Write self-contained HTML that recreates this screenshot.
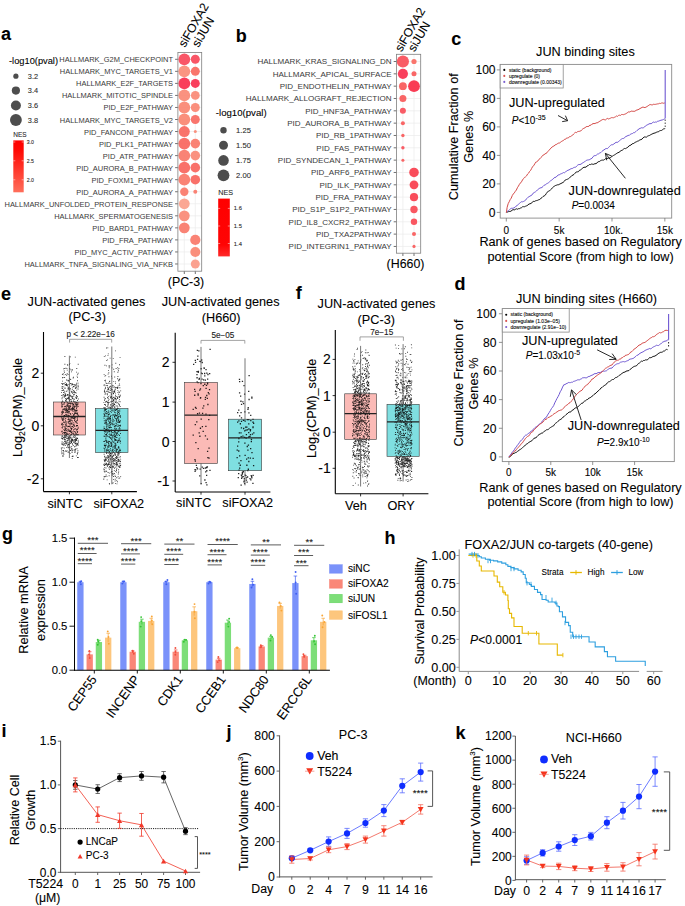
<!DOCTYPE html>
<html><head><meta charset="utf-8"><title>Figure</title>
<style>
html,body{margin:0;padding:0;background:#fff;}
svg{display:block;}
text{font-family:"Liberation Sans",sans-serif;stroke:#000;stroke-width:0.18px;stroke-opacity:0.55;}
</style></head><body>
<svg width="685" height="906" viewBox="0 0 685 906" font-family="Liberation Sans, sans-serif">
<rect width="685" height="906" fill="#fff"/>
<text x="1" y="39.5" font-size="18" font-weight="bold">a</text>
<rect x="177.9" y="52.4" width="23.8" height="218.8" fill="#fff" stroke="none" stroke-width="1" />
<line x1="184.3" y1="52.4" x2="184.3" y2="271.2" stroke="#ebebeb" stroke-width="0.7" />
<line x1="184.3" y1="271.2" x2="184.3" y2="274" stroke="#333" stroke-width="0.7" />
<line x1="195.3" y1="52.4" x2="195.3" y2="271.2" stroke="#ebebeb" stroke-width="0.7" />
<line x1="195.3" y1="271.2" x2="195.3" y2="274" stroke="#333" stroke-width="0.7" />
<line x1="177.9" y1="59.3" x2="201.7" y2="59.3" stroke="#ebebeb" stroke-width="0.7" />
<line x1="175.1" y1="59.3" x2="177.9" y2="59.3" stroke="#333" stroke-width="0.7" />
<text x="173" y="62.3" font-size="7.47" text-anchor="end" fill="#3a3a3a" stroke="#3a3a3a" style="stroke:none">HALLMARK_G2M_CHECKPOINT</text>
<line x1="177.9" y1="71.34" x2="201.7" y2="71.34" stroke="#ebebeb" stroke-width="0.7" />
<line x1="175.1" y1="71.34" x2="177.9" y2="71.34" stroke="#333" stroke-width="0.7" />
<text x="173" y="74.34" font-size="7.47" text-anchor="end" fill="#3a3a3a" stroke="#3a3a3a" style="stroke:none">HALLMARK_MYC_TARGETS_V1</text>
<line x1="177.9" y1="83.38" x2="201.7" y2="83.38" stroke="#ebebeb" stroke-width="0.7" />
<line x1="175.1" y1="83.38" x2="177.9" y2="83.38" stroke="#333" stroke-width="0.7" />
<text x="173" y="86.38" font-size="7.47" text-anchor="end" fill="#3a3a3a" stroke="#3a3a3a" style="stroke:none">HALLMARK_E2F_TARGETS</text>
<line x1="177.9" y1="95.42" x2="201.7" y2="95.42" stroke="#ebebeb" stroke-width="0.7" />
<line x1="175.1" y1="95.42" x2="177.9" y2="95.42" stroke="#333" stroke-width="0.7" />
<text x="173" y="98.42" font-size="7.47" text-anchor="end" fill="#3a3a3a" stroke="#3a3a3a" style="stroke:none">HALLMARK_MITOTIC_SPINDLE</text>
<line x1="177.9" y1="107.46" x2="201.7" y2="107.46" stroke="#ebebeb" stroke-width="0.7" />
<line x1="175.1" y1="107.46" x2="177.9" y2="107.46" stroke="#333" stroke-width="0.7" />
<text x="173" y="110.46" font-size="7.47" text-anchor="end" fill="#3a3a3a" stroke="#3a3a3a" style="stroke:none">PID_E2F_PATHWAY</text>
<line x1="177.9" y1="119.5" x2="201.7" y2="119.5" stroke="#ebebeb" stroke-width="0.7" />
<line x1="175.1" y1="119.5" x2="177.9" y2="119.5" stroke="#333" stroke-width="0.7" />
<text x="173" y="122.5" font-size="7.47" text-anchor="end" fill="#3a3a3a" stroke="#3a3a3a" style="stroke:none">HALLMARK_MYC_TARGETS_V2</text>
<line x1="177.9" y1="131.54" x2="201.7" y2="131.54" stroke="#ebebeb" stroke-width="0.7" />
<line x1="175.1" y1="131.54" x2="177.9" y2="131.54" stroke="#333" stroke-width="0.7" />
<text x="173" y="134.54" font-size="7.47" text-anchor="end" fill="#3a3a3a" stroke="#3a3a3a" style="stroke:none">PID_FANCONI_PATHWAY</text>
<line x1="177.9" y1="143.58" x2="201.7" y2="143.58" stroke="#ebebeb" stroke-width="0.7" />
<line x1="175.1" y1="143.58" x2="177.9" y2="143.58" stroke="#333" stroke-width="0.7" />
<text x="173" y="146.58" font-size="7.47" text-anchor="end" fill="#3a3a3a" stroke="#3a3a3a" style="stroke:none">PID_PLK1_PATHWAY</text>
<line x1="177.9" y1="155.62" x2="201.7" y2="155.62" stroke="#ebebeb" stroke-width="0.7" />
<line x1="175.1" y1="155.62" x2="177.9" y2="155.62" stroke="#333" stroke-width="0.7" />
<text x="173" y="158.62" font-size="7.47" text-anchor="end" fill="#3a3a3a" stroke="#3a3a3a" style="stroke:none">PID_ATR_PATHWAY</text>
<line x1="177.9" y1="167.66" x2="201.7" y2="167.66" stroke="#ebebeb" stroke-width="0.7" />
<line x1="175.1" y1="167.66" x2="177.9" y2="167.66" stroke="#333" stroke-width="0.7" />
<text x="173" y="170.66" font-size="7.47" text-anchor="end" fill="#3a3a3a" stroke="#3a3a3a" style="stroke:none">PID_AURORA_B_PATHWAY</text>
<line x1="177.9" y1="179.7" x2="201.7" y2="179.7" stroke="#ebebeb" stroke-width="0.7" />
<line x1="175.1" y1="179.7" x2="177.9" y2="179.7" stroke="#333" stroke-width="0.7" />
<text x="173" y="182.7" font-size="7.47" text-anchor="end" fill="#3a3a3a" stroke="#3a3a3a" style="stroke:none">PID_FOXM1_PATHWAY</text>
<line x1="177.9" y1="191.74" x2="201.7" y2="191.74" stroke="#ebebeb" stroke-width="0.7" />
<line x1="175.1" y1="191.74" x2="177.9" y2="191.74" stroke="#333" stroke-width="0.7" />
<text x="173" y="194.74" font-size="7.47" text-anchor="end" fill="#3a3a3a" stroke="#3a3a3a" style="stroke:none">PID_AURORA_A_PATHWAY</text>
<line x1="177.9" y1="203.78" x2="201.7" y2="203.78" stroke="#ebebeb" stroke-width="0.7" />
<line x1="175.1" y1="203.78" x2="177.9" y2="203.78" stroke="#333" stroke-width="0.7" />
<text x="173" y="206.78" font-size="7.47" text-anchor="end" fill="#3a3a3a" stroke="#3a3a3a" style="stroke:none">HALLMARK_UNFOLDED_PROTEIN_RESPONSE</text>
<line x1="177.9" y1="215.82" x2="201.7" y2="215.82" stroke="#ebebeb" stroke-width="0.7" />
<line x1="175.1" y1="215.82" x2="177.9" y2="215.82" stroke="#333" stroke-width="0.7" />
<text x="173" y="218.82" font-size="7.47" text-anchor="end" fill="#3a3a3a" stroke="#3a3a3a" style="stroke:none">HALLMARK_SPERMATOGENESIS</text>
<line x1="177.9" y1="227.86" x2="201.7" y2="227.86" stroke="#ebebeb" stroke-width="0.7" />
<line x1="175.1" y1="227.86" x2="177.9" y2="227.86" stroke="#333" stroke-width="0.7" />
<text x="173" y="230.86" font-size="7.47" text-anchor="end" fill="#3a3a3a" stroke="#3a3a3a" style="stroke:none">PID_BARD1_PATHWAY</text>
<line x1="177.9" y1="239.9" x2="201.7" y2="239.9" stroke="#ebebeb" stroke-width="0.7" />
<line x1="175.1" y1="239.9" x2="177.9" y2="239.9" stroke="#333" stroke-width="0.7" />
<text x="173" y="242.9" font-size="7.47" text-anchor="end" fill="#3a3a3a" stroke="#3a3a3a" style="stroke:none">PID_FRA_PATHWAY</text>
<line x1="177.9" y1="251.94" x2="201.7" y2="251.94" stroke="#ebebeb" stroke-width="0.7" />
<line x1="175.1" y1="251.94" x2="177.9" y2="251.94" stroke="#333" stroke-width="0.7" />
<text x="173" y="254.94" font-size="7.47" text-anchor="end" fill="#3a3a3a" stroke="#3a3a3a" style="stroke:none">PID_MYC_ACTIV_PATHWAY</text>
<line x1="177.9" y1="263.98" x2="201.7" y2="263.98" stroke="#ebebeb" stroke-width="0.7" />
<line x1="175.1" y1="263.98" x2="177.9" y2="263.98" stroke="#333" stroke-width="0.7" />
<text x="173" y="266.98" font-size="7.47" text-anchor="end" fill="#3a3a3a" stroke="#3a3a3a" style="stroke:none">HALLMARK_TNFA_SIGNALING_VIA_NFKB</text>
<circle cx="184.3" cy="59.3" r="5.9" fill="#f9495b" fill-opacity="0.93"/>
<circle cx="195.3" cy="59.3" r="4.5" fill="#f9485a" fill-opacity="0.93"/>
<circle cx="184.3" cy="71.34" r="5.9" fill="#fa8d78" fill-opacity="0.93"/>
<circle cx="195.3" cy="71.34" r="4.5" fill="#f96a60" fill-opacity="0.93"/>
<circle cx="184.3" cy="83.38" r="5.9" fill="#f9304f" fill-opacity="0.93"/>
<circle cx="195.3" cy="83.38" r="4.5" fill="#f93050" fill-opacity="0.93"/>
<circle cx="184.3" cy="95.42" r="5.9" fill="#fa8a76" fill-opacity="0.93"/>
<circle cx="195.3" cy="95.42" r="4.4" fill="#fa8a76" fill-opacity="0.93"/>
<circle cx="184.3" cy="107.46" r="5.9" fill="#fa8773" fill-opacity="0.93"/>
<circle cx="195.3" cy="107.46" r="4.5" fill="#fa8773" fill-opacity="0.93"/>
<circle cx="184.3" cy="119.5" r="5.9" fill="#fa8672" fill-opacity="0.93"/>
<circle cx="195.3" cy="119.5" r="4.5" fill="#f96a62" fill-opacity="0.93"/>
<circle cx="184.3" cy="131.54" r="5.5" fill="#f96860" fill-opacity="0.93"/>
<circle cx="195.3" cy="131.54" r="1.5" fill="#fa8a76" fill-opacity="0.93"/>
<circle cx="184.3" cy="143.58" r="5.9" fill="#f9665f" fill-opacity="0.93"/>
<circle cx="195.3" cy="143.58" r="4.8" fill="#fa7a6a" fill-opacity="0.93"/>
<circle cx="184.3" cy="155.62" r="5.9" fill="#f97a6a" fill-opacity="0.93"/>
<circle cx="195.3" cy="155.62" r="4.8" fill="#fa8a76" fill-opacity="0.93"/>
<circle cx="184.3" cy="167.66" r="5.9" fill="#f9665f" fill-opacity="0.93"/>
<circle cx="195.3" cy="167.66" r="4.8" fill="#f9665f" fill-opacity="0.93"/>
<circle cx="184.3" cy="179.7" r="5.9" fill="#fa7a6a" fill-opacity="0.93"/>
<circle cx="195.3" cy="179.7" r="4.8" fill="#f9665f" fill-opacity="0.93"/>
<circle cx="184.3" cy="191.74" r="4.2" fill="#fa7a6a" fill-opacity="0.93"/>
<circle cx="195.3" cy="191.74" r="2" fill="#fa7a6a" fill-opacity="0.93"/>
<circle cx="184.3" cy="203.78" r="5.4" fill="#fba08c" fill-opacity="0.93"/>
<circle cx="184.3" cy="215.82" r="5.4" fill="#fa8a76" fill-opacity="0.93"/>
<circle cx="184.3" cy="227.86" r="5.4" fill="#f97a6a" fill-opacity="0.93"/>
<circle cx="195.3" cy="239.9" r="5.1" fill="#fa7a6a" fill-opacity="0.93"/>
<circle cx="195.3" cy="251.94" r="5" fill="#fa8672" fill-opacity="0.93"/>
<circle cx="195.3" cy="263.98" r="4.5" fill="#fb9a86" fill-opacity="0.93"/>
<rect x="177.9" y="52.4" width="23.8" height="218.8" fill="none" stroke="#7f7f7f" stroke-width="0.8" />
<text x="185" y="48.1" font-size="12.1" transform="rotate(-60 185 48.1)">siFOXA2</text>
<text x="198.6" y="48.1" font-size="12.1" transform="rotate(-60 198.6 48.1)">siJUN</text>
<text x="186" y="286.2" font-size="12.4" text-anchor="middle">(PC-3)</text>
<text x="9" y="64.2" font-size="9.3" textLength="49" lengthAdjust="spacingAndGlyphs">-log10(pval)</text>
<circle cx="15.9" cy="76.2" r="2.6" fill="#4d4d4d" />
<text x="27.8" y="78.8" font-size="7.4" fill="#333" stroke="#333">3.2</text>
<circle cx="15.9" cy="90.6" r="4.1" fill="#4d4d4d" />
<text x="27.8" y="93.2" font-size="7.4" fill="#333" stroke="#333">3.4</text>
<circle cx="15.9" cy="105.5" r="5" fill="#4d4d4d" />
<text x="27.8" y="108.1" font-size="7.4" fill="#333" stroke="#333">3.6</text>
<circle cx="15.9" cy="120" r="5.9" fill="#4d4d4d" />
<text x="27.8" y="122.6" font-size="7.4" fill="#333" stroke="#333">3.8</text>
<text x="13.2" y="136.6" font-size="6.5" fill="#333" stroke="#333">NES</text>
<defs><linearGradient id="ga" x1="0" y1="0" x2="0" y2="1"><stop offset="0" stop-color="#ff0000"/><stop offset="0.2" stop-color="#ff0a05"/><stop offset="1" stop-color="#ff6e5a"/></linearGradient><linearGradient id="gb" x1="0" y1="0" x2="0" y2="1"><stop offset="0" stop-color="#ff0000"/><stop offset="0.8" stop-color="#ff0404"/><stop offset="1" stop-color="#ff2a2a"/></linearGradient></defs>
<rect x="13.3" y="140.4" width="10.4" height="51.9" fill="url(#ga)" stroke="none" stroke-width="1" />
<line x1="13.3" y1="142" x2="15.3" y2="142" stroke="#fff" stroke-width="0.5" />
<line x1="21.7" y1="142" x2="23.7" y2="142" stroke="#fff" stroke-width="0.5" />
<text x="26.8" y="143.8" font-size="5.2" fill="#333" stroke="#333">3.0</text>
<line x1="13.3" y1="160.8" x2="15.3" y2="160.8" stroke="#fff" stroke-width="0.5" />
<line x1="21.7" y1="160.8" x2="23.7" y2="160.8" stroke="#fff" stroke-width="0.5" />
<text x="26.8" y="162.6" font-size="5.2" fill="#333" stroke="#333">2.5</text>
<line x1="13.3" y1="179.8" x2="15.3" y2="179.8" stroke="#fff" stroke-width="0.5" />
<line x1="21.7" y1="179.8" x2="23.7" y2="179.8" stroke="#fff" stroke-width="0.5" />
<text x="26.8" y="181.6" font-size="5.2" fill="#333" stroke="#333">2.0</text>
<text x="235.8" y="42.2" font-size="18" font-weight="bold">b</text>
<rect x="396.5" y="54.3" width="24.2" height="198.9" fill="#fff" stroke="none" stroke-width="1" />
<line x1="402.9" y1="54.3" x2="402.9" y2="253.2" stroke="#ebebeb" stroke-width="0.7" />
<line x1="402.9" y1="253.2" x2="402.9" y2="256" stroke="#333" stroke-width="0.7" />
<line x1="414" y1="54.3" x2="414" y2="253.2" stroke="#ebebeb" stroke-width="0.7" />
<line x1="414" y1="253.2" x2="414" y2="256" stroke="#333" stroke-width="0.7" />
<line x1="396.5" y1="61.5" x2="420.7" y2="61.5" stroke="#ebebeb" stroke-width="0.7" />
<line x1="393.7" y1="61.5" x2="396.5" y2="61.5" stroke="#333" stroke-width="0.7" />
<text x="391.6" y="64.3" font-size="8.05" text-anchor="end" fill="#3a3a3a" stroke="#3a3a3a" style="stroke:none">HALLMARK_KRAS_SIGNALING_DN</text>
<line x1="396.5" y1="73.83" x2="420.7" y2="73.83" stroke="#ebebeb" stroke-width="0.7" />
<line x1="393.7" y1="73.83" x2="396.5" y2="73.83" stroke="#333" stroke-width="0.7" />
<text x="391.6" y="76.63" font-size="8.05" text-anchor="end" fill="#3a3a3a" stroke="#3a3a3a" style="stroke:none">HALLMARK_APICAL_SURFACE</text>
<line x1="396.5" y1="86.16" x2="420.7" y2="86.16" stroke="#ebebeb" stroke-width="0.7" />
<line x1="393.7" y1="86.16" x2="396.5" y2="86.16" stroke="#333" stroke-width="0.7" />
<text x="391.6" y="88.96" font-size="8.05" text-anchor="end" fill="#3a3a3a" stroke="#3a3a3a" style="stroke:none">PID_ENDOTHELIN_PATHWAY</text>
<line x1="396.5" y1="98.49" x2="420.7" y2="98.49" stroke="#ebebeb" stroke-width="0.7" />
<line x1="393.7" y1="98.49" x2="396.5" y2="98.49" stroke="#333" stroke-width="0.7" />
<text x="391.6" y="101.29" font-size="8.05" text-anchor="end" fill="#3a3a3a" stroke="#3a3a3a" style="stroke:none">HALLMARK_ALLOGRAFT_REJECTION</text>
<line x1="396.5" y1="110.82" x2="420.7" y2="110.82" stroke="#ebebeb" stroke-width="0.7" />
<line x1="393.7" y1="110.82" x2="396.5" y2="110.82" stroke="#333" stroke-width="0.7" />
<text x="391.6" y="113.62" font-size="8.05" text-anchor="end" fill="#3a3a3a" stroke="#3a3a3a" style="stroke:none">PID_HNF3A_PATHWAY</text>
<line x1="396.5" y1="123.15" x2="420.7" y2="123.15" stroke="#ebebeb" stroke-width="0.7" />
<line x1="393.7" y1="123.15" x2="396.5" y2="123.15" stroke="#333" stroke-width="0.7" />
<text x="391.6" y="125.95" font-size="8.05" text-anchor="end" fill="#3a3a3a" stroke="#3a3a3a" style="stroke:none">PID_AURORA_B_PATHWAY</text>
<line x1="396.5" y1="135.48" x2="420.7" y2="135.48" stroke="#ebebeb" stroke-width="0.7" />
<line x1="393.7" y1="135.48" x2="396.5" y2="135.48" stroke="#333" stroke-width="0.7" />
<text x="391.6" y="138.28" font-size="8.05" text-anchor="end" fill="#3a3a3a" stroke="#3a3a3a" style="stroke:none">PID_RB_1PATHWAY</text>
<line x1="396.5" y1="147.81" x2="420.7" y2="147.81" stroke="#ebebeb" stroke-width="0.7" />
<line x1="393.7" y1="147.81" x2="396.5" y2="147.81" stroke="#333" stroke-width="0.7" />
<text x="391.6" y="150.61" font-size="8.05" text-anchor="end" fill="#3a3a3a" stroke="#3a3a3a" style="stroke:none">PID_FAS_PATHWAY</text>
<line x1="396.5" y1="160.14" x2="420.7" y2="160.14" stroke="#ebebeb" stroke-width="0.7" />
<line x1="393.7" y1="160.14" x2="396.5" y2="160.14" stroke="#333" stroke-width="0.7" />
<text x="391.6" y="162.94" font-size="8.05" text-anchor="end" fill="#3a3a3a" stroke="#3a3a3a" style="stroke:none">PID_SYNDECAN_1_PATHWAY</text>
<line x1="396.5" y1="172.47" x2="420.7" y2="172.47" stroke="#ebebeb" stroke-width="0.7" />
<line x1="393.7" y1="172.47" x2="396.5" y2="172.47" stroke="#333" stroke-width="0.7" />
<text x="391.6" y="175.27" font-size="8.05" text-anchor="end" fill="#3a3a3a" stroke="#3a3a3a" style="stroke:none">PID_ARF6_PATHWAY</text>
<line x1="396.5" y1="184.8" x2="420.7" y2="184.8" stroke="#ebebeb" stroke-width="0.7" />
<line x1="393.7" y1="184.8" x2="396.5" y2="184.8" stroke="#333" stroke-width="0.7" />
<text x="391.6" y="187.6" font-size="8.05" text-anchor="end" fill="#3a3a3a" stroke="#3a3a3a" style="stroke:none">PID_ILK_PATHWAY</text>
<line x1="396.5" y1="197.13" x2="420.7" y2="197.13" stroke="#ebebeb" stroke-width="0.7" />
<line x1="393.7" y1="197.13" x2="396.5" y2="197.13" stroke="#333" stroke-width="0.7" />
<text x="391.6" y="199.93" font-size="8.05" text-anchor="end" fill="#3a3a3a" stroke="#3a3a3a" style="stroke:none">PID_FRA_PATHWAY</text>
<line x1="396.5" y1="209.46" x2="420.7" y2="209.46" stroke="#ebebeb" stroke-width="0.7" />
<line x1="393.7" y1="209.46" x2="396.5" y2="209.46" stroke="#333" stroke-width="0.7" />
<text x="391.6" y="212.26" font-size="8.05" text-anchor="end" fill="#3a3a3a" stroke="#3a3a3a" style="stroke:none">PID_S1P_S1P2_PATHWAY</text>
<line x1="396.5" y1="221.79" x2="420.7" y2="221.79" stroke="#ebebeb" stroke-width="0.7" />
<line x1="393.7" y1="221.79" x2="396.5" y2="221.79" stroke="#333" stroke-width="0.7" />
<text x="391.6" y="224.59" font-size="8.05" text-anchor="end" fill="#3a3a3a" stroke="#3a3a3a" style="stroke:none">PID_IL8_CXCR2_PATHWAY</text>
<line x1="396.5" y1="234.12" x2="420.7" y2="234.12" stroke="#ebebeb" stroke-width="0.7" />
<line x1="393.7" y1="234.12" x2="396.5" y2="234.12" stroke="#333" stroke-width="0.7" />
<text x="391.6" y="236.92" font-size="8.05" text-anchor="end" fill="#3a3a3a" stroke="#3a3a3a" style="stroke:none">PID_TXA2PATHWAY</text>
<line x1="396.5" y1="246.45" x2="420.7" y2="246.45" stroke="#ebebeb" stroke-width="0.7" />
<line x1="393.7" y1="246.45" x2="396.5" y2="246.45" stroke="#333" stroke-width="0.7" />
<text x="391.6" y="249.25" font-size="8.05" text-anchor="end" fill="#3a3a3a" stroke="#3a3a3a" style="stroke:none">PID_INTEGRIN1_PATHWAY</text>
<circle cx="402.9" cy="61.5" r="6.1" fill="#f9505a" fill-opacity="0.93"/>
<circle cx="414" cy="61.5" r="2.6" fill="#fa6a62" fill-opacity="0.93"/>
<circle cx="402.9" cy="73.83" r="5.1" fill="#f93050" fill-opacity="0.93"/>
<circle cx="414" cy="73.83" r="2.5" fill="#f95a5a" fill-opacity="0.93"/>
<circle cx="402.9" cy="86.16" r="3.9" fill="#f95a5a" fill-opacity="0.93"/>
<circle cx="414" cy="86.16" r="5.9" fill="#f92e48" fill-opacity="0.93"/>
<circle cx="402.9" cy="98.49" r="3.5" fill="#f95a5a" fill-opacity="0.93"/>
<circle cx="402.9" cy="110.82" r="3" fill="#f9505a" fill-opacity="0.93"/>
<circle cx="402.9" cy="123.15" r="2" fill="#f95a5a" fill-opacity="0.93"/>
<circle cx="402.9" cy="135.48" r="1.7" fill="#f95a5a" fill-opacity="0.93"/>
<circle cx="402.9" cy="147.81" r="1.7" fill="#f9505a" fill-opacity="0.93"/>
<circle cx="402.9" cy="160.14" r="1.5" fill="#f95a5a" fill-opacity="0.93"/>
<circle cx="414" cy="172.47" r="4.8" fill="#f9404f" fill-opacity="0.93"/>
<circle cx="414" cy="184.8" r="4.4" fill="#f9404f" fill-opacity="0.93"/>
<circle cx="414" cy="197.13" r="4.1" fill="#f9404f" fill-opacity="0.93"/>
<circle cx="414" cy="209.46" r="3.7" fill="#f94a55" fill-opacity="0.93"/>
<circle cx="414" cy="221.79" r="3.2" fill="#f94a55" fill-opacity="0.93"/>
<circle cx="414" cy="234.12" r="2" fill="#f95a5a" fill-opacity="0.93"/>
<circle cx="414" cy="246.45" r="1.6" fill="#f95a5a" fill-opacity="0.93"/>
<rect x="396.5" y="54.3" width="24.2" height="198.9" fill="none" stroke="#7f7f7f" stroke-width="0.8" />
<text x="401.4" y="52.5" font-size="12.1" transform="rotate(-60 401.4 52.5)">siFOXA2</text>
<text x="414.5" y="52.5" font-size="12.1" transform="rotate(-60 414.5 52.5)">siJUN</text>
<text x="405.5" y="268" font-size="12.4" text-anchor="middle">(H660)</text>
<text x="215.8" y="116.3" font-size="9.6" textLength="50.8" lengthAdjust="spacingAndGlyphs">-log10(pval)</text>
<circle cx="223.5" cy="130.3" r="3.2" fill="#4d4d4d" />
<text x="236.1" y="133" font-size="7.6" fill="#333" stroke="#333">1.25</text>
<circle cx="223.5" cy="145.3" r="4.5" fill="#4d4d4d" />
<text x="236.1" y="148" font-size="7.6" fill="#333" stroke="#333">1.50</text>
<circle cx="223.5" cy="160.4" r="5.3" fill="#4d4d4d" />
<text x="236.1" y="163.1" font-size="7.6" fill="#333" stroke="#333">1.75</text>
<circle cx="223.5" cy="175.3" r="5.9" fill="#4d4d4d" />
<text x="236.1" y="178" font-size="7.6" fill="#333" stroke="#333">2.00</text>
<text x="218.2" y="194.6" font-size="7.2" fill="#333" stroke="#333">NES</text>
<rect x="218.2" y="198.6" width="11.6" height="57.8" fill="url(#gb)" stroke="none" stroke-width="1" />
<line x1="218.2" y1="208.4" x2="220.2" y2="208.4" stroke="#fff" stroke-width="0.5" />
<line x1="227.8" y1="208.4" x2="229.8" y2="208.4" stroke="#fff" stroke-width="0.5" />
<text x="233.8" y="210.4" font-size="5.8" fill="#333" stroke="#333">1.6</text>
<line x1="218.2" y1="226" x2="220.2" y2="226" stroke="#fff" stroke-width="0.5" />
<line x1="227.8" y1="226" x2="229.8" y2="226" stroke="#fff" stroke-width="0.5" />
<text x="233.8" y="228" font-size="5.8" fill="#333" stroke="#333">1.5</text>
<line x1="218.2" y1="243.5" x2="220.2" y2="243.5" stroke="#fff" stroke-width="0.5" />
<line x1="227.8" y1="243.5" x2="229.8" y2="243.5" stroke="#fff" stroke-width="0.5" />
<text x="233.8" y="245.5" font-size="5.8" fill="#333" stroke="#333">1.4</text>
<text x="451.2" y="45" font-size="18" font-weight="bold">c</text>
<rect x="500.2" y="64.4" width="171.5" height="153.7" fill="none" stroke="#8a8a8a" stroke-width="0.9" />
<line x1="496.8" y1="212.4" x2="500.2" y2="212.4" stroke="#666" stroke-width="0.7" />
<text x="495.6" y="216.7" font-size="12.1" text-anchor="end">0</text>
<line x1="496.8" y1="183.9" x2="500.2" y2="183.9" stroke="#666" stroke-width="0.7" />
<text x="495.6" y="188.2" font-size="12.1" text-anchor="end">20</text>
<line x1="496.8" y1="155.4" x2="500.2" y2="155.4" stroke="#666" stroke-width="0.7" />
<text x="495.6" y="159.7" font-size="12.1" text-anchor="end">40</text>
<line x1="496.8" y1="126.9" x2="500.2" y2="126.9" stroke="#666" stroke-width="0.7" />
<text x="495.6" y="131.2" font-size="12.1" text-anchor="end">60</text>
<line x1="496.8" y1="98.4" x2="500.2" y2="98.4" stroke="#666" stroke-width="0.7" />
<text x="495.6" y="102.7" font-size="12.1" text-anchor="end">80</text>
<line x1="496.8" y1="69.9" x2="500.2" y2="69.9" stroke="#666" stroke-width="0.7" />
<text x="495.6" y="74.2" font-size="12.1" text-anchor="end">100</text>
<line x1="506.3" y1="218.1" x2="506.3" y2="221.5" stroke="#666" stroke-width="0.7" />
<text x="506.3" y="234.2" font-size="10" text-anchor="middle">0</text>
<line x1="559.15" y1="218.1" x2="559.15" y2="221.5" stroke="#666" stroke-width="0.7" />
<text x="559.15" y="234.2" font-size="10" text-anchor="middle">5k</text>
<line x1="612" y1="218.1" x2="612" y2="221.5" stroke="#666" stroke-width="0.7" />
<text x="613.5" y="234.2" font-size="10" text-anchor="middle">10k.</text>
<line x1="664.85" y1="218.1" x2="664.85" y2="221.5" stroke="#666" stroke-width="0.7" />
<text x="664.85" y="234.2" font-size="10" text-anchor="middle">15k</text>
<text x="585.4" y="56" font-size="12.7" text-anchor="middle">JUN binding sites</text>
<text x="458.5" y="136.7" font-size="12.7" text-anchor="middle" transform="rotate(-90 458.5 136.7)">Cumulative Fraction of</text>
<text x="473.5" y="136.7" font-size="12.7" text-anchor="middle" transform="rotate(-90 473.5 136.7)">Genes %</text>
<text x="580.6" y="246.4" font-size="12.7" text-anchor="middle">Rank of genes based on Regulatory</text>
<text x="580.6" y="260.7" font-size="12.7" text-anchor="middle">potential Score (from high to low)</text>
<rect x="500.2" y="64.4" width="63" height="23.6" fill="#fff" stroke="#8a8a8a" stroke-width="0.8" />
<circle cx="504.3" cy="69.9" r="1.05" fill="#000" />
<text x="508.9" y="71.6" font-size="5">static (background)</text>
<circle cx="504.3" cy="75.9" r="1.05" fill="#d9534f" />
<text x="508.9" y="77.6" font-size="5">upregulate (0)</text>
<circle cx="504.3" cy="81.9" r="1.05" fill="#7b5fd0" />
<text x="508.9" y="83.6" font-size="5">downregulate (0.00343)</text>
<polyline points="506.39,212.21 507.51,212.04 508.62,211.59 509.74,211.46 510.86,211.26 511.98,210.34 513.09,209.58 514.21,209.97 515.33,209.37 516.35,208.81 517.37,209.23 518.4,208.7 519.42,208.67 520.44,208.06 521.46,207.74 522.48,206.81 523.51,206.68 524.53,206.73 525.55,206.19 526.64,205.81 527.74,205.28 528.83,204.01 529.93,203.87 531.02,203.36 532.12,202.49 533.21,201.42 534.31,201.53 535.4,200.89 536.5,200.57 537.59,200.33 538.69,199.76 539.78,199.43 540.88,198.37 541.97,197.66 543.07,196.44 544.16,195.93 545.26,195.19 546.35,193.45 547.45,192.08 548.54,190.99 549.57,190.81 550.59,189.68 551.61,188.85 552.63,187.56 553.65,186.65 554.68,186.03 555.7,185.42 556.72,185.12 557.74,184.74 558.76,184.69 559.86,183.97 560.95,183.54 562.05,182.91 563.14,182.4 564.24,181.41 565.33,179.92 566.43,179.57 567.52,179.19 568.62,178.6 569.71,177.56 570.81,176.81 571.9,175.46 573,175.11 574.09,174.3 575.19,173.17 576.28,171.94 577.38,171.85 578.47,171.67 579.57,170.19 580.66,169.87 581.76,168.91 582.85,167.92 583.95,167.27 585.04,167.24 586.14,167.12 587.23,165.84 588.33,165.53 589.42,164.45 590.52,164.57 591.61,164.03 592.71,164.22 593.8,164.31 594.9,163.65 595.99,163.69 597.09,162.75 598.18,161.76 599.28,161.64 600.37,160.75 601.47,160.26 602.56,160.08 603.66,160.07 604.75,159.37 605.85,158.48 606.94,158.72 608.04,157.98 609.13,158.1 610.23,157.87 611.32,156.89 612.42,156.19 613.51,155.43 614.61,154.84 615.7,154.13 616.8,153.37 617.89,152.69 618.99,152.38 620.08,151.38 621.18,150.58 622.27,150.23 623.37,149.22 624.46,148.47 625.56,148.61 626.65,147.93 627.75,147.34 628.84,146.01 629.94,145.43 631.03,145.02 632.13,143.84 633.22,143.59 634.32,143.19 635.41,142 636.51,141.74 637.6,141.15 638.7,140.8 639.79,139.95 640.89,139.61 641.98,139.2 643.08,137.85 644.17,136.98 645.27,137.01 646.36,137.18 647.46,136.24 648.55,135.73 649.65,135.4 650.74,134.68 651.84,134.15 652.93,133.6 654.03,133.16 655.12,132.99 656.22,132.36 657.31,131.9 658.41,131.92 659.47,130.79 660.53,130.56 661.6,130.42 662.66,129.61 663.73,128.82 664.79,128.73" fill="none" stroke="#111" stroke-width="1" stroke-linejoin="round" />
<polyline points="506.39,212.21 507.45,211.14 508.52,210.56 509.58,209.63 510.65,208.68 511.71,208.22 512.77,208.27 513.87,207.9 514.96,207.36 516.06,206.11 517.15,205.46 518.25,204.48 519.34,203.49 520.44,202.54 521.46,201.75 522.48,201.82 523.51,201.44 524.53,200.88 525.55,200.23 526.64,198.66 527.74,197.49 528.83,196.8 529.93,196.15 531.02,195.54 532.12,194.84 533.21,193.11 534.31,192.47 535.4,191.86 536.5,190.99 537.59,189.76 538.69,189.08 539.78,187.9 540.88,187.9 541.97,187.44 543.07,186.44 544.16,185.21 545.26,184.87 546.35,183.93 547.45,183.39 548.54,182.7 549.61,181.7 550.67,180.71 551.74,180.07 552.8,179.21 553.87,178.09 554.93,177.33 556,177.25 557.06,176.02 558.12,175.03 559.19,174.88 560.25,174.11 561.32,173.71 562.41,173.22 563.51,172.56 564.6,172.73 565.7,171.65 566.79,171.04 567.89,170.2 568.98,170 570.08,169.23 571.17,168.65 572.27,168.55 573.36,167.75 574.46,167.35 575.55,167.3 576.65,166.09 577.74,165.09 578.84,164.48 579.93,164.53 581.03,164.17 582.12,163.28 583.22,162.63 584.31,161.85 585.41,161.31 586.5,160.2 587.6,160.02 588.69,159.86 589.79,159.55 590.88,158.8 591.98,158.33 593.07,156.66 594.17,155.71 595.26,155.68 596.36,155.15 597.45,154.11 598.55,153.86 599.64,153.04 600.74,152.62 601.83,151.5 602.93,150.47 604.02,149.93 605.12,149 606.21,148.5 607.31,148.66 608.4,147.66 609.5,146.4 610.59,145.4 611.69,144.68 612.78,144.71 613.88,143.94 614.97,143.11 616.07,142.22 617.16,142.51 618.26,141.78 619.35,140.85 620.45,139.88 621.54,139.06 622.64,138.47 623.73,138.39 624.83,137.42 625.92,136.44 627.02,136.11 628.11,135.34 629.21,135.51 630.3,134.28 631.4,133.79 632.49,133.52 633.59,132.66 634.68,132.58 635.78,131.65 636.87,130.55 637.97,129.83 639.06,128.8 640.16,128.42 641.25,127.77 642.35,127.92 643.44,127.73 644.54,127 645.63,125.78 646.73,125.17 647.82,124.6 648.92,124.02 650.01,123.52 651.11,123.79 652.2,122.89 653.3,122.05 654.39,122.41 655.49,122 656.58,122.08 657.68,121.23 658.77,121.12 659.87,120.58 660.96,120.22 662.24,119.98 663.52,119.44 664.79,118.76" fill="none" stroke="#6f58d2" stroke-width="1" stroke-linejoin="round" />
<polyline points="506.39,212.68 507.15,207.29 508.18,203.66 509.2,201.78 510.22,199.55 511.24,198.14 512.26,195.6 513.29,193.96 514.31,192.92 515.33,191.3 516.35,190.05 517.37,187.75 518.4,186.18 519.42,184.35 520.44,183 521.46,181.87 522.48,180.01 523.51,178.63 524.53,177.36 525.55,176.85 526.57,175.86 527.59,174.02 528.62,173.17 529.64,171.36 530.66,170.34 531.68,168.37 532.7,166.43 533.73,165.69 534.75,163.84 535.77,162.13 536.79,161.82 537.81,161.05 538.83,159.43 539.86,158.82 540.88,157.5 541.9,156.63 542.92,155.17 543.94,154.81 544.97,153.93 545.99,153.36 547.01,152.72 548.03,151.31 549.05,150.24 550.08,149.05 551.1,148.01 552.12,146.98 553.14,146.34 554.16,146.01 555.19,144.79 556.21,144.55 557.23,143.85 558.25,143.16 559.27,143.1 560.3,142.42 561.32,141.57 562.34,140.96 563.36,140.59 564.38,139.33 565.41,139.41 566.43,138.05 567.45,137.99 568.47,137.87 569.49,136.6 570.52,136.55 571.54,135.82 572.56,135.27 573.58,134 574.6,133.01 575.63,132.32 576.65,132.56 577.67,131.58 578.69,131.42 579.71,131.29 580.74,130.98 581.76,129.83 582.78,128.91 583.8,128.31 584.82,128.01 585.85,126.79 586.87,126.57 587.89,126.46 588.91,126.31 589.93,125.06 590.96,125.25 591.98,124.17 593,123.65 594.02,123.51 595.04,123.62 596.07,122.84 597.09,122.9 598.11,122.37 599.13,121.63 600.15,121.05 601.18,120.39 602.2,119.74 603.22,119.33 604.24,119.62 605.26,120.04 606.29,119.16 607.31,118.38 608.33,118.96 609.35,118.67 610.37,118.24 611.39,117.67 612.42,117.66 613.44,117.78 614.46,117.28 615.48,116.82 616.5,115.98 617.53,116.39 618.55,115.4 619.57,115.21 620.59,115.37 621.61,114.48 622.64,114.52 623.66,114.66 624.68,114.22 625.7,114 626.72,112.91 627.75,112.51 628.77,111.78 629.79,112.03 630.81,111.38 631.83,111.04 632.86,111.34 633.88,111.26 634.9,111.24 635.92,110.47 636.94,109.93 637.97,109.77 638.99,109.21 640.01,108.5 641.03,108.06 642.05,107.35 643.08,107.06 644.1,107.47 645.12,107.54 646.14,107.04 647.16,106.45 648.19,105.75 649.21,104.95 650.23,104.56 651.25,104.81 652.27,104.95 653.3,104.3 654.32,104.4 655.34,104.36 656.36,104.16 657.38,103.93 658.41,103.82 659.47,103.35 660.53,103.47 661.6,103.01 662.66,102.97 663.73,103.27 664.79,102.92" fill="none" stroke="#d44a48" stroke-width="1" stroke-linejoin="round" />
<line x1="665.2" y1="69.9" x2="665.2" y2="118.6" stroke="#6f58d2" stroke-width="1.1" />
<line x1="665.2" y1="119.5" x2="665.2" y2="128.8" stroke="#1a1a1a" stroke-width="0.8" stroke-dasharray="1.5,1.5"/>
<text x="508.9" y="106.5" font-size="12.7">JUN-upregulated</text>
<text x="511.8" y="124" font-size="10"><tspan font-style="italic">P</tspan>&lt;10<tspan font-size="7" dy="-3.6">-35</tspan></text>
<line x1="558" y1="115.5" x2="567.6" y2="120.7" stroke="#111" stroke-width="0.9" />
<line x1="567.6" y1="120.7" x2="562.18" y2="121.61" stroke="#111" stroke-width="0.9" />
<line x1="567.6" y1="120.7" x2="565.4" y2="115.66" stroke="#111" stroke-width="0.9" />
<text x="568.6" y="194.6" font-size="12.7">JUN-downregulated</text>
<text x="571.7" y="209.1" font-size="10"><tspan font-style="italic">P</tspan>=0.0034</text>
<line x1="625.4" y1="178.3" x2="605.4" y2="153.4" stroke="#111" stroke-width="0.9" />
<line x1="605.4" y1="153.4" x2="611.83" y2="156.16" stroke="#111" stroke-width="0.9" />
<line x1="605.4" y1="153.4" x2="606.71" y2="160.28" stroke="#111" stroke-width="0.9" />
<text x="454.5" y="290.2" font-size="18" font-weight="bold">d</text>
<rect x="502.3" y="308.6" width="172" height="153" fill="none" stroke="#8a8a8a" stroke-width="0.9" />
<line x1="498.9" y1="456.9" x2="502.3" y2="456.9" stroke="#666" stroke-width="0.7" />
<text x="496.4" y="461.2" font-size="12.1" text-anchor="end">0</text>
<line x1="498.9" y1="428.27" x2="502.3" y2="428.27" stroke="#666" stroke-width="0.7" />
<text x="496.4" y="432.57" font-size="12.1" text-anchor="end">20</text>
<line x1="498.9" y1="399.64" x2="502.3" y2="399.64" stroke="#666" stroke-width="0.7" />
<text x="496.4" y="403.94" font-size="12.1" text-anchor="end">40</text>
<line x1="498.9" y1="371.01" x2="502.3" y2="371.01" stroke="#666" stroke-width="0.7" />
<text x="496.4" y="375.31" font-size="12.1" text-anchor="end">60</text>
<line x1="498.9" y1="342.38" x2="502.3" y2="342.38" stroke="#666" stroke-width="0.7" />
<text x="496.4" y="346.68" font-size="12.1" text-anchor="end">80</text>
<line x1="498.9" y1="313.75" x2="502.3" y2="313.75" stroke="#666" stroke-width="0.7" />
<text x="496.4" y="318.05" font-size="12.1" text-anchor="end">100</text>
<line x1="508.9" y1="461.6" x2="508.9" y2="465" stroke="#666" stroke-width="0.7" />
<text x="508.9" y="475.9" font-size="10" text-anchor="middle">0</text>
<line x1="550.8" y1="461.6" x2="550.8" y2="465" stroke="#666" stroke-width="0.7" />
<text x="550.8" y="475.9" font-size="10" text-anchor="middle">5k</text>
<line x1="592.7" y1="461.6" x2="592.7" y2="465" stroke="#666" stroke-width="0.7" />
<text x="592.7" y="475.9" font-size="10" text-anchor="middle">10k</text>
<line x1="634.6" y1="461.6" x2="634.6" y2="465" stroke="#666" stroke-width="0.7" />
<text x="634.6" y="475.9" font-size="10" text-anchor="middle">15k</text>
<text x="516" y="302.5" font-size="12.7">JUN binding sites (H660)</text>
<text x="463.2" y="383" font-size="12.7" text-anchor="middle" transform="rotate(-90 463.2 383)">Cumulative Fraction of</text>
<text x="478.3" y="383.5" font-size="12.7" text-anchor="middle" transform="rotate(-90 478.3 383.5)">Genes %</text>
<text x="580.5" y="491.6" font-size="12.7" text-anchor="middle">Rank of genes based on Regulatory</text>
<text x="580.5" y="505.9" font-size="12.7" text-anchor="middle">potential Score (from high to low)</text>
<rect x="502.3" y="308.6" width="66.9" height="23.5" fill="#fff" stroke="#8a8a8a" stroke-width="0.8" />
<circle cx="506.2" cy="314.7" r="1.05" fill="#000" />
<text x="510.5" y="316.4" font-size="5">static (background)</text>
<circle cx="506.2" cy="320.9" r="1.05" fill="#d9534f" />
<text x="510.5" y="322.6" font-size="5">upregulate (1.03e−05)</text>
<circle cx="506.2" cy="327" r="1.05" fill="#7b5fd0" />
<text x="510.5" y="328.7" font-size="5">downregulate (2.91e−10)</text>
<polyline points="508.72,457.29 509.81,456.85 510.89,455.91 511.98,454.81 513.07,453.56 514.15,453.33 515.24,452.69 516.32,452.38 517.41,451.45 518.44,450.96 519.48,449.73 520.51,449.3 521.55,448.63 522.58,447.51 523.62,446.66 524.65,445.99 525.68,444.67 526.72,443.98 527.75,443.54 528.79,442.3 529.82,441.86 530.85,441.24 531.89,440.76 532.92,439.57 533.96,438.28 534.99,438.07 536.03,437.65 537.06,436.68 538.09,435.39 539.13,434.45 540.16,434.12 541.2,433.22 542.23,433.18 543.26,432.44 544.3,431.23 545.33,430.77 546.37,429.84 547.4,429.69 548.44,429.28 549.47,428.27 550.5,427.53 551.54,426.86 552.57,426.29 553.61,425.87 554.64,424.19 555.67,423.19 556.71,422.55 557.74,421.47 558.78,420.84 559.81,419.53 560.85,419.36 561.88,418.5 562.91,417.17 563.95,416.69 564.98,415.65 566.02,414.56 567.05,413.92 568.08,412.89 569.12,412.07 570.15,412.08 571.19,411.59 572.22,410.18 573.26,409.97 574.29,408.64 575.32,407.93 576.36,407.9 577.39,407.25 578.43,406.2 579.46,405.36 580.49,404.48 581.53,403.3 582.56,403.32 583.6,401.86 584.63,401.09 585.67,400.69 586.7,399.7 587.73,399.48 588.77,398.13 589.8,397.87 590.84,397.28 591.87,396.33 592.9,395.69 593.94,394.44 594.97,393.83 596.01,393.08 597.04,391.97 598.08,390.92 599.11,390.24 600.14,389.14 601.18,387.76 602.21,387.4 603.25,386.27 604.28,385.53 605.31,385.22 606.35,384 607.38,382.81 608.42,381.92 609.45,381.66 610.49,380.94 611.52,380.09 612.55,379.52 613.59,379.47 614.62,378.34 615.66,377.56 616.69,377.36 617.72,376.74 618.76,375.7 619.79,375.08 620.83,374.46 621.86,373.44 622.9,372.86 623.93,372.18 624.96,372.12 626,371.26 627.03,370.9 628.07,370.81 629.1,370.45 630.13,369.33 631.17,368.68 632.2,367.7 633.24,366.96 634.27,366.38 635.31,366.14 636.34,365.93 637.37,364.77 638.41,363.49 639.44,363.01 640.48,362 641.51,361.11 642.54,361.33 643.58,360.46 644.61,360.45 645.65,359.82 646.68,359.92 647.72,359.67 648.75,358.37 649.78,357.54 650.82,357.74 651.85,357.25 652.89,356.52 653.92,356.31 654.97,356.05 656.02,355.32 657.07,354.66 658.12,353.63 659.17,353.14 660.22,352.39 661.27,352.33 662.32,352.08 663.37,351.18 664.42,351.03 665.47,350.12 666.52,349.39 667.57,349.71" fill="none" stroke="#111" stroke-width="1" stroke-linejoin="round" />
<polyline points="508.94,456.92 510.01,455.18 511.07,454.17 512.14,452.31 513.2,451.19 514.27,449.75 515.33,447.96 516.35,446.93 517.37,445.22 518.4,444.14 519.42,442.52 520.44,441.05 521.46,440.03 522.48,439.37 523.51,437.6 524.53,436.13 525.55,435.2 526.57,435.05 527.59,434.22 528.62,433.19 529.64,432.96 530.66,431.41 531.68,431.14 532.7,429.99 533.73,428.82 534.75,427.78 535.77,427.08 536.79,426.75 537.81,425.41 538.83,424.69 539.86,423.95 540.88,422.79 541.9,421.92 542.92,420.42 543.94,419.13 544.97,418.15 545.99,417.74 547.08,415.95 548.18,414 549.27,412.44 550.37,410.61 551.46,408.59 552.56,407.25 553.65,405.6 554.75,402.89 555.84,400.76 556.94,398.52 558.03,396.69 559.13,394.51 560.22,391.77 561.32,390.05 562.6,387.04 563.87,384.68 564.97,384.64 566.06,383.73 567.16,383.43 568.25,382.55 569.35,382.62 570.44,382.61 571.54,382.22 572.56,382.21 573.58,381.37 574.6,381.17 575.63,380.78 576.65,380.37 577.67,379.83 578.69,379.81 579.71,379.77 580.74,379.02 581.76,378.65 582.78,377.68 583.8,377.77 584.82,377.65 585.85,377.89 586.87,377.73 587.89,376.88 588.91,376.4 589.93,376.34 590.96,375.43 591.98,375.31 593,374.65 594.02,374.05 595.04,373.46 596.07,373.8 597.09,373.09 598.11,372.65 599.13,372.41 600.15,372.68 601.18,371.75 602.2,371.48 603.29,371.19 604.39,371.23 605.48,370.98 606.58,370.7 607.67,369.64 608.77,368.97 609.86,368.32 610.96,368.22 612.05,368 613.15,366.65 614.24,365.63 615.34,364.83 616.43,364.11 617.53,363.72 618.55,363.61 619.57,363 620.59,362.16 621.61,362.01 622.64,361.7 623.66,361.6 624.68,361.85 625.7,361.54 626.72,360.98 627.75,360.62 628.77,360.19 629.79,358.98 630.81,359.07 631.83,358.77 632.86,358.5 633.88,358.04 634.9,357.08 635.92,356.3 636.94,355.28 637.97,355.1 638.99,354.1 640.01,353.3 641.03,352.78 642.05,352.22 643.08,351.88 644.1,351.13 645.12,350.42 646.14,349.97 647.16,349.43 648.19,349.22 649.21,348.48 650.23,348.85 651.25,348.56 652.27,347.62 653.3,346.98 654.32,346.5 655.34,346.03 656.36,345.25 657.38,345.46 658.41,345.55 659.5,344.73 660.6,344.04 661.69,342.93 662.79,342.06 663.88,341.61 664.98,341.03 666.07,341.14 667.35,340.09 668.63,339.86" fill="none" stroke="#6f58d2" stroke-width="1" stroke-linejoin="round" />
<polyline points="508.94,456.8 510.01,456.42 511.07,454.77 512.14,454.04 513.2,452.44 514.27,451.24 515.33,451 516.35,449.4 517.37,448.5 518.4,447.28 519.42,446.08 520.44,444.95 521.46,443.45 522.48,442.85 523.51,441.15 524.53,439.84 525.55,438.33 526.57,437.32 527.59,436.44 528.62,436.07 529.64,434.78 530.66,433.24 531.68,432.06 532.7,431.79 533.73,430.07 534.75,429.27 535.77,428.06 536.79,427.31 537.81,426.06 538.83,425.33 539.86,424.25 540.88,423.38 541.9,423 542.92,422.08 543.94,420.7 544.97,419.47 545.99,419.48 547.01,418.64 548.03,417.47 549.05,417.36 550.08,416.55 551.1,415.94 552.12,415.6 553.14,414.44 554.16,413.58 555.19,413.45 556.21,412.23 557.23,412.01 558.25,410.83 559.27,410.59 560.3,410.21 561.32,410.04 562.41,409.37 563.51,408.25 564.6,406.88 565.7,405.68 566.79,405.1 567.89,404.4 568.98,403.14 570.08,402.62 571.17,401.33 572.27,400.3 573.36,398.61 574.46,397.12 575.55,395.46 576.65,394.36 577.74,393.26 578.84,392.35 579.93,391.31 581.03,390.79 582.12,390.12 583.22,388.41 584.31,387.22 585.41,385.79 586.5,385.09 587.6,384.6 588.69,382.95 589.79,382.19 590.88,380.74 591.98,379.09 593,378.89 594.02,377.96 595.04,376.88 596.07,376.25 597.09,375.32 598.11,374.67 599.13,374.02 600.15,373.29 601.18,372.74 602.2,371.75 603.29,370.47 604.39,369.33 605.48,368.3 606.58,367.82 607.67,366.97 608.77,366.63 609.86,365.7 610.96,365.21 612.05,364.94 613.15,363.39 614.24,362.11 615.34,361.2 616.43,360.66 617.53,360.27 618.55,360.04 619.57,359.17 620.59,359.13 621.61,357.7 622.64,357.58 623.66,356.51 624.68,356.4 625.7,355.07 626.72,355.14 627.75,354.68 628.77,354.3 629.79,353.27 630.81,351.86 631.83,351.66 632.86,350.6 633.88,349.23 634.9,348.72 635.92,347.98 636.94,347.2 637.97,346.05 638.99,345.14 640.01,344.88 641.03,344.32 642.05,343.34 643.08,342.87 644.1,342.68 645.12,342.29 646.14,341.51 647.16,340.7 648.19,339.91 649.21,339.03 650.23,338.2 651.25,337.75 652.27,336.82 653.3,336.75 654.32,336.43 655.34,335.86 656.36,334.56 657.38,333.94 658.41,333.39 659.47,332.52 660.53,332.85 661.6,332.59 662.66,331.92 663.73,331.56 664.79,330.53 666.07,330.26 667.35,330.45 668.63,330.66" fill="none" stroke="#d44a48" stroke-width="1" stroke-linejoin="round" />
<line x1="668.6" y1="314" x2="668.6" y2="339.8" stroke="#6f58d2" stroke-width="1.1" />
<line x1="668.6" y1="342" x2="668.6" y2="348" stroke="#111" stroke-width="0.9" stroke-dasharray="1.5,1.5"/>
<text x="522" y="345.3" font-size="12.7">JUN-upregulated</text>
<text x="525.8" y="358.7" font-size="10"><tspan font-style="italic">P</tspan>=1.03x10<tspan font-size="7" dy="-3.6">-5</tspan></text>
<line x1="597.1" y1="349.8" x2="616.2" y2="359.3" stroke="#111" stroke-width="0.9" />
<line x1="616.2" y1="359.3" x2="609.2" y2="359.49" stroke="#111" stroke-width="0.9" />
<line x1="616.2" y1="359.3" x2="612.13" y2="353.61" stroke="#111" stroke-width="0.9" />
<text x="567.7" y="430.3" font-size="12.7">JUN-downregulated</text>
<text x="597.1" y="445.6" font-size="10"><tspan font-style="italic">P</tspan>=2.9x10<tspan font-size="7" dy="-3.6">-10</tspan></text>
<line x1="581.2" y1="420.1" x2="571.5" y2="389.9" stroke="#111" stroke-width="0.9" />
<line x1="571.5" y1="389.9" x2="576.52" y2="394.78" stroke="#111" stroke-width="0.9" />
<line x1="571.5" y1="389.9" x2="570.26" y2="396.79" stroke="#111" stroke-width="0.9" />
<text x="1" y="299.8" font-size="18" font-weight="bold">e</text>
<text x="86.5" y="306.4" font-size="12.7" text-anchor="middle">JUN-activated genes</text>
<text x="87.2" y="320.7" font-size="12.7" text-anchor="middle">(PC-3)</text>
<rect x="53.3" y="402" width="32.2" height="33" fill="#F8766D" stroke="none" stroke-width="1" fill-opacity="0.5"/>
<path d="M70.42 413.74h0.85v0.85h-0.85zM68.82 444.35h0.85v0.85h-0.85zM70.89 417.08h0.85v0.85h-0.85zM69.6 394.94h0.85v0.85h-0.85zM74.38 426.11h0.85v0.85h-0.85zM66.06 385.16h0.85v0.85h-0.85zM74.66 384.79h0.85v0.85h-0.85zM61.61 430.81h0.85v0.85h-0.85zM77.3 451.86h0.85v0.85h-0.85zM71.36 427.89h0.85v0.85h-0.85zM61.16 392.01h0.85v0.85h-0.85zM61.91 418.6h0.85v0.85h-0.85zM65.01 395.54h0.85v0.85h-0.85zM68.79 371.46h0.85v0.85h-0.85zM75.22 413.05h0.85v0.85h-0.85zM71.78 417.92h0.85v0.85h-0.85zM72.16 416.49h0.85v0.85h-0.85zM65.63 414.03h0.85v0.85h-0.85zM77.83 457.1h0.85v0.85h-0.85zM72.93 439.84h0.85v0.85h-0.85zM64.8 405.79h0.85v0.85h-0.85zM62.09 404.26h0.85v0.85h-0.85zM67.71 435.87h0.85v0.85h-0.85zM67.47 440.18h0.85v0.85h-0.85zM75.3 448.53h0.85v0.85h-0.85zM64.47 356.12h0.85v0.85h-0.85zM68.89 443.6h0.85v0.85h-0.85zM67.66 451.61h0.85v0.85h-0.85zM71.6 382.88h0.85v0.85h-0.85zM65.49 436.53h0.85v0.85h-0.85zM66.55 384.41h0.85v0.85h-0.85zM73.79 449.36h0.85v0.85h-0.85zM65.09 387.74h0.85v0.85h-0.85zM61.92 385.91h0.85v0.85h-0.85zM63.92 437.52h0.85v0.85h-0.85zM68.51 420.89h0.85v0.85h-0.85zM73.34 395.59h0.85v0.85h-0.85zM71.84 389.14h0.85v0.85h-0.85zM68.05 387.58h0.85v0.85h-0.85zM65.49 397.99h0.85v0.85h-0.85zM74.56 450.31h0.85v0.85h-0.85zM75.94 405.14h0.85v0.85h-0.85zM67.6 397.76h0.85v0.85h-0.85zM71.81 440.6h0.85v0.85h-0.85zM77.72 385.83h0.85v0.85h-0.85zM65.29 398.03h0.85v0.85h-0.85zM66.49 436.22h0.85v0.85h-0.85zM62.15 404.69h0.85v0.85h-0.85zM70.81 384.73h0.85v0.85h-0.85zM71.12 401.25h0.85v0.85h-0.85zM68.6 409.06h0.85v0.85h-0.85zM69.12 448.68h0.85v0.85h-0.85zM75.63 422.02h0.85v0.85h-0.85zM63.52 394.74h0.85v0.85h-0.85zM74.8 443.5h0.85v0.85h-0.85zM64.13 401.95h0.85v0.85h-0.85zM76.89 434.22h0.85v0.85h-0.85zM77.05 396.23h0.85v0.85h-0.85zM71.16 442.09h0.85v0.85h-0.85zM62.67 411.94h0.85v0.85h-0.85zM77.27 373.86h0.85v0.85h-0.85zM72.88 400.75h0.85v0.85h-0.85zM74.9 402.4h0.85v0.85h-0.85zM65.89 423.64h0.85v0.85h-0.85zM73.15 393.94h0.85v0.85h-0.85zM64.78 382.21h0.85v0.85h-0.85zM75.39 420.89h0.85v0.85h-0.85zM65.66 424.96h0.85v0.85h-0.85zM64.37 443.98h0.85v0.85h-0.85zM65.48 367.71h0.85v0.85h-0.85zM61.93 413.35h0.85v0.85h-0.85zM67.17 394.03h0.85v0.85h-0.85zM63.14 421.84h0.85v0.85h-0.85zM76.05 408.5h0.85v0.85h-0.85zM72.07 451.63h0.85v0.85h-0.85zM70.84 430.65h0.85v0.85h-0.85zM61.5 390.15h0.85v0.85h-0.85zM76.37 368.08h0.85v0.85h-0.85zM77.27 431.37h0.85v0.85h-0.85zM71.72 369.01h0.85v0.85h-0.85zM73.32 415.47h0.85v0.85h-0.85zM77.89 406h0.85v0.85h-0.85zM70.18 383.12h0.85v0.85h-0.85zM76.2 434.04h0.85v0.85h-0.85zM72.86 434.04h0.85v0.85h-0.85zM76.46 437.32h0.85v0.85h-0.85zM72.55 407.91h0.85v0.85h-0.85zM75.71 443.09h0.85v0.85h-0.85zM74.34 411.69h0.85v0.85h-0.85zM70.64 441.09h0.85v0.85h-0.85zM67.4 425.75h0.85v0.85h-0.85zM71.25 422.62h0.85v0.85h-0.85zM71.77 383.66h0.85v0.85h-0.85zM75.86 455.44h0.85v0.85h-0.85zM67.5 433.39h0.85v0.85h-0.85zM70.78 433.89h0.85v0.85h-0.85zM75.15 413.05h0.85v0.85h-0.85zM73.65 384.04h0.85v0.85h-0.85zM71.12 371.38h0.85v0.85h-0.85zM64.81 415.4h0.85v0.85h-0.85zM69.35 431.18h0.85v0.85h-0.85zM76.55 424.97h0.85v0.85h-0.85zM61.09 402.34h0.85v0.85h-0.85zM72.43 404.96h0.85v0.85h-0.85zM63.78 396.88h0.85v0.85h-0.85zM72.12 443.36h0.85v0.85h-0.85zM76.06 413.13h0.85v0.85h-0.85zM72.22 406.46h0.85v0.85h-0.85zM68.23 396.44h0.85v0.85h-0.85zM76.44 438h0.85v0.85h-0.85zM67.44 441.99h0.85v0.85h-0.85zM66.28 422.65h0.85v0.85h-0.85zM69.34 389.7h0.85v0.85h-0.85zM75.33 439.67h0.85v0.85h-0.85zM77.05 432.13h0.85v0.85h-0.85zM63.78 403.55h0.85v0.85h-0.85zM65.58 413.64h0.85v0.85h-0.85zM67.94 398.12h0.85v0.85h-0.85zM69.3 425.8h0.85v0.85h-0.85zM75.17 405.79h0.85v0.85h-0.85zM68.59 451.84h0.85v0.85h-0.85zM61.44 383.06h0.85v0.85h-0.85zM61.61 441.59h0.85v0.85h-0.85zM70.6 431.94h0.85v0.85h-0.85zM74.36 405.42h0.85v0.85h-0.85zM63.21 368.42h0.85v0.85h-0.85zM61.32 413.88h0.85v0.85h-0.85zM64.94 439.28h0.85v0.85h-0.85zM61.7 390.21h0.85v0.85h-0.85zM68.49 426.06h0.85v0.85h-0.85zM72.04 426.12h0.85v0.85h-0.85zM77.19 438.08h0.85v0.85h-0.85zM64.29 430.15h0.85v0.85h-0.85zM63.94 415.06h0.85v0.85h-0.85zM68.93 364.01h0.85v0.85h-0.85zM63.94 432.35h0.85v0.85h-0.85zM66.78 403.3h0.85v0.85h-0.85zM69.75 431.1h0.85v0.85h-0.85zM73.76 424.97h0.85v0.85h-0.85zM74.36 410.32h0.85v0.85h-0.85zM62.38 443.38h0.85v0.85h-0.85zM73.18 445.02h0.85v0.85h-0.85zM68.61 389.03h0.85v0.85h-0.85zM76.37 425.79h0.85v0.85h-0.85zM70.57 409.35h0.85v0.85h-0.85zM74.45 441.94h0.85v0.85h-0.85zM68.78 446.63h0.85v0.85h-0.85zM64.38 427.7h0.85v0.85h-0.85zM74.81 432.92h0.85v0.85h-0.85zM73.1 426.98h0.85v0.85h-0.85zM76.2 398.03h0.85v0.85h-0.85zM77.52 451.63h0.85v0.85h-0.85zM74.34 419.23h0.85v0.85h-0.85zM76.37 406.08h0.85v0.85h-0.85zM66.82 440.68h0.85v0.85h-0.85zM68.4 383.93h0.85v0.85h-0.85zM73.96 420.22h0.85v0.85h-0.85zM61.38 415.77h0.85v0.85h-0.85zM61.99 438.17h0.85v0.85h-0.85zM63.84 437.68h0.85v0.85h-0.85zM74.29 406.93h0.85v0.85h-0.85zM63.43 390.17h0.85v0.85h-0.85zM73.2 417.72h0.85v0.85h-0.85zM72.62 439.83h0.85v0.85h-0.85zM69.27 446.83h0.85v0.85h-0.85zM62.36 447.3h0.85v0.85h-0.85zM69.85 398.91h0.85v0.85h-0.85zM73.29 404.33h0.85v0.85h-0.85zM69.79 426.78h0.85v0.85h-0.85zM70.42 440.02h0.85v0.85h-0.85zM67.38 405.58h0.85v0.85h-0.85zM76.21 440.11h0.85v0.85h-0.85zM75.36 397.49h0.85v0.85h-0.85zM69.81 449.96h0.85v0.85h-0.85zM64.32 421.9h0.85v0.85h-0.85zM69.45 419.16h0.85v0.85h-0.85zM61.37 424.29h0.85v0.85h-0.85zM69.67 450.1h0.85v0.85h-0.85zM74.52 410.73h0.85v0.85h-0.85zM69.25 421.15h0.85v0.85h-0.85zM62.02 430.63h0.85v0.85h-0.85zM67.93 419.36h0.85v0.85h-0.85zM76.6 448.37h0.85v0.85h-0.85zM68.94 403.11h0.85v0.85h-0.85zM68.27 388.71h0.85v0.85h-0.85zM76.21 438.53h0.85v0.85h-0.85zM66.29 415.14h0.85v0.85h-0.85zM71.4 395.67h0.85v0.85h-0.85zM63.1 444.41h0.85v0.85h-0.85zM61.29 436.57h0.85v0.85h-0.85zM64.76 395.96h0.85v0.85h-0.85zM66.38 430.34h0.85v0.85h-0.85zM71.44 408.11h0.85v0.85h-0.85zM73.33 386.32h0.85v0.85h-0.85zM69.58 388.26h0.85v0.85h-0.85zM64.26 402.03h0.85v0.85h-0.85zM68.33 418.75h0.85v0.85h-0.85zM67.93 409.29h0.85v0.85h-0.85zM63.62 418.67h0.85v0.85h-0.85zM71.63 397.06h0.85v0.85h-0.85zM69.9 426.75h0.85v0.85h-0.85zM71.3 440.43h0.85v0.85h-0.85zM64.86 440.73h0.85v0.85h-0.85zM74.68 434.32h0.85v0.85h-0.85zM66.27 443.19h0.85v0.85h-0.85zM76.59 405.77h0.85v0.85h-0.85zM77.87 398.56h0.85v0.85h-0.85zM63.18 442.38h0.85v0.85h-0.85zM73.25 400.85h0.85v0.85h-0.85zM62.55 402.55h0.85v0.85h-0.85zM68.07 439.41h0.85v0.85h-0.85zM63.04 437.14h0.85v0.85h-0.85zM72.55 410.86h0.85v0.85h-0.85zM64.32 368.04h0.85v0.85h-0.85zM76.39 430h0.85v0.85h-0.85zM62.86 449.96h0.85v0.85h-0.85zM73.79 416.92h0.85v0.85h-0.85zM72.56 416.71h0.85v0.85h-0.85zM62.1 395.41h0.85v0.85h-0.85zM61.54 386.46h0.85v0.85h-0.85zM69.65 420.32h0.85v0.85h-0.85zM63.39 421.59h0.85v0.85h-0.85zM64.37 394.93h0.85v0.85h-0.85zM77.74 439.84h0.85v0.85h-0.85zM62.52 444.49h0.85v0.85h-0.85zM77.08 380.32h0.85v0.85h-0.85zM73.9 414.3h0.85v0.85h-0.85zM68.84 406.46h0.85v0.85h-0.85zM68.21 417.63h0.85v0.85h-0.85zM61.13 423.97h0.85v0.85h-0.85zM75.25 431.38h0.85v0.85h-0.85zM68.62 394.57h0.85v0.85h-0.85zM67.79 434.21h0.85v0.85h-0.85zM63.71 396.07h0.85v0.85h-0.85zM61.16 417.43h0.85v0.85h-0.85zM74.53 442.68h0.85v0.85h-0.85zM75.53 431.65h0.85v0.85h-0.85zM67.78 426.07h0.85v0.85h-0.85zM69.47 423.87h0.85v0.85h-0.85zM74.58 451.93h0.85v0.85h-0.85zM76.39 402.48h0.85v0.85h-0.85zM74.13 434.59h0.85v0.85h-0.85zM67.8 438.47h0.85v0.85h-0.85zM75.86 442.86h0.85v0.85h-0.85zM73.94 430.92h0.85v0.85h-0.85zM67.8 435.82h0.85v0.85h-0.85zM62.1 432.97h0.85v0.85h-0.85zM68.87 407.32h0.85v0.85h-0.85zM66.95 363.88h0.85v0.85h-0.85zM71.51 426.76h0.85v0.85h-0.85zM76.96 400.07h0.85v0.85h-0.85zM66.64 428.79h0.85v0.85h-0.85zM70.58 428.32h0.85v0.85h-0.85zM67.52 418.95h0.85v0.85h-0.85zM71.82 457.96h0.85v0.85h-0.85zM73.85 431.39h0.85v0.85h-0.85zM61.29 451.57h0.85v0.85h-0.85zM73.46 425.04h0.85v0.85h-0.85zM67.73 402.38h0.85v0.85h-0.85zM64.22 377.12h0.85v0.85h-0.85zM62.57 409.29h0.85v0.85h-0.85zM76.3 402.05h0.85v0.85h-0.85zM69.53 420.2h0.85v0.85h-0.85zM70.56 449.78h0.85v0.85h-0.85zM71.75 456.12h0.85v0.85h-0.85zM62.2 438.19h0.85v0.85h-0.85zM73.81 423.72h0.85v0.85h-0.85zM76.71 375.64h0.85v0.85h-0.85zM68.92 392.27h0.85v0.85h-0.85zM69.32 393.26h0.85v0.85h-0.85zM61.9 424.73h0.85v0.85h-0.85zM68.05 446.77h0.85v0.85h-0.85zM71.06 418.48h0.85v0.85h-0.85zM65.76 408.7h0.85v0.85h-0.85zM70.43 427.98h0.85v0.85h-0.85zM73.08 403.94h0.85v0.85h-0.85zM61.14 404.67h0.85v0.85h-0.85zM61.63 401.46h0.85v0.85h-0.85zM73.73 391.91h0.85v0.85h-0.85zM76.16 410.12h0.85v0.85h-0.85zM61.75 434.88h0.85v0.85h-0.85zM76.96 453.69h0.85v0.85h-0.85zM76.29 382.93h0.85v0.85h-0.85zM69.02 412.41h0.85v0.85h-0.85zM65.04 450.62h0.85v0.85h-0.85zM76.83 418.23h0.85v0.85h-0.85zM68.86 432.98h0.85v0.85h-0.85zM74.78 451.4h0.85v0.85h-0.85zM62.86 424.17h0.85v0.85h-0.85zM68.65 425.69h0.85v0.85h-0.85zM61.78 396.99h0.85v0.85h-0.85zM63.01 418.58h0.85v0.85h-0.85zM72.25 413.19h0.85v0.85h-0.85zM65.36 413.92h0.85v0.85h-0.85zM68.03 422.59h0.85v0.85h-0.85zM69.92 436.5h0.85v0.85h-0.85zM77.09 457.09h0.85v0.85h-0.85zM64.95 433.84h0.85v0.85h-0.85zM76.08 387.29h0.85v0.85h-0.85zM71.52 436.84h0.85v0.85h-0.85zM65.52 408.33h0.85v0.85h-0.85zM70.5 430.19h0.85v0.85h-0.85zM71.66 423.28h0.85v0.85h-0.85zM64.13 435.18h0.85v0.85h-0.85zM77.56 401.89h0.85v0.85h-0.85zM75.84 443.89h0.85v0.85h-0.85zM61.93 374.08h0.85v0.85h-0.85zM68.13 403.21h0.85v0.85h-0.85zM62.64 425.63h0.85v0.85h-0.85zM62.13 419.58h0.85v0.85h-0.85zM72.4 384.33h0.85v0.85h-0.85zM71.63 420.25h0.85v0.85h-0.85zM69.04 409.14h0.85v0.85h-0.85zM66.74 397.75h0.85v0.85h-0.85zM75.16 434.62h0.85v0.85h-0.85zM62.94 383.02h0.85v0.85h-0.85zM71.5 438.18h0.85v0.85h-0.85zM64.52 436.01h0.85v0.85h-0.85zM65.29 412.11h0.85v0.85h-0.85zM67.17 438.21h0.85v0.85h-0.85zM77.72 427.87h0.85v0.85h-0.85zM70.23 406.37h0.85v0.85h-0.85zM76.55 434.71h0.85v0.85h-0.85zM67.18 412.3h0.85v0.85h-0.85zM75.78 385.47h0.85v0.85h-0.85zM62.31 383.47h0.85v0.85h-0.85zM69.14 421.25h0.85v0.85h-0.85zM65.98 430.21h0.85v0.85h-0.85zM62.19 436.37h0.85v0.85h-0.85zM72.16 398.03h0.85v0.85h-0.85zM66.06 383.82h0.85v0.85h-0.85zM72.7 433.15h0.85v0.85h-0.85zM63.33 403.91h0.85v0.85h-0.85zM73.24 408.25h0.85v0.85h-0.85zM62.9 408.75h0.85v0.85h-0.85zM70.58 431.99h0.85v0.85h-0.85zM76.88 444.05h0.85v0.85h-0.85zM68.35 443.77h0.85v0.85h-0.85zM66.08 437.85h0.85v0.85h-0.85zM67.69 405.92h0.85v0.85h-0.85zM76.11 445.3h0.85v0.85h-0.85zM67.05 401.82h0.85v0.85h-0.85zM67.08 408.7h0.85v0.85h-0.85zM67.49 410.45h0.85v0.85h-0.85zM70.48 396.05h0.85v0.85h-0.85zM70.09 437.53h0.85v0.85h-0.85zM70.47 439.64h0.85v0.85h-0.85zM73.8 394.07h0.85v0.85h-0.85zM65.68 442.02h0.85v0.85h-0.85zM69.67 369.28h0.85v0.85h-0.85zM70.55 419.77h0.85v0.85h-0.85zM71.97 449.69h0.85v0.85h-0.85zM61.99 437.92h0.85v0.85h-0.85zM74.3 419.96h0.85v0.85h-0.85zM62.29 384.07h0.85v0.85h-0.85zM76.18 434.04h0.85v0.85h-0.85zM71.68 384.14h0.85v0.85h-0.85zM73.58 390.54h0.85v0.85h-0.85zM65.07 427.53h0.85v0.85h-0.85zM73.91 398.81h0.85v0.85h-0.85zM73.9 418.1h0.85v0.85h-0.85zM66.64 410.37h0.85v0.85h-0.85zM72.33 449.94h0.85v0.85h-0.85zM70.03 416.13h0.85v0.85h-0.85zM72.94 432.85h0.85v0.85h-0.85zM67.88 443.85h0.85v0.85h-0.85zM72.23 439.09h0.85v0.85h-0.85zM74.6 440.55h0.85v0.85h-0.85zM76.01 439.5h0.85v0.85h-0.85zM71.78 448.49h0.85v0.85h-0.85zM72.97 418.27h0.85v0.85h-0.85zM68.07 437.8h0.85v0.85h-0.85zM63.39 411.89h0.85v0.85h-0.85zM77.75 434.35h0.85v0.85h-0.85zM63.75 409.28h0.85v0.85h-0.85zM68.12 397.07h0.85v0.85h-0.85zM77.39 404.44h0.85v0.85h-0.85zM66.14 379.56h0.85v0.85h-0.85zM71.92 387.4h0.85v0.85h-0.85zM63.95 436.39h0.85v0.85h-0.85zM68.7 380.43h0.85v0.85h-0.85zM76.36 422.72h0.85v0.85h-0.85zM62.75 373.21h0.85v0.85h-0.85zM64.6 394.93h0.85v0.85h-0.85zM73.09 400.42h0.85v0.85h-0.85zM64.71 423.51h0.85v0.85h-0.85zM65.68 394.98h0.85v0.85h-0.85zM73.78 393.63h0.85v0.85h-0.85zM70.22 405.58h0.85v0.85h-0.85zM69.05 438.6h0.85v0.85h-0.85zM75.99 402.61h0.85v0.85h-0.85zM66.72 443.81h0.85v0.85h-0.85zM77.17 420h0.85v0.85h-0.85zM64.66 415.49h0.85v0.85h-0.85zM77.01 376.92h0.85v0.85h-0.85zM67.44 437.76h0.85v0.85h-0.85zM69.67 418.54h0.85v0.85h-0.85zM77.73 403.42h0.85v0.85h-0.85zM64.94 428.16h0.85v0.85h-0.85zM68.93 364.09h0.85v0.85h-0.85zM74.45 409.05h0.85v0.85h-0.85zM71.2 432.28h0.85v0.85h-0.85zM63.57 391.98h0.85v0.85h-0.85zM65.31 406.16h0.85v0.85h-0.85zM69.67 441.4h0.85v0.85h-0.85zM77.78 426.64h0.85v0.85h-0.85zM69.99 402.96h0.85v0.85h-0.85zM74 391.27h0.85v0.85h-0.85zM74.86 356.75h0.85v0.85h-0.85zM74.88 440.16h0.85v0.85h-0.85zM65.49 383.9h0.85v0.85h-0.85zM62.55 432.52h0.85v0.85h-0.85zM68.87 415.35h0.85v0.85h-0.85zM70.87 448.18h0.85v0.85h-0.85zM66.06 440.76h0.85v0.85h-0.85zM67.99 437.11h0.85v0.85h-0.85zM62.45 443.95h0.85v0.85h-0.85zM64.44 439.1h0.85v0.85h-0.85zM69.84 419.71h0.85v0.85h-0.85zM75.04 392.01h0.85v0.85h-0.85zM66.18 405.56h0.85v0.85h-0.85zM66.1 383.2h0.85v0.85h-0.85zM73.06 414.6h0.85v0.85h-0.85zM72.58 408.36h0.85v0.85h-0.85zM67.6 386.42h0.85v0.85h-0.85zM77.34 414.28h0.85v0.85h-0.85zM72.02 439.28h0.85v0.85h-0.85zM67.31 365.23h0.85v0.85h-0.85zM64.94 432.04h0.85v0.85h-0.85zM68.69 421.24h0.85v0.85h-0.85zM77.76 363.78h0.85v0.85h-0.85zM64.41 437.65h0.85v0.85h-0.85zM65.84 425.09h0.85v0.85h-0.85zM70.08 409.31h0.85v0.85h-0.85zM66.64 404.8h0.85v0.85h-0.85zM72.23 410.25h0.85v0.85h-0.85zM64.3 402.37h0.85v0.85h-0.85zM66.5 433.63h0.85v0.85h-0.85zM70.47 446.74h0.85v0.85h-0.85zM66.54 433.06h0.85v0.85h-0.85zM62.47 439.13h0.85v0.85h-0.85zM62.5 390.21h0.85v0.85h-0.85zM72.94 429.65h0.85v0.85h-0.85zM67.74 394.42h0.85v0.85h-0.85zM70.98 439.66h0.85v0.85h-0.85zM64.75 384.73h0.85v0.85h-0.85zM63.01 391.96h0.85v0.85h-0.85zM62.14 411.1h0.85v0.85h-0.85zM68.16 444.16h0.85v0.85h-0.85zM71.9 417.36h0.85v0.85h-0.85zM74.86 435.9h0.85v0.85h-0.85zM66.53 409.88h0.85v0.85h-0.85zM61.16 411.4h0.85v0.85h-0.85zM72.8 410.74h0.85v0.85h-0.85zM74.32 451.83h0.85v0.85h-0.85zM71.25 428.36h0.85v0.85h-0.85zM66.53 368.26h0.85v0.85h-0.85zM71.96 407.35h0.85v0.85h-0.85zM67.32 386.47h0.85v0.85h-0.85zM74.31 417.19h0.85v0.85h-0.85zM71.29 439.04h0.85v0.85h-0.85zM73.93 392.1h0.85v0.85h-0.85zM70.22 443.21h0.85v0.85h-0.85zM69.41 407.95h0.85v0.85h-0.85zM73.03 390.31h0.85v0.85h-0.85zM69.67 452.93h0.85v0.85h-0.85zM75.1 432.44h0.85v0.85h-0.85zM76.96 396.3h0.85v0.85h-0.85zM64.26 425.91h0.85v0.85h-0.85zM65.06 383.98h0.85v0.85h-0.85zM72.75 422.16h0.85v0.85h-0.85zM76.69 406.59h0.85v0.85h-0.85zM68.77 408.45h0.85v0.85h-0.85zM77.45 388.39h0.85v0.85h-0.85zM76.27 389.64h0.85v0.85h-0.85zM70.43 419.71h0.85v0.85h-0.85zM65.39 420.97h0.85v0.85h-0.85zM77.77 443.55h0.85v0.85h-0.85zM71.13 438.62h0.85v0.85h-0.85zM74.92 388.24h0.85v0.85h-0.85zM76.15 404.24h0.85v0.85h-0.85zM70.65 401.01h0.85v0.85h-0.85zM64.05 439.33h0.85v0.85h-0.85zM62.2 420.04h0.85v0.85h-0.85zM63.96 372h0.85v0.85h-0.85zM76.87 453.02h0.85v0.85h-0.85zM66.13 428.22h0.85v0.85h-0.85zM73.44 429.17h0.85v0.85h-0.85zM70.96 409.64h0.85v0.85h-0.85zM61.18 437.89h0.85v0.85h-0.85zM68.86 396.55h0.85v0.85h-0.85zM67.47 390.44h0.85v0.85h-0.85zM63.85 421.64h0.85v0.85h-0.85zM65.38 417.96h0.85v0.85h-0.85zM66.55 421.53h0.85v0.85h-0.85zM61.54 426.99h0.85v0.85h-0.85zM63.36 429.15h0.85v0.85h-0.85zM71.1 448.71h0.85v0.85h-0.85zM67.89 414.75h0.85v0.85h-0.85zM72.62 425.66h0.85v0.85h-0.85zM73.68 435.43h0.85v0.85h-0.85zM77.81 415.68h0.85v0.85h-0.85zM75.44 439.74h0.85v0.85h-0.85zM68.28 411.22h0.85v0.85h-0.85zM76.29 421.38h0.85v0.85h-0.85zM69.83 418.42h0.85v0.85h-0.85zM76.27 412.57h0.85v0.85h-0.85zM61.83 406.1h0.85v0.85h-0.85zM76.2 433.19h0.85v0.85h-0.85zM71.06 433.67h0.85v0.85h-0.85zM66.08 435.1h0.85v0.85h-0.85zM62.09 423.41h0.85v0.85h-0.85zM68.5 388.44h0.85v0.85h-0.85zM67.64 416.69h0.85v0.85h-0.85zM72.71 377.54h0.85v0.85h-0.85zM64.97 418.44h0.85v0.85h-0.85zM67.62 405.27h0.85v0.85h-0.85zM62.06 400.47h0.85v0.85h-0.85zM77.33 443.66h0.85v0.85h-0.85zM75.63 428.76h0.85v0.85h-0.85zM74.59 411.94h0.85v0.85h-0.85zM73.59 398.95h0.85v0.85h-0.85zM76.26 421.44h0.85v0.85h-0.85zM74.37 385.64h0.85v0.85h-0.85zM70.04 388.37h0.85v0.85h-0.85zM60.91 447.55h0.85v0.85h-0.85zM65.99 401.34h0.85v0.85h-0.85zM61.96 406.34h0.85v0.85h-0.85zM74.76 442.79h0.85v0.85h-0.85zM66.96 410.54h0.85v0.85h-0.85zM61.68 422.83h0.85v0.85h-0.85zM76.17 371.76h0.85v0.85h-0.85zM69.37 405.36h0.85v0.85h-0.85zM77.51 445.2h0.85v0.85h-0.85zM64.41 414.91h0.85v0.85h-0.85zM76.59 404.63h0.85v0.85h-0.85zM64.22 442.88h0.85v0.85h-0.85zM66.92 439.72h0.85v0.85h-0.85zM63.82 414.9h0.85v0.85h-0.85zM77.82 441.96h0.85v0.85h-0.85zM71.65 396.82h0.85v0.85h-0.85zM75.86 395.68h0.85v0.85h-0.85zM62.7 377h0.85v0.85h-0.85zM66.22 433.21h0.85v0.85h-0.85zM75.68 443.07h0.85v0.85h-0.85zM63.19 432.27h0.85v0.85h-0.85zM76.84 431h0.85v0.85h-0.85zM62.24 413.32h0.85v0.85h-0.85zM66.12 399.11h0.85v0.85h-0.85zM64.24 432.08h0.85v0.85h-0.85zM64.9 394.55h0.85v0.85h-0.85zM74.34 428.68h0.85v0.85h-0.85zM72.15 409.11h0.85v0.85h-0.85zM70.93 442.21h0.85v0.85h-0.85zM66.02 399.73h0.85v0.85h-0.85zM72.24 444.49h0.85v0.85h-0.85zM71.78 403.56h0.85v0.85h-0.85zM77.61 384.71h0.85v0.85h-0.85zM69.88 413.04h0.85v0.85h-0.85zM61.67 418.78h0.85v0.85h-0.85zM65.74 423.88h0.85v0.85h-0.85zM74.55 402.05h0.85v0.85h-0.85zM65.75 384.41h0.85v0.85h-0.85zM65.08 435.3h0.85v0.85h-0.85zM70.22 403.69h0.85v0.85h-0.85zM76.15 395.12h0.85v0.85h-0.85zM61.47 453.3h0.85v0.85h-0.85zM73.66 414.27h0.85v0.85h-0.85zM76.7 409.81h0.85v0.85h-0.85zM63.96 416.49h0.85v0.85h-0.85zM71.86 420.64h0.85v0.85h-0.85zM72.09 408.36h0.85v0.85h-0.85zM69.68 436.77h0.85v0.85h-0.85zM75.27 416.92h0.85v0.85h-0.85zM69.75 430.14h0.85v0.85h-0.85zM63.86 447.63h0.85v0.85h-0.85zM63.71 436.59h0.85v0.85h-0.85zM64.9 424.5h0.85v0.85h-0.85zM74.04 413.05h0.85v0.85h-0.85zM74.35 436.96h0.85v0.85h-0.85zM69.22 400.48h0.85v0.85h-0.85zM70.76 398.89h0.85v0.85h-0.85zM61.5 416.44h0.85v0.85h-0.85zM73.05 423.67h0.85v0.85h-0.85zM75.74 421.88h0.85v0.85h-0.85zM63.48 394.44h0.85v0.85h-0.85zM69.33 368.05h0.85v0.85h-0.85zM68.41 412.71h0.85v0.85h-0.85zM74.47 402.75h0.85v0.85h-0.85zM76.32 382.83h0.85v0.85h-0.85zM70.14 421.6h0.85v0.85h-0.85zM64.95 437.23h0.85v0.85h-0.85zM66.19 390.79h0.85v0.85h-0.85zM66.24 374.86h0.85v0.85h-0.85zM69.83 425.47h0.85v0.85h-0.85zM70.91 402.85h0.85v0.85h-0.85zM74.85 384.55h0.85v0.85h-0.85zM65.23 393.53h0.85v0.85h-0.85zM72.64 392.26h0.85v0.85h-0.85zM74.27 439.34h0.85v0.85h-0.85zM67.88 380.09h0.85v0.85h-0.85zM64.58 408.64h0.85v0.85h-0.85zM61.62 450.25h0.85v0.85h-0.85zM73.84 415.89h0.85v0.85h-0.85zM63.36 452.7h0.85v0.85h-0.85zM73.56 413.91h0.85v0.85h-0.85zM64.99 374h0.85v0.85h-0.85zM63.31 442.52h0.85v0.85h-0.85zM65.97 410.29h0.85v0.85h-0.85zM62.2 412.12h0.85v0.85h-0.85zM77.83 372.63h0.85v0.85h-0.85zM73.38 435.71h0.85v0.85h-0.85zM65.2 399.83h0.85v0.85h-0.85zM65.01 420.34h0.85v0.85h-0.85zM76.75 414.27h0.85v0.85h-0.85zM66.63 408.61h0.85v0.85h-0.85zM71.29 451.73h0.85v0.85h-0.85zM67.75 374.13h0.85v0.85h-0.85zM61.89 427.58h0.85v0.85h-0.85zM72.71 407.41h0.85v0.85h-0.85zM70.94 441.14h0.85v0.85h-0.85zM68.76 442.32h0.85v0.85h-0.85zM75.23 410.29h0.85v0.85h-0.85zM74.18 409.61h0.85v0.85h-0.85zM66.81 398.26h0.85v0.85h-0.85zM70.24 394.83h0.85v0.85h-0.85zM64.36 392.69h0.85v0.85h-0.85zM68.85 398.16h0.85v0.85h-0.85zM68.5 405.4h0.85v0.85h-0.85zM72.45 455.44h0.85v0.85h-0.85zM64.38 441.05h0.85v0.85h-0.85zM62.14 409.71h0.85v0.85h-0.85zM67.07 430.66h0.85v0.85h-0.85zM61.22 403.42h0.85v0.85h-0.85zM65.36 394.66h0.85v0.85h-0.85zM76.6 410.29h0.85v0.85h-0.85zM65.47 432.42h0.85v0.85h-0.85zM63.51 408.44h0.85v0.85h-0.85zM67.02 445.58h0.85v0.85h-0.85zM73.2 435.84h0.85v0.85h-0.85zM61.25 443.43h0.85v0.85h-0.85zM67.43 406.18h0.85v0.85h-0.85zM75.9 383.98h0.85v0.85h-0.85zM74 406.36h0.85v0.85h-0.85zM61.83 417.93h0.85v0.85h-0.85zM64.95 410.35h0.85v0.85h-0.85zM63.46 374.45h0.85v0.85h-0.85zM61.44 423.56h0.85v0.85h-0.85zM68.11 405.61h0.85v0.85h-0.85zM63.21 419.76h0.85v0.85h-0.85zM65.33 431.79h0.85v0.85h-0.85zM72.22 433.19h0.85v0.85h-0.85zM64.38 390.89h0.85v0.85h-0.85zM73.02 403.76h0.85v0.85h-0.85zM67.47 411.01h0.85v0.85h-0.85zM64.74 441.22h0.85v0.85h-0.85zM66.76 404.44h0.85v0.85h-0.85zM61.59 398.3h0.85v0.85h-0.85zM71.62 369.92h0.85v0.85h-0.85zM74.65 421.38h0.85v0.85h-0.85zM65.97 450.95h0.85v0.85h-0.85zM76.52 429.12h0.85v0.85h-0.85zM72.62 398.35h0.85v0.85h-0.85zM77.14 428.83h0.85v0.85h-0.85zM64.89 441.35h0.85v0.85h-0.85zM62.43 426.31h0.85v0.85h-0.85zM67.57 412.31h0.85v0.85h-0.85zM67.42 379.81h0.85v0.85h-0.85zM69.35 406.53h0.85v0.85h-0.85zM63.6 403.73h0.85v0.85h-0.85zM68.98 410.84h0.85v0.85h-0.85zM72.21 393h0.85v0.85h-0.85zM62.48 400.9h0.85v0.85h-0.85zM68.08 407.33h0.85v0.85h-0.85zM70.8 391.28h0.85v0.85h-0.85zM70.3 431.4h0.85v0.85h-0.85zM61.29 431.31h0.85v0.85h-0.85zM67.09 410.2h0.85v0.85h-0.85zM67.77 380.59h0.85v0.85h-0.85zM69.32 378.28h0.85v0.85h-0.85zM68.87 422.86h0.85v0.85h-0.85zM65.21 406.38h0.85v0.85h-0.85zM66.8 369.64h0.85v0.85h-0.85zM70.52 442.61h0.85v0.85h-0.85zM72.26 402.69h0.85v0.85h-0.85zM68.88 395.09h0.85v0.85h-0.85zM77.13 425.03h0.85v0.85h-0.85zM70.69 408.53h0.85v0.85h-0.85zM74.02 446.37h0.85v0.85h-0.85zM71.45 425.92h0.85v0.85h-0.85zM67.96 411.34h0.85v0.85h-0.85zM75 403.52h0.85v0.85h-0.85zM67.39 441.96h0.85v0.85h-0.85zM61.55 443.57h0.85v0.85h-0.85zM69.52 389.67h0.85v0.85h-0.85zM67.03 405.4h0.85v0.85h-0.85zM63.45 451.14h0.85v0.85h-0.85zM64.78 395.78h0.85v0.85h-0.85zM64.89 429.83h0.85v0.85h-0.85zM70.14 356.42h0.85v0.85h-0.85zM64.97 410.35h0.85v0.85h-0.85zM71.95 416.13h0.85v0.85h-0.85zM71.51 420.06h0.85v0.85h-0.85zM75.03 421h0.85v0.85h-0.85zM66.57 450.02h0.85v0.85h-0.85zM75.97 407.61h0.85v0.85h-0.85zM73.07 405.67h0.85v0.85h-0.85zM72.57 430.96h0.85v0.85h-0.85zM74.91 449.34h0.85v0.85h-0.85zM71.47 392.22h0.85v0.85h-0.85zM70.48 415.96h0.85v0.85h-0.85zM65.76 408.93h0.85v0.85h-0.85zM69.98 434.92h0.85v0.85h-0.85zM65.14 400.6h0.85v0.85h-0.85zM63.92 406.35h0.85v0.85h-0.85zM63.04 417.52h0.85v0.85h-0.85zM62.07 380.68h0.85v0.85h-0.85zM72.88 386.04h0.85v0.85h-0.85zM68.58 387.17h0.85v0.85h-0.85zM69.07 436.19h0.85v0.85h-0.85zM75.63 392.55h0.85v0.85h-0.85zM61.81 441.43h0.85v0.85h-0.85zM69.53 402.23h0.85v0.85h-0.85zM67.57 437.49h0.85v0.85h-0.85zM65.18 432.48h0.85v0.85h-0.85zM66.46 432.46h0.85v0.85h-0.85zM73.81 406.86h0.85v0.85h-0.85zM74.99 439.98h0.85v0.85h-0.85zM68.05 421.49h0.85v0.85h-0.85zM71.49 431.81h0.85v0.85h-0.85zM74.52 439.35h0.85v0.85h-0.85zM67.31 388.52h0.85v0.85h-0.85zM64.83 429.03h0.85v0.85h-0.85zM61.13 394.94h0.85v0.85h-0.85zM76.9 422.83h0.85v0.85h-0.85zM63.17 450.24h0.85v0.85h-0.85zM68.03 430.38h0.85v0.85h-0.85zM67.64 426.23h0.85v0.85h-0.85zM77.71 445.13h0.85v0.85h-0.85zM73.03 376.64h0.85v0.85h-0.85zM61.62 387.78h0.85v0.85h-0.85zM73.33 404.09h0.85v0.85h-0.85zM62.94 455.56h0.85v0.85h-0.85zM61.35 406.64h0.85v0.85h-0.85zM69.11 419.65h0.85v0.85h-0.85zM66.16 409.16h0.85v0.85h-0.85zM75.16 437.71h0.85v0.85h-0.85zM67.56 403.96h0.85v0.85h-0.85zM73.91 425.21h0.85v0.85h-0.85zM67.52 451.69h0.85v0.85h-0.85zM70.18 430.86h0.85v0.85h-0.85zM63.4 437.69h0.85v0.85h-0.85zM62.72 393.91h0.85v0.85h-0.85zM65.17 445.15h0.85v0.85h-0.85zM62.95 415.82h0.85v0.85h-0.85zM61.23 406.27h0.85v0.85h-0.85zM63.34 421.38h0.85v0.85h-0.85zM65.56 425.77h0.85v0.85h-0.85zM69.1 399.58h0.85v0.85h-0.85zM65.31 408.72h0.85v0.85h-0.85zM61.99 377.34h0.85v0.85h-0.85zM66.16 442.66h0.85v0.85h-0.85zM64 383.46h0.85v0.85h-0.85zM77.85 415.54h0.85v0.85h-0.85zM75.64 396.84h0.85v0.85h-0.85zM67.95 415.59h0.85v0.85h-0.85zM67.63 438.06h0.85v0.85h-0.85zM70.26 379.12h0.85v0.85h-0.85zM71.49 428.11h0.85v0.85h-0.85zM76.86 403.57h0.85v0.85h-0.85zM77.8 441.15h0.85v0.85h-0.85zM75.07 413.21h0.85v0.85h-0.85zM63.89 433.15h0.85v0.85h-0.85zM63.77 370.55h0.85v0.85h-0.85zM62.17 387.82h0.85v0.85h-0.85zM73.71 408.32h0.85v0.85h-0.85zM69.64 405.48h0.85v0.85h-0.85zM64.47 363.78h0.85v0.85h-0.85zM61.09 448.7h0.85v0.85h-0.85zM74.67 418.52h0.85v0.85h-0.85zM73.4 437.27h0.85v0.85h-0.85zM74.55 410.66h0.85v0.85h-0.85zM73.95 439.17h0.85v0.85h-0.85zM62.61 452.61h0.85v0.85h-0.85zM67.74 447.47h0.85v0.85h-0.85zM65.16 431.69h0.85v0.85h-0.85zM61.3 443.57h0.85v0.85h-0.85zM64.76 422.18h0.85v0.85h-0.85zM67.18 410.03h0.85v0.85h-0.85zM74.68 428.12h0.85v0.85h-0.85zM71.75 408.65h0.85v0.85h-0.85zM65.65 408.03h0.85v0.85h-0.85zM66.37 443.33h0.85v0.85h-0.85zM66.59 385.16h0.85v0.85h-0.85zM64.49 434.38h0.85v0.85h-0.85zM70.19 434.5h0.85v0.85h-0.85zM63.91 429.84h0.85v0.85h-0.85zM63.33 386.42h0.85v0.85h-0.85zM68.22 407.82h0.85v0.85h-0.85zM69.44 362.99h0.85v0.85h-0.85zM66.37 410.89h0.85v0.85h-0.85zM77.09 419.25h0.85v0.85h-0.85zM75.87 397.1h0.85v0.85h-0.85zM73.72 406.11h0.85v0.85h-0.85zM77.69 386.7h0.85v0.85h-0.85zM77.27 412.45h0.85v0.85h-0.85zM67.84 398.72h0.85v0.85h-0.85zM63.92 431.75h0.85v0.85h-0.85zM72.41 403.36h0.85v0.85h-0.85zM66.38 447.1h0.85v0.85h-0.85zM66.97 394.81h0.85v0.85h-0.85zM63.42 453.96h0.85v0.85h-0.85zM67.33 426.47h0.85v0.85h-0.85zM64.51 427.15h0.85v0.85h-0.85zM75.99 425.1h0.85v0.85h-0.85zM71.59 440.71h0.85v0.85h-0.85zM70.55 416.86h0.85v0.85h-0.85zM75.14 387.32h0.85v0.85h-0.85zM68.6 430.55h0.85v0.85h-0.85zM68.03 428.74h0.85v0.85h-0.85zM64.81 409.81h0.85v0.85h-0.85zM70.64 423.95h0.85v0.85h-0.85zM61.45 417.63h0.85v0.85h-0.85zM68.5 425.92h0.85v0.85h-0.85zM71.01 423.41h0.85v0.85h-0.85zM63.48 444.88h0.85v0.85h-0.85zM77.78 414.68h0.85v0.85h-0.85zM66.22 434.11h0.85v0.85h-0.85zM77.72 434.02h0.85v0.85h-0.85zM75.65 410.82h0.85v0.85h-0.85zM77.73 388.68h0.85v0.85h-0.85zM64.88 415.98h0.85v0.85h-0.85zM71.94 439.84h0.85v0.85h-0.85zM75 445.72h0.85v0.85h-0.85zM69.6 437.56h0.85v0.85h-0.85zM62 455.58h0.85v0.85h-0.85zM73 441.45h0.85v0.85h-0.85zM74.62 402.04h0.85v0.85h-0.85zM70.02 413.84h0.85v0.85h-0.85zM64.23 441.2h0.85v0.85h-0.85zM71.84 403.72h0.85v0.85h-0.85zM70.33 382.94h0.85v0.85h-0.85zM69.24 436.99h0.85v0.85h-0.85zM74.5 401.11h0.85v0.85h-0.85zM74 440.64h0.85v0.85h-0.85zM76.3 420.15h0.85v0.85h-0.85zM63.48 437.51h0.85v0.85h-0.85zM62.61 408.72h0.85v0.85h-0.85zM66.78 373.33h0.85v0.85h-0.85zM75.08 441.16h0.85v0.85h-0.85zM63.99 387.68h0.85v0.85h-0.85zM75.34 410.04h0.85v0.85h-0.85zM76.23 425.16h0.85v0.85h-0.85zM77.69 382.76h0.85v0.85h-0.85zM71.6 397.33h0.85v0.85h-0.85zM73.27 441.79h0.85v0.85h-0.85zM72.26 396.28h0.85v0.85h-0.85zM61.16 412.48h0.85v0.85h-0.85zM66.26 407.2h0.85v0.85h-0.85zM65.64 426.1h0.85v0.85h-0.85zM72.71 424.13h0.85v0.85h-0.85zM63.08 394.51h0.85v0.85h-0.85zM68.83 430.84h0.85v0.85h-0.85zM62.87 388.94h0.85v0.85h-0.85zM71.27 446.18h0.85v0.85h-0.85zM64.23 408.24h0.85v0.85h-0.85zM72.66 456.02h0.85v0.85h-0.85zM67.03 433.98h0.85v0.85h-0.85zM67.84 405.5h0.85v0.85h-0.85zM71.63 390.79h0.85v0.85h-0.85zM74.84 412.13h0.85v0.85h-0.85zM68.67 411.22h0.85v0.85h-0.85zM76.91 416.98h0.85v0.85h-0.85zM72.86 407.59h0.85v0.85h-0.85zM70.75 400.39h0.85v0.85h-0.85zM75.73 404.02h0.85v0.85h-0.85zM75.43 404.12h0.85v0.85h-0.85zM68.63 429.57h0.85v0.85h-0.85zM67.49 445.17h0.85v0.85h-0.85zM71.12 434.5h0.85v0.85h-0.85zM61.99 413.51h0.85v0.85h-0.85zM65.68 411.81h0.85v0.85h-0.85zM77.13 413.07h0.85v0.85h-0.85zM72.71 404.49h0.85v0.85h-0.85zM65.06 429.23h0.85v0.85h-0.85zM63.15 411.37h0.85v0.85h-0.85zM65.18 442.8h0.85v0.85h-0.85zM66.71 411.9h0.85v0.85h-0.85zM75.35 438.78h0.85v0.85h-0.85zM70.18 423.21h0.85v0.85h-0.85zM76.14 385.73h0.85v0.85h-0.85zM67.08 384.54h0.85v0.85h-0.85zM73.19 409.22h0.85v0.85h-0.85zM66.75 429.02h0.85v0.85h-0.85zM77.04 442.94h0.85v0.85h-0.85zM71.66 369.56h0.85v0.85h-0.85zM67.05 414.71h0.85v0.85h-0.85zM66.27 414.46h0.85v0.85h-0.85zM71.19 429.14h0.85v0.85h-0.85zM77.5 450.24h0.85v0.85h-0.85z" fill="#000" fill-opacity="0.85"/>
<line x1="69.4" y1="355.7" x2="69.4" y2="402" stroke="#555" stroke-width="0.8" />
<line x1="69.4" y1="435" x2="69.4" y2="458" stroke="#555" stroke-width="0.8" />
<rect x="53.3" y="402" width="32.2" height="33" fill="none" stroke="#3a3a3a" stroke-width="0.6" />
<line x1="53.3" y1="416.5" x2="85.5" y2="416.5" stroke="#222" stroke-width="1.3" />
<rect x="95.6" y="408.5" width="32.4" height="44.1" fill="#00BFC4" stroke="none" stroke-width="1" fill-opacity="0.5"/>
<path d="M114.48 428.17h0.85v0.85h-0.85zM105.72 445.18h0.85v0.85h-0.85zM109.67 357.72h0.85v0.85h-0.85zM117.08 410.61h0.85v0.85h-0.85zM113.52 447.32h0.85v0.85h-0.85zM114.54 435.57h0.85v0.85h-0.85zM110.78 393.35h0.85v0.85h-0.85zM118.7 395.81h0.85v0.85h-0.85zM117.22 378.3h0.85v0.85h-0.85zM114.98 383.13h0.85v0.85h-0.85zM110.18 416.12h0.85v0.85h-0.85zM103.62 459.43h0.85v0.85h-0.85zM118.86 379.03h0.85v0.85h-0.85zM104.85 431.19h0.85v0.85h-0.85zM119.39 477.5h0.85v0.85h-0.85zM110.49 388.61h0.85v0.85h-0.85zM108.61 391.87h0.85v0.85h-0.85zM106.08 441.18h0.85v0.85h-0.85zM104.17 447.88h0.85v0.85h-0.85zM117.17 397.1h0.85v0.85h-0.85zM110.42 421.69h0.85v0.85h-0.85zM111.41 438.92h0.85v0.85h-0.85zM103.82 420.29h0.85v0.85h-0.85zM119.75 450.5h0.85v0.85h-0.85zM114.58 474.72h0.85v0.85h-0.85zM109.47 417.82h0.85v0.85h-0.85zM114.75 447.28h0.85v0.85h-0.85zM107.29 388.8h0.85v0.85h-0.85zM111.99 418.43h0.85v0.85h-0.85zM111.8 457.05h0.85v0.85h-0.85zM117.28 366.89h0.85v0.85h-0.85zM112.12 424.28h0.85v0.85h-0.85zM110.56 404.47h0.85v0.85h-0.85zM116.42 420.61h0.85v0.85h-0.85zM112.65 387.18h0.85v0.85h-0.85zM115.13 398.09h0.85v0.85h-0.85zM108 370.13h0.85v0.85h-0.85zM114.13 416.75h0.85v0.85h-0.85zM111.11 375.79h0.85v0.85h-0.85zM108.09 402.54h0.85v0.85h-0.85zM119.6 428.32h0.85v0.85h-0.85zM119.55 428.74h0.85v0.85h-0.85zM119.01 396.57h0.85v0.85h-0.85zM106.52 418.5h0.85v0.85h-0.85zM118.8 452.47h0.85v0.85h-0.85zM107.86 353.4h0.85v0.85h-0.85zM109.11 454.13h0.85v0.85h-0.85zM103.45 407.28h0.85v0.85h-0.85zM113.82 371.31h0.85v0.85h-0.85zM120.27 476.15h0.85v0.85h-0.85zM103.71 430.72h0.85v0.85h-0.85zM116.69 414.85h0.85v0.85h-0.85zM114.17 458.66h0.85v0.85h-0.85zM112.26 405.54h0.85v0.85h-0.85zM113.96 428.42h0.85v0.85h-0.85zM119.39 409.61h0.85v0.85h-0.85zM106.06 463.27h0.85v0.85h-0.85zM118.14 412.12h0.85v0.85h-0.85zM119.35 410.98h0.85v0.85h-0.85zM115.13 431.75h0.85v0.85h-0.85zM106.94 448.58h0.85v0.85h-0.85zM107.63 411.57h0.85v0.85h-0.85zM115.1 446.68h0.85v0.85h-0.85zM118.37 391.39h0.85v0.85h-0.85zM107.4 423.42h0.85v0.85h-0.85zM119.95 424.73h0.85v0.85h-0.85zM113.92 435.72h0.85v0.85h-0.85zM119.65 465.17h0.85v0.85h-0.85zM110.4 453.37h0.85v0.85h-0.85zM118.62 438.25h0.85v0.85h-0.85zM113.16 455.5h0.85v0.85h-0.85zM109.56 417.04h0.85v0.85h-0.85zM112.88 451.34h0.85v0.85h-0.85zM115.37 362.79h0.85v0.85h-0.85zM116.86 463.98h0.85v0.85h-0.85zM118.78 463.51h0.85v0.85h-0.85zM116.71 433.5h0.85v0.85h-0.85zM104.97 419.84h0.85v0.85h-0.85zM108.61 417.54h0.85v0.85h-0.85zM115.01 466.68h0.85v0.85h-0.85zM113.88 434.1h0.85v0.85h-0.85zM112.38 390.38h0.85v0.85h-0.85zM110 448.21h0.85v0.85h-0.85zM110.22 407.89h0.85v0.85h-0.85zM114.95 414.95h0.85v0.85h-0.85zM104.84 392.85h0.85v0.85h-0.85zM115.13 413.97h0.85v0.85h-0.85zM114.51 453.31h0.85v0.85h-0.85zM109.52 466.81h0.85v0.85h-0.85zM111.59 367.48h0.85v0.85h-0.85zM106.35 425.47h0.85v0.85h-0.85zM109.1 445.26h0.85v0.85h-0.85zM108.87 406.81h0.85v0.85h-0.85zM103.43 468.54h0.85v0.85h-0.85zM108.05 418.16h0.85v0.85h-0.85zM110.65 401.46h0.85v0.85h-0.85zM118.92 404.21h0.85v0.85h-0.85zM115.17 430.49h0.85v0.85h-0.85zM111.2 395.82h0.85v0.85h-0.85zM117.63 439.86h0.85v0.85h-0.85zM111.11 408.48h0.85v0.85h-0.85zM117.44 460.35h0.85v0.85h-0.85zM112.45 405.25h0.85v0.85h-0.85zM110.02 453.44h0.85v0.85h-0.85zM114.58 445.8h0.85v0.85h-0.85zM112.72 473.99h0.85v0.85h-0.85zM109.25 446.45h0.85v0.85h-0.85zM108.78 451.02h0.85v0.85h-0.85zM109.43 430.39h0.85v0.85h-0.85zM105.61 413.51h0.85v0.85h-0.85zM112.55 404.98h0.85v0.85h-0.85zM104.08 408.66h0.85v0.85h-0.85zM108.16 456.57h0.85v0.85h-0.85zM113.48 467.08h0.85v0.85h-0.85zM118.14 420.68h0.85v0.85h-0.85zM108.76 463.49h0.85v0.85h-0.85zM114.2 390.54h0.85v0.85h-0.85zM113.64 459.46h0.85v0.85h-0.85zM110.31 455.14h0.85v0.85h-0.85zM107.77 440.86h0.85v0.85h-0.85zM109.75 422.24h0.85v0.85h-0.85zM110.09 420.3h0.85v0.85h-0.85zM106.19 456.83h0.85v0.85h-0.85zM107.63 402h0.85v0.85h-0.85zM112.19 473.72h0.85v0.85h-0.85zM117.5 376.11h0.85v0.85h-0.85zM117.26 461.74h0.85v0.85h-0.85zM115.79 418.03h0.85v0.85h-0.85zM105.63 413.36h0.85v0.85h-0.85zM117.46 461.13h0.85v0.85h-0.85zM118.26 402.89h0.85v0.85h-0.85zM108.54 365.57h0.85v0.85h-0.85zM106.21 359.89h0.85v0.85h-0.85zM115.47 395.95h0.85v0.85h-0.85zM106.53 412.58h0.85v0.85h-0.85zM108.6 398.96h0.85v0.85h-0.85zM113.62 460.9h0.85v0.85h-0.85zM114.94 387.14h0.85v0.85h-0.85zM110.92 433.62h0.85v0.85h-0.85zM114.38 432.85h0.85v0.85h-0.85zM111.89 456.35h0.85v0.85h-0.85zM111.24 442.44h0.85v0.85h-0.85zM109.9 442.31h0.85v0.85h-0.85zM112.08 422.94h0.85v0.85h-0.85zM108.03 449.49h0.85v0.85h-0.85zM111.66 465.53h0.85v0.85h-0.85zM115.04 460.4h0.85v0.85h-0.85zM114.9 470.92h0.85v0.85h-0.85zM110.2 423.99h0.85v0.85h-0.85zM116.12 439.96h0.85v0.85h-0.85zM105.5 459.19h0.85v0.85h-0.85zM105.14 379.63h0.85v0.85h-0.85zM104.26 384.52h0.85v0.85h-0.85zM107.54 355.18h0.85v0.85h-0.85zM114.95 388.71h0.85v0.85h-0.85zM119.72 440.68h0.85v0.85h-0.85zM115.99 471.72h0.85v0.85h-0.85zM103.78 469.64h0.85v0.85h-0.85zM119.04 405.31h0.85v0.85h-0.85zM106.81 428.25h0.85v0.85h-0.85zM110.5 453.1h0.85v0.85h-0.85zM108.67 434.23h0.85v0.85h-0.85zM104.78 407.3h0.85v0.85h-0.85zM119.5 439.89h0.85v0.85h-0.85zM116.31 477.29h0.85v0.85h-0.85zM109.46 466.56h0.85v0.85h-0.85zM119 412.72h0.85v0.85h-0.85zM114.67 439.29h0.85v0.85h-0.85zM107.19 359.46h0.85v0.85h-0.85zM115.73 428.86h0.85v0.85h-0.85zM116.17 458.21h0.85v0.85h-0.85zM109.79 416.36h0.85v0.85h-0.85zM120.12 460.91h0.85v0.85h-0.85zM106.61 429.09h0.85v0.85h-0.85zM112.41 441.45h0.85v0.85h-0.85zM107.22 418.28h0.85v0.85h-0.85zM113.71 420.36h0.85v0.85h-0.85zM112.5 390.68h0.85v0.85h-0.85zM115.96 470.16h0.85v0.85h-0.85zM110.41 408.69h0.85v0.85h-0.85zM115.83 387.14h0.85v0.85h-0.85zM106.24 442.11h0.85v0.85h-0.85zM113.43 434.67h0.85v0.85h-0.85zM109.73 437.25h0.85v0.85h-0.85zM109.33 413.74h0.85v0.85h-0.85zM108.92 483.01h0.85v0.85h-0.85zM111.12 430.62h0.85v0.85h-0.85zM110.1 397.36h0.85v0.85h-0.85zM108.78 401.98h0.85v0.85h-0.85zM109.25 418.76h0.85v0.85h-0.85zM108.35 467.42h0.85v0.85h-0.85zM114.48 415.72h0.85v0.85h-0.85zM112.07 421.4h0.85v0.85h-0.85zM104.55 443.5h0.85v0.85h-0.85zM105.02 445.64h0.85v0.85h-0.85zM117.07 408.52h0.85v0.85h-0.85zM114.75 478.78h0.85v0.85h-0.85zM110.75 397.16h0.85v0.85h-0.85zM117.6 411.36h0.85v0.85h-0.85zM106.64 406.07h0.85v0.85h-0.85zM114.13 442.66h0.85v0.85h-0.85zM111.44 438.37h0.85v0.85h-0.85zM111.09 471.44h0.85v0.85h-0.85zM109.96 467.25h0.85v0.85h-0.85zM109.41 427.37h0.85v0.85h-0.85zM116.08 449.5h0.85v0.85h-0.85zM112.24 406.94h0.85v0.85h-0.85zM111.83 450.51h0.85v0.85h-0.85zM113.78 444.82h0.85v0.85h-0.85zM109.34 449.43h0.85v0.85h-0.85zM103.72 413.46h0.85v0.85h-0.85zM116.73 462.98h0.85v0.85h-0.85zM119.74 420.79h0.85v0.85h-0.85zM105.88 463.88h0.85v0.85h-0.85zM110.45 459.01h0.85v0.85h-0.85zM107.71 414.13h0.85v0.85h-0.85zM104.18 422.85h0.85v0.85h-0.85zM105.29 375.18h0.85v0.85h-0.85zM105.99 413.52h0.85v0.85h-0.85zM117.44 389.96h0.85v0.85h-0.85zM111.63 419.86h0.85v0.85h-0.85zM119.16 439.39h0.85v0.85h-0.85zM107.18 393.47h0.85v0.85h-0.85zM118.76 460.76h0.85v0.85h-0.85zM112.28 466.26h0.85v0.85h-0.85zM106.51 418.75h0.85v0.85h-0.85zM116.31 464.48h0.85v0.85h-0.85zM116.75 434.99h0.85v0.85h-0.85zM112.37 409.44h0.85v0.85h-0.85zM105.15 464.18h0.85v0.85h-0.85zM106.45 440.82h0.85v0.85h-0.85zM117.57 459.09h0.85v0.85h-0.85zM110.71 443.19h0.85v0.85h-0.85zM111.7 364.42h0.85v0.85h-0.85zM110.1 418.06h0.85v0.85h-0.85zM118.94 383.57h0.85v0.85h-0.85zM112.85 432.35h0.85v0.85h-0.85zM118.54 459.43h0.85v0.85h-0.85zM112.55 434.81h0.85v0.85h-0.85zM109.63 459.78h0.85v0.85h-0.85zM103.71 463.72h0.85v0.85h-0.85zM112.27 456.01h0.85v0.85h-0.85zM120.14 441.27h0.85v0.85h-0.85zM110.23 404.14h0.85v0.85h-0.85zM115.99 456.27h0.85v0.85h-0.85zM116.51 432.55h0.85v0.85h-0.85zM118.08 446.14h0.85v0.85h-0.85zM109.48 443.74h0.85v0.85h-0.85zM104.7 411.72h0.85v0.85h-0.85zM104.02 390.17h0.85v0.85h-0.85zM105.69 474.59h0.85v0.85h-0.85zM105.58 439.53h0.85v0.85h-0.85zM112.36 472.8h0.85v0.85h-0.85zM117.35 397.95h0.85v0.85h-0.85zM119.92 460.74h0.85v0.85h-0.85zM110.14 404.65h0.85v0.85h-0.85zM108.1 444.68h0.85v0.85h-0.85zM115.22 436.55h0.85v0.85h-0.85zM117.31 452.71h0.85v0.85h-0.85zM108.15 452.67h0.85v0.85h-0.85zM110.67 453.01h0.85v0.85h-0.85zM103.65 396.84h0.85v0.85h-0.85zM109.39 441.26h0.85v0.85h-0.85zM111.63 385.93h0.85v0.85h-0.85zM108.83 422.94h0.85v0.85h-0.85zM112.46 436.28h0.85v0.85h-0.85zM120.08 433.05h0.85v0.85h-0.85zM108.38 464.05h0.85v0.85h-0.85zM108.66 461.62h0.85v0.85h-0.85zM104.28 467.25h0.85v0.85h-0.85zM119.14 414.46h0.85v0.85h-0.85zM115.31 444.74h0.85v0.85h-0.85zM105.37 401.91h0.85v0.85h-0.85zM104.42 471.56h0.85v0.85h-0.85zM110.62 397.71h0.85v0.85h-0.85zM114.85 457.72h0.85v0.85h-0.85zM116.55 483.46h0.85v0.85h-0.85zM118.79 424.9h0.85v0.85h-0.85zM104.18 414.34h0.85v0.85h-0.85zM118.28 471.51h0.85v0.85h-0.85zM111.46 444.63h0.85v0.85h-0.85zM107.03 401.81h0.85v0.85h-0.85zM104.9 381.51h0.85v0.85h-0.85zM118.54 428.57h0.85v0.85h-0.85zM112.04 466.34h0.85v0.85h-0.85zM111.25 445.81h0.85v0.85h-0.85zM115.31 454.54h0.85v0.85h-0.85zM117.68 476.35h0.85v0.85h-0.85zM113.34 446.2h0.85v0.85h-0.85zM111.32 396.73h0.85v0.85h-0.85zM105.92 425.81h0.85v0.85h-0.85zM110.29 401.51h0.85v0.85h-0.85zM113.91 397.77h0.85v0.85h-0.85zM120.09 415.33h0.85v0.85h-0.85zM112.08 446.75h0.85v0.85h-0.85zM109.96 424.61h0.85v0.85h-0.85zM119.67 401.32h0.85v0.85h-0.85zM114.35 464.7h0.85v0.85h-0.85zM105.75 443.73h0.85v0.85h-0.85zM106.14 434.09h0.85v0.85h-0.85zM113.28 415.01h0.85v0.85h-0.85zM107.26 396.95h0.85v0.85h-0.85zM111.54 450.86h0.85v0.85h-0.85zM106.01 462.93h0.85v0.85h-0.85zM119.25 385.14h0.85v0.85h-0.85zM115.09 440.06h0.85v0.85h-0.85zM105.83 435.4h0.85v0.85h-0.85zM111.72 475h0.85v0.85h-0.85zM105.79 464.37h0.85v0.85h-0.85zM112.63 410.71h0.85v0.85h-0.85zM117.91 408.15h0.85v0.85h-0.85zM104.64 409.44h0.85v0.85h-0.85zM107.92 395.91h0.85v0.85h-0.85zM118.23 469.29h0.85v0.85h-0.85zM110.55 445.46h0.85v0.85h-0.85zM117.44 371.84h0.85v0.85h-0.85zM106.7 390.56h0.85v0.85h-0.85zM117.96 424.71h0.85v0.85h-0.85zM104.36 398.79h0.85v0.85h-0.85zM103.44 464.23h0.85v0.85h-0.85zM105.69 451.2h0.85v0.85h-0.85zM106.83 412.79h0.85v0.85h-0.85zM118.96 425.05h0.85v0.85h-0.85zM112.41 459.26h0.85v0.85h-0.85zM106.29 385.02h0.85v0.85h-0.85zM116.8 412.47h0.85v0.85h-0.85zM103.73 464.87h0.85v0.85h-0.85zM119.62 415.88h0.85v0.85h-0.85zM104.66 394.17h0.85v0.85h-0.85zM118.42 409.89h0.85v0.85h-0.85zM115.56 409.65h0.85v0.85h-0.85zM114.49 389.53h0.85v0.85h-0.85zM113.42 396.79h0.85v0.85h-0.85zM118.24 451.93h0.85v0.85h-0.85zM120.04 424.8h0.85v0.85h-0.85zM119.44 422.19h0.85v0.85h-0.85zM120.28 464.73h0.85v0.85h-0.85zM107.95 387.65h0.85v0.85h-0.85zM118.35 447.82h0.85v0.85h-0.85zM116.36 409.09h0.85v0.85h-0.85zM103.37 428.38h0.85v0.85h-0.85zM103.42 384.64h0.85v0.85h-0.85zM119.16 405.4h0.85v0.85h-0.85zM117.97 446.33h0.85v0.85h-0.85zM109.98 464.9h0.85v0.85h-0.85zM114.43 447.82h0.85v0.85h-0.85zM104.87 447.44h0.85v0.85h-0.85zM105.97 462.84h0.85v0.85h-0.85zM114.99 425.62h0.85v0.85h-0.85zM117.35 452.12h0.85v0.85h-0.85zM108.37 413.96h0.85v0.85h-0.85zM104.1 450.61h0.85v0.85h-0.85zM108.66 461.74h0.85v0.85h-0.85zM108.62 420.98h0.85v0.85h-0.85zM106.26 449.37h0.85v0.85h-0.85zM104.43 391.92h0.85v0.85h-0.85zM113.89 391.27h0.85v0.85h-0.85zM103.4 478.49h0.85v0.85h-0.85zM109.34 427.09h0.85v0.85h-0.85zM109.14 413.75h0.85v0.85h-0.85zM110.5 387.96h0.85v0.85h-0.85zM104.31 409.93h0.85v0.85h-0.85zM119.08 391.84h0.85v0.85h-0.85zM120.01 449.78h0.85v0.85h-0.85zM115.85 457.33h0.85v0.85h-0.85zM105.15 405.14h0.85v0.85h-0.85zM114.94 476.21h0.85v0.85h-0.85zM105.74 450.2h0.85v0.85h-0.85zM112.4 455.69h0.85v0.85h-0.85zM106.88 385.05h0.85v0.85h-0.85zM113.89 473.07h0.85v0.85h-0.85zM104.68 385.48h0.85v0.85h-0.85zM109.29 452.63h0.85v0.85h-0.85zM105.63 428.47h0.85v0.85h-0.85zM111.75 398.11h0.85v0.85h-0.85zM106.46 424.04h0.85v0.85h-0.85zM110.86 394.12h0.85v0.85h-0.85zM104.35 388.74h0.85v0.85h-0.85zM104.17 428.08h0.85v0.85h-0.85zM116.35 451.2h0.85v0.85h-0.85zM119.47 448.64h0.85v0.85h-0.85zM110.47 396.31h0.85v0.85h-0.85zM104.53 422.94h0.85v0.85h-0.85zM103.99 460.72h0.85v0.85h-0.85zM114.79 476h0.85v0.85h-0.85zM104.32 476.32h0.85v0.85h-0.85zM119.68 463.21h0.85v0.85h-0.85zM113.16 454.68h0.85v0.85h-0.85zM111.49 443.57h0.85v0.85h-0.85zM113.13 460.23h0.85v0.85h-0.85zM110.19 434.62h0.85v0.85h-0.85zM113.27 441.78h0.85v0.85h-0.85zM116.44 467.86h0.85v0.85h-0.85zM115.54 415.5h0.85v0.85h-0.85zM111.49 406.14h0.85v0.85h-0.85zM115.66 432.71h0.85v0.85h-0.85zM105.79 382.82h0.85v0.85h-0.85zM113.84 398.76h0.85v0.85h-0.85zM112.81 397h0.85v0.85h-0.85zM110.57 462.34h0.85v0.85h-0.85zM113.45 404.67h0.85v0.85h-0.85zM110.73 422.64h0.85v0.85h-0.85zM114.9 398.12h0.85v0.85h-0.85zM120.05 416.82h0.85v0.85h-0.85zM114.9 430.09h0.85v0.85h-0.85zM120.03 465.51h0.85v0.85h-0.85zM119.07 364.34h0.85v0.85h-0.85zM119.43 387.3h0.85v0.85h-0.85zM107.66 455.47h0.85v0.85h-0.85zM112.87 449.52h0.85v0.85h-0.85zM113.96 426.22h0.85v0.85h-0.85zM114.47 426.6h0.85v0.85h-0.85zM103.4 447.72h0.85v0.85h-0.85zM115.28 442.76h0.85v0.85h-0.85zM112.41 461.22h0.85v0.85h-0.85zM105.76 434.07h0.85v0.85h-0.85zM118.52 400.66h0.85v0.85h-0.85zM118.61 379.56h0.85v0.85h-0.85zM109.83 390.22h0.85v0.85h-0.85zM103.81 441.26h0.85v0.85h-0.85zM116.87 425.76h0.85v0.85h-0.85zM106.29 420.26h0.85v0.85h-0.85zM119.42 378.6h0.85v0.85h-0.85zM114.68 387.44h0.85v0.85h-0.85zM108.06 442.63h0.85v0.85h-0.85zM114.96 435.53h0.85v0.85h-0.85zM107.46 402.42h0.85v0.85h-0.85zM106.83 465.47h0.85v0.85h-0.85zM111.03 429.4h0.85v0.85h-0.85zM117.87 454.66h0.85v0.85h-0.85zM113.95 453.62h0.85v0.85h-0.85zM104.86 434.01h0.85v0.85h-0.85zM110.66 436.98h0.85v0.85h-0.85zM109.69 453.03h0.85v0.85h-0.85zM109.82 390h0.85v0.85h-0.85zM111.74 458.61h0.85v0.85h-0.85zM104.26 445.36h0.85v0.85h-0.85zM107.82 404.38h0.85v0.85h-0.85zM105.32 429.03h0.85v0.85h-0.85zM108.93 468.85h0.85v0.85h-0.85zM107.38 347.47h0.85v0.85h-0.85zM113.77 430.54h0.85v0.85h-0.85zM104.77 457.38h0.85v0.85h-0.85zM117.84 473.64h0.85v0.85h-0.85zM114.3 431.69h0.85v0.85h-0.85zM105.83 413.47h0.85v0.85h-0.85zM119.64 357.02h0.85v0.85h-0.85zM110.89 462.98h0.85v0.85h-0.85zM111.4 439.44h0.85v0.85h-0.85zM104.99 447.14h0.85v0.85h-0.85zM106.28 452.9h0.85v0.85h-0.85zM113.89 438.49h0.85v0.85h-0.85zM113.75 459.84h0.85v0.85h-0.85zM117.16 398.12h0.85v0.85h-0.85zM112.88 419.37h0.85v0.85h-0.85zM119.92 456.33h0.85v0.85h-0.85zM111.03 387.4h0.85v0.85h-0.85zM117.7 414.14h0.85v0.85h-0.85zM118.78 421.44h0.85v0.85h-0.85zM110.43 455.83h0.85v0.85h-0.85zM114.85 453.58h0.85v0.85h-0.85zM108.35 389.28h0.85v0.85h-0.85zM117.45 391.97h0.85v0.85h-0.85zM108.41 421.25h0.85v0.85h-0.85zM120.07 449.69h0.85v0.85h-0.85zM115.05 392.76h0.85v0.85h-0.85zM116.75 405.39h0.85v0.85h-0.85zM116.36 452.25h0.85v0.85h-0.85zM105.39 437.78h0.85v0.85h-0.85zM105.18 460.13h0.85v0.85h-0.85zM119.61 437.51h0.85v0.85h-0.85zM111.47 410.11h0.85v0.85h-0.85zM114.28 446.02h0.85v0.85h-0.85zM110.38 414.94h0.85v0.85h-0.85zM115.47 463.4h0.85v0.85h-0.85zM114.86 397.47h0.85v0.85h-0.85zM113.53 460.15h0.85v0.85h-0.85zM107.8 463.28h0.85v0.85h-0.85zM118.02 411.96h0.85v0.85h-0.85zM105.45 409.09h0.85v0.85h-0.85zM118.3 393.78h0.85v0.85h-0.85zM106.67 457.98h0.85v0.85h-0.85zM106.66 451.87h0.85v0.85h-0.85zM103.48 441.18h0.85v0.85h-0.85zM116.06 437.22h0.85v0.85h-0.85zM113.97 430.84h0.85v0.85h-0.85zM111.08 389.36h0.85v0.85h-0.85zM109.64 455.08h0.85v0.85h-0.85zM113.48 452.05h0.85v0.85h-0.85zM115.86 456.88h0.85v0.85h-0.85zM117.22 413.31h0.85v0.85h-0.85zM110.56 457.54h0.85v0.85h-0.85zM110.34 449.82h0.85v0.85h-0.85zM108.82 437.16h0.85v0.85h-0.85zM108.54 427.06h0.85v0.85h-0.85zM113.72 463.28h0.85v0.85h-0.85zM112.19 440.5h0.85v0.85h-0.85zM106.26 427.27h0.85v0.85h-0.85zM110.88 443.44h0.85v0.85h-0.85zM112.02 416.73h0.85v0.85h-0.85zM114.32 391.23h0.85v0.85h-0.85zM109.53 455.03h0.85v0.85h-0.85zM119.76 395.69h0.85v0.85h-0.85zM108.72 441.03h0.85v0.85h-0.85zM113.05 385.39h0.85v0.85h-0.85zM118.57 404.05h0.85v0.85h-0.85zM108 449.64h0.85v0.85h-0.85zM104.77 422.26h0.85v0.85h-0.85zM112.79 404.81h0.85v0.85h-0.85zM110.55 462.41h0.85v0.85h-0.85zM107.65 472.11h0.85v0.85h-0.85zM117.57 387.28h0.85v0.85h-0.85zM108.06 419.68h0.85v0.85h-0.85zM113.7 425.52h0.85v0.85h-0.85zM105.11 404.15h0.85v0.85h-0.85zM114.48 439.04h0.85v0.85h-0.85zM106.02 435.77h0.85v0.85h-0.85zM110.61 460.79h0.85v0.85h-0.85zM118.35 434.13h0.85v0.85h-0.85zM111.73 391.68h0.85v0.85h-0.85zM114.15 423.72h0.85v0.85h-0.85zM107.39 404.95h0.85v0.85h-0.85zM112.79 405.17h0.85v0.85h-0.85zM119.06 412.91h0.85v0.85h-0.85zM115.66 461.55h0.85v0.85h-0.85zM117.32 422.22h0.85v0.85h-0.85zM116.61 436.97h0.85v0.85h-0.85zM105.36 470.64h0.85v0.85h-0.85zM118.67 453.44h0.85v0.85h-0.85zM109.11 422.08h0.85v0.85h-0.85zM118.53 368.15h0.85v0.85h-0.85zM103.45 402.25h0.85v0.85h-0.85zM112.06 385.22h0.85v0.85h-0.85zM118.7 446.63h0.85v0.85h-0.85zM105.03 444.97h0.85v0.85h-0.85zM118.11 465.92h0.85v0.85h-0.85zM118.6 456.83h0.85v0.85h-0.85zM114.92 458.92h0.85v0.85h-0.85zM103.69 453.87h0.85v0.85h-0.85zM103.37 479.01h0.85v0.85h-0.85zM112.98 423.87h0.85v0.85h-0.85zM109.06 431.32h0.85v0.85h-0.85zM108.67 431.12h0.85v0.85h-0.85zM103.81 444.76h0.85v0.85h-0.85zM114.37 416.8h0.85v0.85h-0.85zM103.64 426.61h0.85v0.85h-0.85zM119.07 426.83h0.85v0.85h-0.85zM115.72 432.38h0.85v0.85h-0.85zM119.97 420.14h0.85v0.85h-0.85zM117.08 432.64h0.85v0.85h-0.85zM117.13 441.59h0.85v0.85h-0.85zM119.08 420.98h0.85v0.85h-0.85zM118.57 478.02h0.85v0.85h-0.85zM109.49 464.26h0.85v0.85h-0.85zM118.47 416.26h0.85v0.85h-0.85zM113.35 458.2h0.85v0.85h-0.85zM103.5 435.71h0.85v0.85h-0.85zM104.29 435.65h0.85v0.85h-0.85zM107.1 432.74h0.85v0.85h-0.85zM105.98 439.95h0.85v0.85h-0.85zM116.39 415.29h0.85v0.85h-0.85zM105.56 437.46h0.85v0.85h-0.85zM103.67 476.33h0.85v0.85h-0.85zM115.43 422.76h0.85v0.85h-0.85zM114.39 437.6h0.85v0.85h-0.85zM104.93 463.93h0.85v0.85h-0.85zM107.58 431.13h0.85v0.85h-0.85zM111.2 439.22h0.85v0.85h-0.85zM116.91 441.87h0.85v0.85h-0.85zM110.49 430.56h0.85v0.85h-0.85zM106.16 435.41h0.85v0.85h-0.85zM109.93 464.64h0.85v0.85h-0.85zM117.59 430.29h0.85v0.85h-0.85zM120.25 458.77h0.85v0.85h-0.85zM112.34 448.9h0.85v0.85h-0.85zM116.53 424.24h0.85v0.85h-0.85zM103.48 441.12h0.85v0.85h-0.85zM114.67 436h0.85v0.85h-0.85zM117.41 418.03h0.85v0.85h-0.85zM118.36 451.84h0.85v0.85h-0.85zM114.55 412.19h0.85v0.85h-0.85zM109.09 435.83h0.85v0.85h-0.85zM104.8 412.67h0.85v0.85h-0.85zM107.99 458.97h0.85v0.85h-0.85zM107.63 416.95h0.85v0.85h-0.85zM111.71 435.43h0.85v0.85h-0.85zM104.65 461.21h0.85v0.85h-0.85zM117.5 416.65h0.85v0.85h-0.85zM104.39 455.84h0.85v0.85h-0.85zM120.18 425.71h0.85v0.85h-0.85zM108.71 475.32h0.85v0.85h-0.85zM108.93 452.08h0.85v0.85h-0.85zM118.55 380.46h0.85v0.85h-0.85zM120.17 390.47h0.85v0.85h-0.85zM117.8 426.16h0.85v0.85h-0.85zM118.61 428.34h0.85v0.85h-0.85zM106.23 452.28h0.85v0.85h-0.85zM106.2 365.39h0.85v0.85h-0.85zM105.17 439.84h0.85v0.85h-0.85zM109.79 382.96h0.85v0.85h-0.85zM108.52 376.35h0.85v0.85h-0.85zM107.16 441.98h0.85v0.85h-0.85zM107.73 455.61h0.85v0.85h-0.85zM110.17 418.55h0.85v0.85h-0.85zM104.11 459.94h0.85v0.85h-0.85zM104.91 457.13h0.85v0.85h-0.85zM112.74 473.66h0.85v0.85h-0.85zM112.05 452.6h0.85v0.85h-0.85zM114.98 445.53h0.85v0.85h-0.85zM106.59 393.45h0.85v0.85h-0.85zM107.03 464.37h0.85v0.85h-0.85zM104.18 407.49h0.85v0.85h-0.85zM116.69 449.35h0.85v0.85h-0.85zM117.95 370.3h0.85v0.85h-0.85zM111.73 388.93h0.85v0.85h-0.85zM107.6 431.64h0.85v0.85h-0.85zM111.65 414.97h0.85v0.85h-0.85zM107.62 455.06h0.85v0.85h-0.85zM119.9 405.99h0.85v0.85h-0.85zM105.06 409.82h0.85v0.85h-0.85zM119.04 466.2h0.85v0.85h-0.85zM112.3 403.34h0.85v0.85h-0.85zM108.76 461.71h0.85v0.85h-0.85zM103.37 416.47h0.85v0.85h-0.85zM113.62 391.06h0.85v0.85h-0.85zM117.96 430.1h0.85v0.85h-0.85zM107.91 425.62h0.85v0.85h-0.85zM105.68 421.06h0.85v0.85h-0.85zM115.06 428.65h0.85v0.85h-0.85zM113.22 399.01h0.85v0.85h-0.85zM115.14 483.13h0.85v0.85h-0.85zM114.27 414.43h0.85v0.85h-0.85zM105.15 388.24h0.85v0.85h-0.85zM115.32 456.94h0.85v0.85h-0.85zM112.84 441.45h0.85v0.85h-0.85zM117.53 417.32h0.85v0.85h-0.85zM117.33 431.74h0.85v0.85h-0.85zM108.98 451.22h0.85v0.85h-0.85zM109.25 457.43h0.85v0.85h-0.85zM117.63 440.71h0.85v0.85h-0.85zM113.87 470.24h0.85v0.85h-0.85zM106.04 401.25h0.85v0.85h-0.85zM108.53 458.54h0.85v0.85h-0.85zM113.13 393.46h0.85v0.85h-0.85zM115.87 423.18h0.85v0.85h-0.85zM112 398.33h0.85v0.85h-0.85zM106.23 470.84h0.85v0.85h-0.85zM110 420.65h0.85v0.85h-0.85zM105.75 391.14h0.85v0.85h-0.85zM112.63 414.12h0.85v0.85h-0.85zM114.09 392.16h0.85v0.85h-0.85zM108.41 419.38h0.85v0.85h-0.85zM115.91 460.04h0.85v0.85h-0.85zM107.72 425.61h0.85v0.85h-0.85zM114.32 431.26h0.85v0.85h-0.85zM114.56 453.37h0.85v0.85h-0.85zM106 347.6h0.85v0.85h-0.85zM112.59 482.23h0.85v0.85h-0.85zM105.25 431.61h0.85v0.85h-0.85zM117.35 455.3h0.85v0.85h-0.85zM107.91 413.79h0.85v0.85h-0.85zM108.5 382.89h0.85v0.85h-0.85zM110.9 431.53h0.85v0.85h-0.85zM104.96 355.39h0.85v0.85h-0.85zM117.42 406.44h0.85v0.85h-0.85zM117.95 472.5h0.85v0.85h-0.85zM109.46 429.82h0.85v0.85h-0.85zM116.15 463.36h0.85v0.85h-0.85zM115.21 443.39h0.85v0.85h-0.85zM112.24 467.38h0.85v0.85h-0.85zM115.78 408.98h0.85v0.85h-0.85zM107.15 466.02h0.85v0.85h-0.85zM116.26 420.29h0.85v0.85h-0.85zM104.18 456.34h0.85v0.85h-0.85zM107.43 456.8h0.85v0.85h-0.85zM104.13 390.66h0.85v0.85h-0.85zM111 427.02h0.85v0.85h-0.85zM115.42 399.25h0.85v0.85h-0.85zM119.08 399.19h0.85v0.85h-0.85zM108.96 483.53h0.85v0.85h-0.85zM104.49 364.79h0.85v0.85h-0.85zM109.33 433.5h0.85v0.85h-0.85zM110.25 454.72h0.85v0.85h-0.85zM106.04 409.13h0.85v0.85h-0.85zM116.29 480h0.85v0.85h-0.85zM107.06 446.44h0.85v0.85h-0.85zM116.15 425.42h0.85v0.85h-0.85zM108.03 443.43h0.85v0.85h-0.85zM117.09 417.29h0.85v0.85h-0.85zM114.3 376.58h0.85v0.85h-0.85zM112.08 448.7h0.85v0.85h-0.85zM119.01 435.09h0.85v0.85h-0.85zM116.08 415.01h0.85v0.85h-0.85zM115.86 450.19h0.85v0.85h-0.85zM115.08 381.42h0.85v0.85h-0.85zM105.5 419.5h0.85v0.85h-0.85zM107.81 464.28h0.85v0.85h-0.85zM108.53 427.39h0.85v0.85h-0.85zM108.25 388.54h0.85v0.85h-0.85zM114.16 440.41h0.85v0.85h-0.85zM105.89 452.38h0.85v0.85h-0.85zM117.42 410.59h0.85v0.85h-0.85zM115.86 432.58h0.85v0.85h-0.85zM110.44 427.03h0.85v0.85h-0.85zM117.6 368.71h0.85v0.85h-0.85zM115.46 464.06h0.85v0.85h-0.85zM114.01 403.6h0.85v0.85h-0.85zM108.09 446.39h0.85v0.85h-0.85zM118.42 419.59h0.85v0.85h-0.85zM113.69 409.62h0.85v0.85h-0.85zM103.69 373.9h0.85v0.85h-0.85zM108.48 372.47h0.85v0.85h-0.85zM113.12 465.87h0.85v0.85h-0.85zM105.81 429h0.85v0.85h-0.85zM105.5 435.5h0.85v0.85h-0.85zM108.97 381.27h0.85v0.85h-0.85zM116.6 409.16h0.85v0.85h-0.85zM114.19 436.09h0.85v0.85h-0.85zM109.97 410.99h0.85v0.85h-0.85zM108.18 388.81h0.85v0.85h-0.85zM114.68 480.6h0.85v0.85h-0.85zM114 416.09h0.85v0.85h-0.85zM117.1 464.5h0.85v0.85h-0.85zM105.95 432.63h0.85v0.85h-0.85zM104.5 375.75h0.85v0.85h-0.85zM116.58 457.81h0.85v0.85h-0.85zM115.59 448.19h0.85v0.85h-0.85zM113.16 392.58h0.85v0.85h-0.85zM103.84 356.02h0.85v0.85h-0.85zM103.43 441.03h0.85v0.85h-0.85zM109.3 422.77h0.85v0.85h-0.85zM109.27 461.45h0.85v0.85h-0.85zM114.86 402.04h0.85v0.85h-0.85zM119.95 394.65h0.85v0.85h-0.85zM120.15 465.35h0.85v0.85h-0.85zM106.38 440.92h0.85v0.85h-0.85zM115.45 401.41h0.85v0.85h-0.85zM115.28 425.07h0.85v0.85h-0.85zM112.97 402.59h0.85v0.85h-0.85zM108.18 460.36h0.85v0.85h-0.85zM105.74 458.82h0.85v0.85h-0.85zM104.01 445.1h0.85v0.85h-0.85zM104.52 407.61h0.85v0.85h-0.85zM112.31 400.84h0.85v0.85h-0.85zM117.13 457.18h0.85v0.85h-0.85zM107.5 464.7h0.85v0.85h-0.85zM110.54 467.32h0.85v0.85h-0.85zM115.58 445.17h0.85v0.85h-0.85zM108.07 410.44h0.85v0.85h-0.85zM109.1 424.8h0.85v0.85h-0.85zM118.02 450.71h0.85v0.85h-0.85zM104.13 444.71h0.85v0.85h-0.85zM116.36 456.12h0.85v0.85h-0.85zM106.5 476.15h0.85v0.85h-0.85zM110.04 466.51h0.85v0.85h-0.85zM106.74 435.3h0.85v0.85h-0.85zM110.47 408.63h0.85v0.85h-0.85zM107.65 436.04h0.85v0.85h-0.85zM110.54 435.13h0.85v0.85h-0.85zM114.3 404.03h0.85v0.85h-0.85zM103.92 414.56h0.85v0.85h-0.85zM110.46 407.25h0.85v0.85h-0.85zM104.46 440.81h0.85v0.85h-0.85zM104.64 462.87h0.85v0.85h-0.85zM103.78 469.04h0.85v0.85h-0.85zM109.01 413.57h0.85v0.85h-0.85zM104.82 445.84h0.85v0.85h-0.85zM117.3 402.34h0.85v0.85h-0.85zM104.25 465.05h0.85v0.85h-0.85zM109.09 386.59h0.85v0.85h-0.85zM114.83 418.27h0.85v0.85h-0.85zM114.09 468.21h0.85v0.85h-0.85zM107.06 415.69h0.85v0.85h-0.85zM104.45 380.05h0.85v0.85h-0.85zM118.01 460.94h0.85v0.85h-0.85zM107.05 418.97h0.85v0.85h-0.85zM107.21 460.95h0.85v0.85h-0.85zM118.4 422.09h0.85v0.85h-0.85zM109.31 365.56h0.85v0.85h-0.85zM110.91 401.15h0.85v0.85h-0.85zM119.59 466.88h0.85v0.85h-0.85zM117.71 452.85h0.85v0.85h-0.85zM115.86 419.6h0.85v0.85h-0.85zM118.67 450.83h0.85v0.85h-0.85zM117.73 418.54h0.85v0.85h-0.85zM113.23 399.8h0.85v0.85h-0.85zM115.95 469.32h0.85v0.85h-0.85zM106.37 453.13h0.85v0.85h-0.85zM112.84 419.22h0.85v0.85h-0.85zM107.34 456.67h0.85v0.85h-0.85zM115.97 433.95h0.85v0.85h-0.85zM107.65 447.15h0.85v0.85h-0.85zM109.42 386.68h0.85v0.85h-0.85zM112.84 400.32h0.85v0.85h-0.85zM104.1 432.72h0.85v0.85h-0.85zM118.85 467.13h0.85v0.85h-0.85zM107.94 400.36h0.85v0.85h-0.85zM103.83 471.2h0.85v0.85h-0.85zM109.52 395.51h0.85v0.85h-0.85zM104.28 459.52h0.85v0.85h-0.85zM116.18 432.93h0.85v0.85h-0.85zM110.81 441.66h0.85v0.85h-0.85zM115.4 443.78h0.85v0.85h-0.85zM107.88 429h0.85v0.85h-0.85zM117 442.11h0.85v0.85h-0.85zM114.23 386.4h0.85v0.85h-0.85zM106.05 423.31h0.85v0.85h-0.85zM104.48 415.31h0.85v0.85h-0.85zM112.81 458.01h0.85v0.85h-0.85zM118.05 424.75h0.85v0.85h-0.85zM110.03 458.39h0.85v0.85h-0.85zM113.29 368.79h0.85v0.85h-0.85zM113.61 406.01h0.85v0.85h-0.85zM116.88 386.71h0.85v0.85h-0.85zM106.39 460.15h0.85v0.85h-0.85zM104.9 457.7h0.85v0.85h-0.85zM112.87 393.1h0.85v0.85h-0.85zM109.98 406.86h0.85v0.85h-0.85zM116.23 419.01h0.85v0.85h-0.85zM118.34 454.48h0.85v0.85h-0.85zM107.72 406.83h0.85v0.85h-0.85zM110.14 458.64h0.85v0.85h-0.85zM111.87 388.96h0.85v0.85h-0.85zM114.07 406.83h0.85v0.85h-0.85zM106.04 422.04h0.85v0.85h-0.85zM118.45 452.7h0.85v0.85h-0.85zM106.92 394.39h0.85v0.85h-0.85zM106.08 430.39h0.85v0.85h-0.85zM110.72 471.98h0.85v0.85h-0.85zM106.7 382.98h0.85v0.85h-0.85zM107.56 403.84h0.85v0.85h-0.85zM118.25 440.01h0.85v0.85h-0.85zM112.65 421.3h0.85v0.85h-0.85zM111.7 471.06h0.85v0.85h-0.85zM118.12 419.87h0.85v0.85h-0.85zM110.38 446.21h0.85v0.85h-0.85zM107.51 457.39h0.85v0.85h-0.85zM107.28 386.84h0.85v0.85h-0.85zM117.84 415.71h0.85v0.85h-0.85zM104.55 408.84h0.85v0.85h-0.85zM116.9 388.07h0.85v0.85h-0.85zM119.47 430.57h0.85v0.85h-0.85zM105.74 415.87h0.85v0.85h-0.85zM116.08 398.67h0.85v0.85h-0.85zM117.64 430.74h0.85v0.85h-0.85zM111.58 469.44h0.85v0.85h-0.85zM117.75 385.48h0.85v0.85h-0.85zM113.07 462.39h0.85v0.85h-0.85zM116.6 433.22h0.85v0.85h-0.85zM103.65 417.96h0.85v0.85h-0.85zM111.25 470.99h0.85v0.85h-0.85zM118.31 416.28h0.85v0.85h-0.85zM110.77 464.14h0.85v0.85h-0.85zM120.29 451.91h0.85v0.85h-0.85zM111.92 431.92h0.85v0.85h-0.85zM105.57 467.61h0.85v0.85h-0.85zM106.76 448.39h0.85v0.85h-0.85zM116.6 415h0.85v0.85h-0.85zM118.88 383.44h0.85v0.85h-0.85zM119.06 449.79h0.85v0.85h-0.85zM113.41 459.74h0.85v0.85h-0.85zM104.94 421.8h0.85v0.85h-0.85zM116.54 464.61h0.85v0.85h-0.85zM108.21 414.6h0.85v0.85h-0.85zM108.91 472.68h0.85v0.85h-0.85zM107.21 397.15h0.85v0.85h-0.85zM117.08 448.87h0.85v0.85h-0.85zM114.85 410.06h0.85v0.85h-0.85zM114.63 439.18h0.85v0.85h-0.85zM116.57 395.88h0.85v0.85h-0.85zM105.09 387.24h0.85v0.85h-0.85zM118.65 439.45h0.85v0.85h-0.85zM117.83 447.24h0.85v0.85h-0.85zM114.67 460.39h0.85v0.85h-0.85zM119.81 465.46h0.85v0.85h-0.85zM105.81 459.05h0.85v0.85h-0.85zM110.94 411.81h0.85v0.85h-0.85zM111.21 434.53h0.85v0.85h-0.85zM114.21 463.02h0.85v0.85h-0.85zM120.12 465.37h0.85v0.85h-0.85zM108.18 372.43h0.85v0.85h-0.85zM105.04 476.16h0.85v0.85h-0.85zM106.24 419.95h0.85v0.85h-0.85zM111.09 445.09h0.85v0.85h-0.85zM119.73 461.3h0.85v0.85h-0.85zM108.58 462.51h0.85v0.85h-0.85zM120.2 442.76h0.85v0.85h-0.85zM110.73 423.61h0.85v0.85h-0.85zM113.01 479.13h0.85v0.85h-0.85zM112.81 358.13h0.85v0.85h-0.85zM103.93 391.22h0.85v0.85h-0.85zM116.13 462.08h0.85v0.85h-0.85zM119.2 421.83h0.85v0.85h-0.85zM104.14 404.06h0.85v0.85h-0.85zM111.6 377.7h0.85v0.85h-0.85zM114.58 409.17h0.85v0.85h-0.85zM111.4 473.45h0.85v0.85h-0.85zM105.25 458.78h0.85v0.85h-0.85zM106.86 450.15h0.85v0.85h-0.85zM112.54 460.47h0.85v0.85h-0.85zM109.94 418.15h0.85v0.85h-0.85zM115.6 405.6h0.85v0.85h-0.85zM105.7 429.16h0.85v0.85h-0.85zM109.75 411.01h0.85v0.85h-0.85zM106.03 411.07h0.85v0.85h-0.85zM115.44 434.87h0.85v0.85h-0.85zM114.99 350.5h0.85v0.85h-0.85zM111.79 401.02h0.85v0.85h-0.85zM108.28 456.97h0.85v0.85h-0.85zM104.82 459.3h0.85v0.85h-0.85zM103.33 413.44h0.85v0.85h-0.85zM115.09 394.8h0.85v0.85h-0.85zM116.4 465.59h0.85v0.85h-0.85zM113.58 403.94h0.85v0.85h-0.85zM107.97 442.23h0.85v0.85h-0.85zM117.96 380.45h0.85v0.85h-0.85zM109.08 466.02h0.85v0.85h-0.85zM116.83 387.55h0.85v0.85h-0.85zM104.15 400.23h0.85v0.85h-0.85zM106.71 479.43h0.85v0.85h-0.85zM114.47 406.89h0.85v0.85h-0.85zM114.3 449.99h0.85v0.85h-0.85zM118.57 396.42h0.85v0.85h-0.85zM106.79 418.76h0.85v0.85h-0.85zM107.18 455.5h0.85v0.85h-0.85zM107.77 423.71h0.85v0.85h-0.85zM116.2 428.18h0.85v0.85h-0.85zM120.29 390.47h0.85v0.85h-0.85zM117.74 430.66h0.85v0.85h-0.85zM109.65 426.18h0.85v0.85h-0.85zM104.5 436.17h0.85v0.85h-0.85zM105.35 401.19h0.85v0.85h-0.85zM107.82 397.95h0.85v0.85h-0.85zM118.93 397.11h0.85v0.85h-0.85zM107.67 373.76h0.85v0.85h-0.85zM113.34 380.91h0.85v0.85h-0.85zM112.66 462.58h0.85v0.85h-0.85zM116.6 420.67h0.85v0.85h-0.85zM115.46 439.1h0.85v0.85h-0.85zM107.72 450.36h0.85v0.85h-0.85zM108.41 382.6h0.85v0.85h-0.85zM115.92 402.52h0.85v0.85h-0.85zM104.4 459.56h0.85v0.85h-0.85zM112.45 437.32h0.85v0.85h-0.85zM107.37 425.67h0.85v0.85h-0.85zM116.9 481.36h0.85v0.85h-0.85zM117.32 454.02h0.85v0.85h-0.85zM118.41 465.53h0.85v0.85h-0.85zM114.67 454.98h0.85v0.85h-0.85zM108.78 367.31h0.85v0.85h-0.85zM116.52 415.77h0.85v0.85h-0.85zM115.68 368.12h0.85v0.85h-0.85zM105.04 423.52h0.85v0.85h-0.85zM107.93 419.56h0.85v0.85h-0.85zM107.69 445.6h0.85v0.85h-0.85zM117.1 407.67h0.85v0.85h-0.85zM116.42 421.41h0.85v0.85h-0.85zM109.68 392.07h0.85v0.85h-0.85zM107.51 397.7h0.85v0.85h-0.85zM118.09 430.86h0.85v0.85h-0.85zM118.16 430.74h0.85v0.85h-0.85zM104.38 416.14h0.85v0.85h-0.85zM108.24 459.02h0.85v0.85h-0.85zM114.86 412.28h0.85v0.85h-0.85zM112.37 482.93h0.85v0.85h-0.85zM107.25 431.61h0.85v0.85h-0.85zM109.36 380.87h0.85v0.85h-0.85zM112.51 403.04h0.85v0.85h-0.85zM107.66 391.28h0.85v0.85h-0.85zM103.73 410.66h0.85v0.85h-0.85zM109.37 456.09h0.85v0.85h-0.85zM115.71 448.81h0.85v0.85h-0.85zM112.16 449.88h0.85v0.85h-0.85zM113.66 400.77h0.85v0.85h-0.85zM107.84 416.15h0.85v0.85h-0.85zM118.32 458.69h0.85v0.85h-0.85zM118.7 460.01h0.85v0.85h-0.85zM117.51 440.06h0.85v0.85h-0.85zM118.55 441.65h0.85v0.85h-0.85zM106.43 400.65h0.85v0.85h-0.85zM110 385.8h0.85v0.85h-0.85zM112.97 476.11h0.85v0.85h-0.85zM114.18 411.54h0.85v0.85h-0.85zM113.56 414.69h0.85v0.85h-0.85zM115.46 450.81h0.85v0.85h-0.85zM110.26 438.11h0.85v0.85h-0.85zM104.81 398.12h0.85v0.85h-0.85zM109.35 386.85h0.85v0.85h-0.85zM118.05 459.68h0.85v0.85h-0.85zM115.69 400.61h0.85v0.85h-0.85zM109.66 418.93h0.85v0.85h-0.85zM113.26 463.73h0.85v0.85h-0.85zM118.89 435.27h0.85v0.85h-0.85zM108.34 411.91h0.85v0.85h-0.85zM108.25 388.7h0.85v0.85h-0.85zM104.38 449.21h0.85v0.85h-0.85zM105.97 430.61h0.85v0.85h-0.85zM104.17 431.16h0.85v0.85h-0.85zM111.36 444.39h0.85v0.85h-0.85zM107.36 461.02h0.85v0.85h-0.85z" fill="#000" fill-opacity="0.85"/>
<line x1="111.8" y1="346.5" x2="111.8" y2="408.5" stroke="#555" stroke-width="0.8" />
<line x1="111.8" y1="452.6" x2="111.8" y2="484.3" stroke="#555" stroke-width="0.8" />
<rect x="95.6" y="408.5" width="32.4" height="44.1" fill="none" stroke="#3a3a3a" stroke-width="0.6" />
<line x1="95.6" y1="430.4" x2="128" y2="430.4" stroke="#222" stroke-width="1.3" />
<line x1="43.5" y1="332" x2="43.5" y2="491.6" stroke="#000" stroke-width="1.1" />
<line x1="43.5" y1="491.6" x2="136.9" y2="491.6" stroke="#000" stroke-width="1.1" />
<line x1="40.8" y1="373.2" x2="43.5" y2="373.2" stroke="#000" stroke-width="0.8" />
<text x="39.2" y="378.2" font-size="14" text-anchor="end">2</text>
<line x1="40.8" y1="425.8" x2="43.5" y2="425.8" stroke="#000" stroke-width="0.8" />
<text x="39.2" y="430.8" font-size="14" text-anchor="end">0</text>
<line x1="40.8" y1="478.8" x2="43.5" y2="478.8" stroke="#000" stroke-width="0.8" />
<text x="39.2" y="483.8" font-size="14" text-anchor="end">-2</text>
<line x1="69.4" y1="491.6" x2="69.4" y2="494.3" stroke="#000" stroke-width="0.8" />
<line x1="111.8" y1="491.6" x2="111.8" y2="494.3" stroke="#000" stroke-width="0.8" />
<text x="65" y="507.5" font-size="12.7" text-anchor="middle">siNTC</text>
<text x="118.8" y="507.5" font-size="12.7" text-anchor="middle">siFOXA2</text>
<path d="M69.6 342.6V339.3H111.7V342.6" fill="none" stroke="#8c8c8c" stroke-width="0.8"/>
<text x="90.65" y="337.1" font-size="8.2" text-anchor="middle" fill="#222" stroke="#222">p &lt; 2.22e−16</text>
<text x="21.9" y="407.5" font-size="12.7" text-anchor="middle" transform="rotate(-90 21.9 407.5)">Log<tspan font-size="8.5" dy="2.8">2</tspan><tspan dy="-2.8">(CPM)_scale</tspan></text>
<text x="220.6" y="306.4" font-size="12.7" text-anchor="middle">JUN-activated genes</text>
<text x="221.2" y="321.7" font-size="12.7" text-anchor="middle">(H660)</text>
<rect x="184.6" y="382.4" width="32.8" height="81.1" fill="#F8766D" stroke="none" stroke-width="1" fill-opacity="0.5"/>
<path d="M204.15 383.58h1.3v1.3h-1.3zM206.94 450.76h1.3v1.3h-1.3zM196.42 377.08h1.3v1.3h-1.3zM196.33 373.88h1.3v1.3h-1.3zM194.71 460.41h1.3v1.3h-1.3zM196.14 421.25h1.3v1.3h-1.3zM199.84 388.26h1.3v1.3h-1.3zM202.84 467.75h1.3v1.3h-1.3zM197.19 355.44h1.3v1.3h-1.3zM207.31 373.84h1.3v1.3h-1.3zM206.2 466.4h1.3v1.3h-1.3zM205.16 467.21h1.3v1.3h-1.3zM205.99 474.65h1.3v1.3h-1.3zM206.95 383.28h1.3v1.3h-1.3zM205.34 413.47h1.3v1.3h-1.3zM199.8 427.59h1.3v1.3h-1.3zM199.81 397.38h1.3v1.3h-1.3zM194.5 390.77h1.3v1.3h-1.3zM206.07 466.88h1.3v1.3h-1.3zM204.25 479.34h1.3v1.3h-1.3zM205.22 425.68h1.3v1.3h-1.3zM204.01 372.86h1.3v1.3h-1.3zM195.5 407.77h1.3v1.3h-1.3zM201.39 378.48h1.3v1.3h-1.3zM200.31 382.83h1.3v1.3h-1.3zM199.23 435.58h1.3v1.3h-1.3zM200.84 372.52h1.3v1.3h-1.3zM196.51 381.19h1.3v1.3h-1.3zM198.73 377.8h1.3v1.3h-1.3zM203.57 367.76h1.3v1.3h-1.3zM199.12 475.19h1.3v1.3h-1.3zM208.36 457.49h1.3v1.3h-1.3zM194.91 361.78h1.3v1.3h-1.3zM206.75 466.22h1.3v1.3h-1.3zM195.22 442.07h1.3v1.3h-1.3zM207.26 403.85h1.3v1.3h-1.3zM206.15 470.11h1.3v1.3h-1.3zM207.01 378.51h1.3v1.3h-1.3zM204.68 398.77h1.3v1.3h-1.3zM209.01 373.04h1.3v1.3h-1.3zM204.79 435.2h1.3v1.3h-1.3zM202.99 379.23h1.3v1.3h-1.3zM202.55 430.82h1.3v1.3h-1.3zM204.87 396.75h1.3v1.3h-1.3zM197.52 394.38h1.3v1.3h-1.3zM204.13 375.32h1.3v1.3h-1.3zM196.33 370.99h1.3v1.3h-1.3zM203.44 367.31h1.3v1.3h-1.3zM201.74 426.05h1.3v1.3h-1.3zM199.97 360.85h1.3v1.3h-1.3zM194.08 394.61h1.3v1.3h-1.3zM209.46 348.66h1.3v1.3h-1.3zM197.63 371.76h1.3v1.3h-1.3zM202.65 384.89h1.3v1.3h-1.3zM200.49 368.11h1.3v1.3h-1.3zM206.69 397.71h1.3v1.3h-1.3zM198.19 350.28h1.3v1.3h-1.3zM208.99 414.75h1.3v1.3h-1.3zM200.56 418.42h1.3v1.3h-1.3zM197.54 447.95h1.3v1.3h-1.3zM201.02 359.34h1.3v1.3h-1.3zM205.05 471.28h1.3v1.3h-1.3zM204.13 383.49h1.3v1.3h-1.3zM196.9 468.31h1.3v1.3h-1.3zM198.54 432.2h1.3v1.3h-1.3zM197.39 381.92h1.3v1.3h-1.3zM198.46 378.58h1.3v1.3h-1.3zM199.26 360.7h1.3v1.3h-1.3zM205.39 368.88h1.3v1.3h-1.3zM192.57 434.48h1.3v1.3h-1.3zM195.74 464.66h1.3v1.3h-1.3zM201.93 412.67h1.3v1.3h-1.3zM197.42 393.27h1.3v1.3h-1.3zM194.83 406.67h1.3v1.3h-1.3zM194.4 469.01h1.3v1.3h-1.3zM196.21 467.07h1.3v1.3h-1.3zM199.1 389.4h1.3v1.3h-1.3zM194.68 359.69h1.3v1.3h-1.3zM200.01 396.97h1.3v1.3h-1.3zM209.33 469.64h1.3v1.3h-1.3zM201.6 361.86h1.3v1.3h-1.3zM206.16 372.41h1.3v1.3h-1.3zM207.68 391.94h1.3v1.3h-1.3zM194.64 423.97h1.3v1.3h-1.3zM196.72 349.82h1.3v1.3h-1.3zM195.05 469.23h1.3v1.3h-1.3zM198.82 412.43h1.3v1.3h-1.3zM206.13 394.86h1.3v1.3h-1.3zM204.71 379.4h1.3v1.3h-1.3zM208.4 447.38h1.3v1.3h-1.3zM208.15 419.04h1.3v1.3h-1.3zM202.25 407.4h1.3v1.3h-1.3zM206.77 438.5h1.3v1.3h-1.3zM194.46 470.66h1.3v1.3h-1.3zM201.58 373.05h1.3v1.3h-1.3zM201.57 466.53h1.3v1.3h-1.3zM208.85 388.9h1.3v1.3h-1.3zM193.98 388.68h1.3v1.3h-1.3zM193.02 363.67h1.3v1.3h-1.3zM194.32 459.04h1.3v1.3h-1.3zM207.23 456.96h1.3v1.3h-1.3zM206.25 484.17h1.3v1.3h-1.3zM203.08 405.27h1.3v1.3h-1.3zM204.67 467.54h1.3v1.3h-1.3zM205.45 387.7h1.3v1.3h-1.3zM197.74 370.75h1.3v1.3h-1.3zM200.51 482.96h1.3v1.3h-1.3zM205.84 384.73h1.3v1.3h-1.3zM192.56 408.66h1.3v1.3h-1.3zM196.9 358.81h1.3v1.3h-1.3zM208.43 393.15h1.3v1.3h-1.3zM206.95 382.18h1.3v1.3h-1.3zM199.57 468.52h1.3v1.3h-1.3zM205.45 481.96h1.3v1.3h-1.3zM196.94 413.11h1.3v1.3h-1.3z" fill="#000" fill-opacity="0.85"/>
<line x1="201" y1="346.9" x2="201" y2="382.4" stroke="#555" stroke-width="0.8" />
<line x1="201" y1="463.5" x2="201" y2="484.3" stroke="#555" stroke-width="0.8" />
<rect x="184.6" y="382.4" width="32.8" height="81.1" fill="none" stroke="#3a3a3a" stroke-width="0.6" />
<line x1="184.6" y1="415.2" x2="217.4" y2="415.2" stroke="#222" stroke-width="1.3" />
<rect x="228.4" y="419.2" width="33.2" height="51.5" fill="#00BFC4" stroke="none" stroke-width="1" fill-opacity="0.5"/>
<path d="M248.44 398.86h1.3v1.3h-1.3zM252.49 457.81h1.3v1.3h-1.3zM240.85 420.77h1.3v1.3h-1.3zM247.69 468.6h1.3v1.3h-1.3zM248.13 423.14h1.3v1.3h-1.3zM249.72 430.11h1.3v1.3h-1.3zM240.3 400.5h1.3v1.3h-1.3zM242.59 475.9h1.3v1.3h-1.3zM250.17 419.97h1.3v1.3h-1.3zM239.04 455.13h1.3v1.3h-1.3zM247.79 444.56h1.3v1.3h-1.3zM247.58 407.11h1.3v1.3h-1.3zM242.23 401.16h1.3v1.3h-1.3zM239.98 395.5h1.3v1.3h-1.3zM243.36 481.11h1.3v1.3h-1.3zM243.96 483.06h1.3v1.3h-1.3zM251.33 451.95h1.3v1.3h-1.3zM238.4 462.39h1.3v1.3h-1.3zM247.27 449.52h1.3v1.3h-1.3zM238.11 409.42h1.3v1.3h-1.3zM245.23 474.98h1.3v1.3h-1.3zM244.19 411.22h1.3v1.3h-1.3zM250.07 414.68h1.3v1.3h-1.3zM238.24 437.86h1.3v1.3h-1.3zM238.02 473.04h1.3v1.3h-1.3zM236.98 421.48h1.3v1.3h-1.3zM238.44 469.43h1.3v1.3h-1.3zM238.08 441.19h1.3v1.3h-1.3zM248.15 436.34h1.3v1.3h-1.3zM244.24 442.39h1.3v1.3h-1.3zM243.93 436.67h1.3v1.3h-1.3zM238.11 450.36h1.3v1.3h-1.3zM240.52 435.9h1.3v1.3h-1.3zM252.46 474.66h1.3v1.3h-1.3zM238.94 392.32h1.3v1.3h-1.3zM246.21 464.58h1.3v1.3h-1.3zM248.48 375.03h1.3v1.3h-1.3zM243.69 478.1h1.3v1.3h-1.3zM246.18 426.45h1.3v1.3h-1.3zM240.98 477.68h1.3v1.3h-1.3zM239.71 423.09h1.3v1.3h-1.3zM244.48 454.7h1.3v1.3h-1.3zM243.09 419.65h1.3v1.3h-1.3zM241.81 380.75h1.3v1.3h-1.3zM246.46 481.54h1.3v1.3h-1.3zM252.41 421.62h1.3v1.3h-1.3zM240.78 427.26h1.3v1.3h-1.3zM238.99 380.88h1.3v1.3h-1.3zM240.41 411.96h1.3v1.3h-1.3zM241 474.92h1.3v1.3h-1.3zM246.77 419h1.3v1.3h-1.3zM241.45 476.43h1.3v1.3h-1.3zM242.77 471.1h1.3v1.3h-1.3zM246.63 445.84h1.3v1.3h-1.3zM249.37 477.96h1.3v1.3h-1.3zM250.8 438.87h1.3v1.3h-1.3zM243.03 427.87h1.3v1.3h-1.3zM245.78 479.52h1.3v1.3h-1.3zM241.85 471.5h1.3v1.3h-1.3zM246.92 476.37h1.3v1.3h-1.3zM252.37 418.82h1.3v1.3h-1.3zM242.27 435.49h1.3v1.3h-1.3zM238.26 420.15h1.3v1.3h-1.3zM248.27 412.19h1.3v1.3h-1.3zM240.9 403.66h1.3v1.3h-1.3zM245.76 433.88h1.3v1.3h-1.3zM249.85 428.91h1.3v1.3h-1.3zM242.77 419.7h1.3v1.3h-1.3zM238.69 432.22h1.3v1.3h-1.3zM238.99 415.27h1.3v1.3h-1.3zM238.99 467.46h1.3v1.3h-1.3zM240.27 459.92h1.3v1.3h-1.3zM247.66 457.14h1.3v1.3h-1.3zM252.36 426.9h1.3v1.3h-1.3zM245.97 458.43h1.3v1.3h-1.3zM243.41 384.96h1.3v1.3h-1.3zM244.49 420.4h1.3v1.3h-1.3zM251.19 477.17h1.3v1.3h-1.3zM248.06 390.66h1.3v1.3h-1.3zM245.72 477.24h1.3v1.3h-1.3zM251.24 397.42h1.3v1.3h-1.3zM253.17 432.32h1.3v1.3h-1.3zM250.59 474.97h1.3v1.3h-1.3zM237.66 476.98h1.3v1.3h-1.3zM241.69 472.2h1.3v1.3h-1.3zM242.95 402.88h1.3v1.3h-1.3zM236.58 449.5h1.3v1.3h-1.3zM249.83 434.05h1.3v1.3h-1.3zM245.48 437.45h1.3v1.3h-1.3zM253.01 422.64h1.3v1.3h-1.3zM248.08 418.94h1.3v1.3h-1.3zM236.51 456.99h1.3v1.3h-1.3zM240.5 484.54h1.3v1.3h-1.3zM252.28 482.67h1.3v1.3h-1.3zM251.04 475.88h1.3v1.3h-1.3zM244.07 430.19h1.3v1.3h-1.3zM252.41 426.32h1.3v1.3h-1.3zM238.83 378.74h1.3v1.3h-1.3zM250.21 479.2h1.3v1.3h-1.3zM252.95 464.91h1.3v1.3h-1.3zM250.7 440.91h1.3v1.3h-1.3zM251.81 433.55h1.3v1.3h-1.3zM243.95 393.49h1.3v1.3h-1.3zM250 447.94h1.3v1.3h-1.3zM248.07 432.03h1.3v1.3h-1.3zM243.62 480.21h1.3v1.3h-1.3zM237.01 412.03h1.3v1.3h-1.3zM244.59 474.53h1.3v1.3h-1.3zM245.33 429.47h1.3v1.3h-1.3zM240.27 400.8h1.3v1.3h-1.3zM240.84 417.18h1.3v1.3h-1.3zM240.69 474.46h1.3v1.3h-1.3zM251.23 396.53h1.3v1.3h-1.3zM236.98 445.47h1.3v1.3h-1.3zM248.17 460.85h1.3v1.3h-1.3zM249.67 457.49h1.3v1.3h-1.3zM240.32 432.14h1.3v1.3h-1.3zM247.13 469.95h1.3v1.3h-1.3zM239.62 464.61h1.3v1.3h-1.3zM248.25 428.33h1.3v1.3h-1.3zM246.74 429.21h1.3v1.3h-1.3zM249.33 435.79h1.3v1.3h-1.3zM244.96 426.52h1.3v1.3h-1.3zM241.78 473.39h1.3v1.3h-1.3zM247.32 408.65h1.3v1.3h-1.3z" fill="#000" fill-opacity="0.85"/>
<line x1="245" y1="358.3" x2="245" y2="419.2" stroke="#555" stroke-width="0.8" />
<line x1="245" y1="470.7" x2="245" y2="485.4" stroke="#555" stroke-width="0.8" />
<rect x="228.4" y="419.2" width="33.2" height="51.5" fill="none" stroke="#3a3a3a" stroke-width="0.6" />
<line x1="228.4" y1="437.8" x2="261.6" y2="437.8" stroke="#222" stroke-width="1.3" />
<line x1="175.2" y1="332.7" x2="175.2" y2="492" stroke="#000" stroke-width="1.1" />
<line x1="175.2" y1="492" x2="270.4" y2="492" stroke="#000" stroke-width="1.1" />
<line x1="172.5" y1="362.3" x2="175.2" y2="362.3" stroke="#000" stroke-width="0.8" />
<text x="169.6" y="367.3" font-size="14" text-anchor="end">2</text>
<line x1="172.5" y1="402.1" x2="175.2" y2="402.1" stroke="#000" stroke-width="0.8" />
<text x="169.6" y="407.1" font-size="14" text-anchor="end">1</text>
<line x1="172.5" y1="441.5" x2="175.2" y2="441.5" stroke="#000" stroke-width="0.8" />
<text x="169.6" y="446.5" font-size="14" text-anchor="end">0</text>
<line x1="172.5" y1="481" x2="175.2" y2="481" stroke="#000" stroke-width="0.8" />
<text x="169.6" y="486" font-size="14" text-anchor="end">-1</text>
<line x1="201" y1="492" x2="201" y2="494.7" stroke="#000" stroke-width="0.8" />
<line x1="245" y1="492" x2="245" y2="494.7" stroke="#000" stroke-width="0.8" />
<text x="193.7" y="507.3" font-size="12.7" text-anchor="middle">siNTC</text>
<text x="247.7" y="507.3" font-size="12.7" text-anchor="middle">siFOXA2</text>
<path d="M201 343.6V340.4H244.8V343.6" fill="none" stroke="#8c8c8c" stroke-width="0.8"/>
<text x="222.9" y="338.2" font-size="8.2" text-anchor="middle" fill="#222" stroke="#222">5e−05</text>
<text x="295.7" y="299.2" font-size="18" font-weight="bold">f</text>
<text x="376.5" y="308" font-size="12.7" text-anchor="middle">JUN-activated genes</text>
<text x="376.3" y="324" font-size="12.7" text-anchor="middle">(PC-3)</text>
<rect x="344.7" y="393.8" width="31.8" height="45.6" fill="#F8766D" stroke="none" stroke-width="1" fill-opacity="0.5"/>
<path d="M352.3 469.14h0.85v0.85h-0.85zM354.79 437.96h0.85v0.85h-0.85zM352.39 475.78h0.85v0.85h-0.85zM363.68 453.63h0.85v0.85h-0.85zM369.1 451.2h0.85v0.85h-0.85zM357.85 392.65h0.85v0.85h-0.85zM356.87 435.1h0.85v0.85h-0.85zM355.99 394.86h0.85v0.85h-0.85zM366.97 451.25h0.85v0.85h-0.85zM355.9 444.63h0.85v0.85h-0.85zM360.79 458.61h0.85v0.85h-0.85zM359.84 391.72h0.85v0.85h-0.85zM353.44 407.32h0.85v0.85h-0.85zM358.22 420.35h0.85v0.85h-0.85zM367.91 420.86h0.85v0.85h-0.85zM358.99 428.66h0.85v0.85h-0.85zM369.02 451.88h0.85v0.85h-0.85zM368.17 412.92h0.85v0.85h-0.85zM354.49 358.95h0.85v0.85h-0.85zM368.05 385.1h0.85v0.85h-0.85zM364.32 433.28h0.85v0.85h-0.85zM360.51 396.71h0.85v0.85h-0.85zM353.8 454.46h0.85v0.85h-0.85zM352.91 378.85h0.85v0.85h-0.85zM366.39 411.21h0.85v0.85h-0.85zM358.92 419.35h0.85v0.85h-0.85zM355.15 413.91h0.85v0.85h-0.85zM358.11 464.31h0.85v0.85h-0.85zM357.39 392.15h0.85v0.85h-0.85zM357.51 447.64h0.85v0.85h-0.85zM357.82 456.41h0.85v0.85h-0.85zM353.36 409.05h0.85v0.85h-0.85zM365.63 456.71h0.85v0.85h-0.85zM354.06 411.67h0.85v0.85h-0.85zM358.49 413.1h0.85v0.85h-0.85zM367.88 449.29h0.85v0.85h-0.85zM356.98 438.49h0.85v0.85h-0.85zM367.3 365.46h0.85v0.85h-0.85zM354.79 463.28h0.85v0.85h-0.85zM360.28 413.69h0.85v0.85h-0.85zM352.83 472.3h0.85v0.85h-0.85zM366.44 371.3h0.85v0.85h-0.85zM359.96 420.85h0.85v0.85h-0.85zM362.19 442.45h0.85v0.85h-0.85zM356.45 433.48h0.85v0.85h-0.85zM352.25 375.35h0.85v0.85h-0.85zM363.12 400.42h0.85v0.85h-0.85zM358 404.13h0.85v0.85h-0.85zM364.09 425.89h0.85v0.85h-0.85zM357.4 423.51h0.85v0.85h-0.85zM365.71 447.28h0.85v0.85h-0.85zM367.27 455.17h0.85v0.85h-0.85zM363.48 357.89h0.85v0.85h-0.85zM358.7 401.61h0.85v0.85h-0.85zM354.55 415.56h0.85v0.85h-0.85zM368.87 393.74h0.85v0.85h-0.85zM367.62 400.25h0.85v0.85h-0.85zM357.45 432.66h0.85v0.85h-0.85zM362.38 399.27h0.85v0.85h-0.85zM357.88 434.47h0.85v0.85h-0.85zM355.03 370.54h0.85v0.85h-0.85zM364.49 451.56h0.85v0.85h-0.85zM366.3 377.96h0.85v0.85h-0.85zM357.79 421.5h0.85v0.85h-0.85zM354.29 455.22h0.85v0.85h-0.85zM357.94 376.83h0.85v0.85h-0.85zM361.41 438.14h0.85v0.85h-0.85zM367.51 412.44h0.85v0.85h-0.85zM365.5 405.26h0.85v0.85h-0.85zM365.41 349.56h0.85v0.85h-0.85zM363.25 383.24h0.85v0.85h-0.85zM363.25 449.13h0.85v0.85h-0.85zM361.45 421.8h0.85v0.85h-0.85zM358.37 439.56h0.85v0.85h-0.85zM361.57 391.96h0.85v0.85h-0.85zM354.08 415.79h0.85v0.85h-0.85zM360.04 416.79h0.85v0.85h-0.85zM364.13 383.34h0.85v0.85h-0.85zM357.86 442.53h0.85v0.85h-0.85zM368.88 452.08h0.85v0.85h-0.85zM359.03 430.37h0.85v0.85h-0.85zM354.31 395.58h0.85v0.85h-0.85zM369.08 395.63h0.85v0.85h-0.85zM367.68 370.93h0.85v0.85h-0.85zM365.43 433.97h0.85v0.85h-0.85zM363.08 376.95h0.85v0.85h-0.85zM363.61 388.79h0.85v0.85h-0.85zM364.37 444.26h0.85v0.85h-0.85zM367.14 417.33h0.85v0.85h-0.85zM354.77 391.49h0.85v0.85h-0.85zM353.05 452.09h0.85v0.85h-0.85zM359.24 407.17h0.85v0.85h-0.85zM358.43 453.38h0.85v0.85h-0.85zM360.62 420.83h0.85v0.85h-0.85zM360.15 412.01h0.85v0.85h-0.85zM362.24 411.17h0.85v0.85h-0.85zM359.29 408.32h0.85v0.85h-0.85zM368.7 458.61h0.85v0.85h-0.85zM368.2 393.47h0.85v0.85h-0.85zM357.75 360.41h0.85v0.85h-0.85zM354.97 455.78h0.85v0.85h-0.85zM369 431.07h0.85v0.85h-0.85zM359.91 425.21h0.85v0.85h-0.85zM359.77 362.33h0.85v0.85h-0.85zM365.51 410.83h0.85v0.85h-0.85zM365.8 404.97h0.85v0.85h-0.85zM362.9 406.15h0.85v0.85h-0.85zM354.92 440.36h0.85v0.85h-0.85zM359.75 465.83h0.85v0.85h-0.85zM368.63 412.07h0.85v0.85h-0.85zM360.94 421.01h0.85v0.85h-0.85zM355.84 389.73h0.85v0.85h-0.85zM360.7 440.56h0.85v0.85h-0.85zM363.92 430.01h0.85v0.85h-0.85zM357.6 432.45h0.85v0.85h-0.85zM359.75 451.81h0.85v0.85h-0.85zM366.84 385.52h0.85v0.85h-0.85zM354.15 456.04h0.85v0.85h-0.85zM363.8 454.25h0.85v0.85h-0.85zM361.88 395.39h0.85v0.85h-0.85zM354.68 458.3h0.85v0.85h-0.85zM356.19 430.15h0.85v0.85h-0.85zM368.26 382.55h0.85v0.85h-0.85zM363.24 482.74h0.85v0.85h-0.85zM358.82 444.05h0.85v0.85h-0.85zM362.56 408h0.85v0.85h-0.85zM364.01 446.42h0.85v0.85h-0.85zM362.77 411.29h0.85v0.85h-0.85zM365.87 405.95h0.85v0.85h-0.85zM365.25 452.48h0.85v0.85h-0.85zM358.58 399.5h0.85v0.85h-0.85zM358.53 473.29h0.85v0.85h-0.85zM353.74 430.63h0.85v0.85h-0.85zM355.94 380.58h0.85v0.85h-0.85zM355.97 431.47h0.85v0.85h-0.85zM353.34 429.83h0.85v0.85h-0.85zM364.04 433.38h0.85v0.85h-0.85zM356.16 394.33h0.85v0.85h-0.85zM360.5 393.88h0.85v0.85h-0.85zM356.09 386.53h0.85v0.85h-0.85zM368.02 445.38h0.85v0.85h-0.85zM360.93 383.84h0.85v0.85h-0.85zM368.24 430.03h0.85v0.85h-0.85zM361.13 419.83h0.85v0.85h-0.85zM365.51 441.78h0.85v0.85h-0.85zM362.68 435.51h0.85v0.85h-0.85zM352.82 446.14h0.85v0.85h-0.85zM355.88 441.32h0.85v0.85h-0.85zM358.79 402.04h0.85v0.85h-0.85zM362.13 415.75h0.85v0.85h-0.85zM357.48 422.62h0.85v0.85h-0.85zM363.25 402.64h0.85v0.85h-0.85zM358.58 459.55h0.85v0.85h-0.85zM366.61 352.3h0.85v0.85h-0.85zM366.39 454.48h0.85v0.85h-0.85zM359.19 427.68h0.85v0.85h-0.85zM367.75 372.33h0.85v0.85h-0.85zM354.18 408.64h0.85v0.85h-0.85zM352.85 426.54h0.85v0.85h-0.85zM362.36 404.86h0.85v0.85h-0.85zM358.21 445.2h0.85v0.85h-0.85zM357.94 387.76h0.85v0.85h-0.85zM353.64 447.14h0.85v0.85h-0.85zM358.01 381.4h0.85v0.85h-0.85zM367.12 465.41h0.85v0.85h-0.85zM352.92 469.69h0.85v0.85h-0.85zM354.57 413.82h0.85v0.85h-0.85zM365.58 422.48h0.85v0.85h-0.85zM363.83 412.26h0.85v0.85h-0.85zM360.72 432.33h0.85v0.85h-0.85zM356.17 404.93h0.85v0.85h-0.85zM368.78 436.36h0.85v0.85h-0.85zM367.81 469.93h0.85v0.85h-0.85zM363.25 450.16h0.85v0.85h-0.85zM354.15 413.34h0.85v0.85h-0.85zM355.22 444.75h0.85v0.85h-0.85zM366.68 459.33h0.85v0.85h-0.85zM367.51 396.45h0.85v0.85h-0.85zM365.9 440.07h0.85v0.85h-0.85zM356.72 377.98h0.85v0.85h-0.85zM368.1 383.19h0.85v0.85h-0.85zM359.65 393.12h0.85v0.85h-0.85zM358.85 439.65h0.85v0.85h-0.85zM362.72 427.26h0.85v0.85h-0.85zM367.86 404.11h0.85v0.85h-0.85zM364.68 431.04h0.85v0.85h-0.85zM362.64 437.51h0.85v0.85h-0.85zM367.65 384.79h0.85v0.85h-0.85zM353.84 462.73h0.85v0.85h-0.85zM355.28 403.18h0.85v0.85h-0.85zM361.95 380.62h0.85v0.85h-0.85zM354.37 408.39h0.85v0.85h-0.85zM363.93 412.26h0.85v0.85h-0.85zM363.08 381.05h0.85v0.85h-0.85zM366.25 430.06h0.85v0.85h-0.85zM367.07 485.55h0.85v0.85h-0.85zM353.51 403.67h0.85v0.85h-0.85zM354.98 400.44h0.85v0.85h-0.85zM358.32 450.71h0.85v0.85h-0.85zM364.45 419.93h0.85v0.85h-0.85zM369.07 410.56h0.85v0.85h-0.85zM362.24 430.04h0.85v0.85h-0.85zM356.18 384.41h0.85v0.85h-0.85zM359.57 433.08h0.85v0.85h-0.85zM367.05 421.88h0.85v0.85h-0.85zM366.34 431.89h0.85v0.85h-0.85zM353.25 403.1h0.85v0.85h-0.85zM367.49 395.96h0.85v0.85h-0.85zM354.19 392.69h0.85v0.85h-0.85zM369.1 373.31h0.85v0.85h-0.85zM353.4 389.25h0.85v0.85h-0.85zM352.84 402.44h0.85v0.85h-0.85zM363.8 437.37h0.85v0.85h-0.85zM364.43 407.55h0.85v0.85h-0.85zM365.64 358.72h0.85v0.85h-0.85zM364.89 428.31h0.85v0.85h-0.85zM368.29 381.78h0.85v0.85h-0.85zM360.26 475.24h0.85v0.85h-0.85zM360.89 399.36h0.85v0.85h-0.85zM359.95 435.15h0.85v0.85h-0.85zM368.3 418.18h0.85v0.85h-0.85zM358.69 435.15h0.85v0.85h-0.85zM365.49 456.94h0.85v0.85h-0.85zM360.49 359.61h0.85v0.85h-0.85zM357.29 397.89h0.85v0.85h-0.85zM366.31 403.34h0.85v0.85h-0.85zM356.28 425.03h0.85v0.85h-0.85zM354.65 372.89h0.85v0.85h-0.85zM361.31 403.76h0.85v0.85h-0.85zM359.35 413.54h0.85v0.85h-0.85zM357.36 416.59h0.85v0.85h-0.85zM355.83 465.3h0.85v0.85h-0.85zM363.3 403.27h0.85v0.85h-0.85zM358.97 449.11h0.85v0.85h-0.85zM356.42 427.52h0.85v0.85h-0.85zM368.57 354.72h0.85v0.85h-0.85zM365.06 372.98h0.85v0.85h-0.85zM357.18 362.66h0.85v0.85h-0.85zM367.39 415.27h0.85v0.85h-0.85zM357.19 445.31h0.85v0.85h-0.85zM364.91 352.28h0.85v0.85h-0.85zM367.96 438.97h0.85v0.85h-0.85zM363.47 380.74h0.85v0.85h-0.85zM367.02 425.77h0.85v0.85h-0.85zM365.15 450.13h0.85v0.85h-0.85zM353.49 450.38h0.85v0.85h-0.85zM362.36 476.39h0.85v0.85h-0.85zM354.66 455.41h0.85v0.85h-0.85zM367.18 415.39h0.85v0.85h-0.85zM362.5 469.31h0.85v0.85h-0.85zM352.49 455.18h0.85v0.85h-0.85zM356.44 377.54h0.85v0.85h-0.85zM364.23 453.06h0.85v0.85h-0.85zM367.66 407.83h0.85v0.85h-0.85zM354.57 415.27h0.85v0.85h-0.85zM364.66 462.65h0.85v0.85h-0.85zM365.37 482.31h0.85v0.85h-0.85zM367.31 414.13h0.85v0.85h-0.85zM352.23 380.66h0.85v0.85h-0.85zM368.27 394.91h0.85v0.85h-0.85zM364.98 375.7h0.85v0.85h-0.85zM354.34 417.65h0.85v0.85h-0.85zM364.32 389.18h0.85v0.85h-0.85zM367.05 404.85h0.85v0.85h-0.85zM361.88 368.16h0.85v0.85h-0.85zM356.15 450.56h0.85v0.85h-0.85zM361.95 395.97h0.85v0.85h-0.85zM363.1 385.28h0.85v0.85h-0.85zM357.53 458.36h0.85v0.85h-0.85zM367.04 384.87h0.85v0.85h-0.85zM366.58 368.98h0.85v0.85h-0.85zM365.68 407.38h0.85v0.85h-0.85zM368.4 403.81h0.85v0.85h-0.85zM362.24 429.75h0.85v0.85h-0.85zM361.97 374.06h0.85v0.85h-0.85zM364.18 392.29h0.85v0.85h-0.85zM355.99 399.24h0.85v0.85h-0.85zM356.43 381.57h0.85v0.85h-0.85zM356.85 379.82h0.85v0.85h-0.85zM366.67 417.48h0.85v0.85h-0.85zM358.25 442.31h0.85v0.85h-0.85zM358.07 458.61h0.85v0.85h-0.85zM361.37 407.87h0.85v0.85h-0.85zM360.47 423.87h0.85v0.85h-0.85zM355.45 430.46h0.85v0.85h-0.85zM357.81 389.59h0.85v0.85h-0.85zM356.4 408.88h0.85v0.85h-0.85zM353.35 420.71h0.85v0.85h-0.85zM359.89 407.61h0.85v0.85h-0.85zM354.53 424.41h0.85v0.85h-0.85zM359.96 429.69h0.85v0.85h-0.85zM354.45 458.65h0.85v0.85h-0.85zM365.41 405.81h0.85v0.85h-0.85zM365.87 460.67h0.85v0.85h-0.85zM359.55 454.78h0.85v0.85h-0.85zM356.49 391.09h0.85v0.85h-0.85zM363.37 427.64h0.85v0.85h-0.85zM355.35 407.69h0.85v0.85h-0.85zM357.63 453.13h0.85v0.85h-0.85zM366.26 392.69h0.85v0.85h-0.85zM363.51 442.29h0.85v0.85h-0.85zM362.64 444.39h0.85v0.85h-0.85zM358.75 426.2h0.85v0.85h-0.85zM367.92 385.34h0.85v0.85h-0.85zM365.23 377.82h0.85v0.85h-0.85zM364.84 399.18h0.85v0.85h-0.85zM365.42 455.72h0.85v0.85h-0.85zM366.94 360.34h0.85v0.85h-0.85zM356.62 391.72h0.85v0.85h-0.85zM366.42 475.25h0.85v0.85h-0.85zM366.56 383.73h0.85v0.85h-0.85zM362.75 394.53h0.85v0.85h-0.85zM353.3 446.61h0.85v0.85h-0.85zM354.26 386.41h0.85v0.85h-0.85zM367.49 381.81h0.85v0.85h-0.85zM357.49 362.51h0.85v0.85h-0.85zM352.46 450.23h0.85v0.85h-0.85zM366.26 410.44h0.85v0.85h-0.85zM366.09 457.51h0.85v0.85h-0.85zM352.78 368.95h0.85v0.85h-0.85zM359.92 438.5h0.85v0.85h-0.85zM363.65 412.87h0.85v0.85h-0.85zM356.82 445.41h0.85v0.85h-0.85zM357.18 467.49h0.85v0.85h-0.85zM353.42 452.74h0.85v0.85h-0.85zM362.3 364.3h0.85v0.85h-0.85zM362.91 439.26h0.85v0.85h-0.85zM367.93 372.19h0.85v0.85h-0.85zM367.46 458.44h0.85v0.85h-0.85zM352.21 434.81h0.85v0.85h-0.85zM355.28 409.15h0.85v0.85h-0.85zM360.23 391.46h0.85v0.85h-0.85zM363.04 450.9h0.85v0.85h-0.85zM358.09 472.94h0.85v0.85h-0.85zM365.7 376.16h0.85v0.85h-0.85zM360.69 453.84h0.85v0.85h-0.85zM362.98 391.86h0.85v0.85h-0.85zM358.9 394.17h0.85v0.85h-0.85zM364.4 422.99h0.85v0.85h-0.85zM353.79 438.17h0.85v0.85h-0.85zM360.79 405.72h0.85v0.85h-0.85zM353.24 398.61h0.85v0.85h-0.85zM359.53 394.66h0.85v0.85h-0.85zM368.76 427.29h0.85v0.85h-0.85zM361.75 388.64h0.85v0.85h-0.85zM354.34 389.29h0.85v0.85h-0.85zM359.31 396.38h0.85v0.85h-0.85zM357.4 450h0.85v0.85h-0.85zM365.39 464.25h0.85v0.85h-0.85zM367.02 405.78h0.85v0.85h-0.85zM352.38 395.63h0.85v0.85h-0.85zM362.67 410.38h0.85v0.85h-0.85zM352.36 432.89h0.85v0.85h-0.85zM363.74 356.88h0.85v0.85h-0.85zM360.44 458.45h0.85v0.85h-0.85zM355.08 441.28h0.85v0.85h-0.85zM360.01 381.89h0.85v0.85h-0.85zM354.07 468.02h0.85v0.85h-0.85zM363.78 417.03h0.85v0.85h-0.85zM365.83 360.17h0.85v0.85h-0.85zM366.21 387.54h0.85v0.85h-0.85zM352.98 424.02h0.85v0.85h-0.85zM359.32 389.44h0.85v0.85h-0.85zM364.64 369.73h0.85v0.85h-0.85zM354.32 407.66h0.85v0.85h-0.85zM363.7 390.08h0.85v0.85h-0.85zM361.03 408.3h0.85v0.85h-0.85zM356.8 387.9h0.85v0.85h-0.85zM359.65 392.14h0.85v0.85h-0.85zM352.56 381.38h0.85v0.85h-0.85zM368.59 465.46h0.85v0.85h-0.85zM367.28 364.5h0.85v0.85h-0.85zM361.2 397.36h0.85v0.85h-0.85zM353.45 415.18h0.85v0.85h-0.85zM359.34 401.05h0.85v0.85h-0.85zM361.34 418.75h0.85v0.85h-0.85zM360.88 402.87h0.85v0.85h-0.85zM364.03 379.12h0.85v0.85h-0.85zM355.28 422.93h0.85v0.85h-0.85zM360.66 410.25h0.85v0.85h-0.85zM355.99 413.23h0.85v0.85h-0.85zM361.59 412.6h0.85v0.85h-0.85zM366.77 475.83h0.85v0.85h-0.85zM358.17 441.12h0.85v0.85h-0.85zM357.63 415.63h0.85v0.85h-0.85zM365.51 423.61h0.85v0.85h-0.85zM368.21 443.11h0.85v0.85h-0.85zM365.41 441h0.85v0.85h-0.85zM355.97 410.54h0.85v0.85h-0.85zM360.98 403.9h0.85v0.85h-0.85zM360.57 411.96h0.85v0.85h-0.85zM368.77 355.16h0.85v0.85h-0.85zM357.69 404.16h0.85v0.85h-0.85zM358.74 449.99h0.85v0.85h-0.85zM353.86 442.59h0.85v0.85h-0.85zM352.87 416.97h0.85v0.85h-0.85zM365.59 414.2h0.85v0.85h-0.85zM363.1 395.15h0.85v0.85h-0.85zM359.06 438.15h0.85v0.85h-0.85zM364.18 386.05h0.85v0.85h-0.85zM368.06 452.67h0.85v0.85h-0.85zM366.98 474.61h0.85v0.85h-0.85zM364.91 402.55h0.85v0.85h-0.85zM359.72 444.05h0.85v0.85h-0.85zM354.29 455.3h0.85v0.85h-0.85zM364.03 438.92h0.85v0.85h-0.85zM354.28 391.55h0.85v0.85h-0.85zM353.58 432.19h0.85v0.85h-0.85zM367.58 398.31h0.85v0.85h-0.85zM358.71 438.15h0.85v0.85h-0.85zM356.81 409.24h0.85v0.85h-0.85zM361.62 438.74h0.85v0.85h-0.85zM356.05 426.41h0.85v0.85h-0.85zM356.52 458.94h0.85v0.85h-0.85zM368.84 433.71h0.85v0.85h-0.85zM352.92 454.34h0.85v0.85h-0.85zM364.28 418.04h0.85v0.85h-0.85zM356.66 409.81h0.85v0.85h-0.85zM358.18 390.87h0.85v0.85h-0.85zM361.28 429.54h0.85v0.85h-0.85zM356.73 449.71h0.85v0.85h-0.85zM368.62 430.5h0.85v0.85h-0.85zM358.63 401.18h0.85v0.85h-0.85zM353.37 400.4h0.85v0.85h-0.85zM365.39 387.37h0.85v0.85h-0.85zM356.44 398.98h0.85v0.85h-0.85zM352.17 448.21h0.85v0.85h-0.85zM355.15 399.87h0.85v0.85h-0.85zM354.41 402.83h0.85v0.85h-0.85zM356.74 434.46h0.85v0.85h-0.85zM354.41 431.85h0.85v0.85h-0.85zM354.04 450.89h0.85v0.85h-0.85zM354.69 443.2h0.85v0.85h-0.85zM362.37 408.56h0.85v0.85h-0.85zM361.28 376.03h0.85v0.85h-0.85zM359.22 427.31h0.85v0.85h-0.85zM361.24 438.45h0.85v0.85h-0.85zM365.12 366.03h0.85v0.85h-0.85zM354.59 471.51h0.85v0.85h-0.85zM362.04 384.52h0.85v0.85h-0.85zM359.8 427.44h0.85v0.85h-0.85zM360.47 385.75h0.85v0.85h-0.85zM361.12 401.5h0.85v0.85h-0.85zM359.51 459.09h0.85v0.85h-0.85zM367.91 483.92h0.85v0.85h-0.85zM360.58 389.15h0.85v0.85h-0.85zM354.55 379.93h0.85v0.85h-0.85zM352.91 419.55h0.85v0.85h-0.85zM364.11 440.95h0.85v0.85h-0.85zM364.91 473.01h0.85v0.85h-0.85zM357.65 449.26h0.85v0.85h-0.85zM355.93 474.91h0.85v0.85h-0.85zM367.78 457.55h0.85v0.85h-0.85zM365.66 439.87h0.85v0.85h-0.85zM365.86 388.3h0.85v0.85h-0.85zM355.87 389.47h0.85v0.85h-0.85zM365.8 375.72h0.85v0.85h-0.85zM359.56 439.73h0.85v0.85h-0.85zM354.53 365.86h0.85v0.85h-0.85zM363.24 446.49h0.85v0.85h-0.85zM367.73 396.07h0.85v0.85h-0.85zM352.75 419.5h0.85v0.85h-0.85zM357.86 477.35h0.85v0.85h-0.85zM367.33 410.41h0.85v0.85h-0.85zM356.64 459.09h0.85v0.85h-0.85zM356.56 454.73h0.85v0.85h-0.85zM353.34 360.11h0.85v0.85h-0.85zM361.88 383.89h0.85v0.85h-0.85zM366.39 395.25h0.85v0.85h-0.85zM353.33 404.73h0.85v0.85h-0.85zM353.69 413.27h0.85v0.85h-0.85zM367.86 352.24h0.85v0.85h-0.85zM354.04 377.21h0.85v0.85h-0.85zM354.14 394.59h0.85v0.85h-0.85zM363.47 408.48h0.85v0.85h-0.85zM361.39 405.06h0.85v0.85h-0.85zM354.86 368.37h0.85v0.85h-0.85zM362.76 394.93h0.85v0.85h-0.85zM368.44 438.72h0.85v0.85h-0.85zM355.21 411.4h0.85v0.85h-0.85zM358.55 402.06h0.85v0.85h-0.85zM363.54 456.68h0.85v0.85h-0.85zM360.3 412.55h0.85v0.85h-0.85zM364.13 437.64h0.85v0.85h-0.85zM360.69 457.56h0.85v0.85h-0.85zM368.5 440.09h0.85v0.85h-0.85zM354.77 456.39h0.85v0.85h-0.85zM361.47 470.83h0.85v0.85h-0.85zM367.35 455.79h0.85v0.85h-0.85zM365.66 450.66h0.85v0.85h-0.85zM369.1 437.87h0.85v0.85h-0.85zM356.54 422.26h0.85v0.85h-0.85zM362.36 421.13h0.85v0.85h-0.85zM362.59 449.77h0.85v0.85h-0.85zM364.75 407.45h0.85v0.85h-0.85zM356.08 412.17h0.85v0.85h-0.85zM363.42 469.61h0.85v0.85h-0.85zM365.59 423.84h0.85v0.85h-0.85zM359.94 419.43h0.85v0.85h-0.85zM362.74 369.45h0.85v0.85h-0.85zM362.4 395.78h0.85v0.85h-0.85zM364.06 456.29h0.85v0.85h-0.85zM353.79 437.69h0.85v0.85h-0.85zM367.53 429.15h0.85v0.85h-0.85zM363.61 416.99h0.85v0.85h-0.85zM363.96 397.32h0.85v0.85h-0.85zM360.99 394.22h0.85v0.85h-0.85zM361.02 441.42h0.85v0.85h-0.85zM355.21 426.23h0.85v0.85h-0.85zM363.01 420.56h0.85v0.85h-0.85zM355.44 433.18h0.85v0.85h-0.85zM360.95 416.71h0.85v0.85h-0.85zM355.21 419.2h0.85v0.85h-0.85zM362.29 450.03h0.85v0.85h-0.85zM368.88 398.05h0.85v0.85h-0.85zM357.57 425.53h0.85v0.85h-0.85zM358.09 406.52h0.85v0.85h-0.85zM354.63 392.47h0.85v0.85h-0.85zM353.28 376.03h0.85v0.85h-0.85zM358.21 432.92h0.85v0.85h-0.85zM358.69 403.32h0.85v0.85h-0.85zM367.79 466.62h0.85v0.85h-0.85zM363.76 394.82h0.85v0.85h-0.85zM366.65 469.36h0.85v0.85h-0.85zM365.91 412.24h0.85v0.85h-0.85zM364.37 389.93h0.85v0.85h-0.85zM364.43 394.37h0.85v0.85h-0.85zM367.38 398.66h0.85v0.85h-0.85zM357.59 379.67h0.85v0.85h-0.85zM360.44 388.7h0.85v0.85h-0.85zM354.83 370.55h0.85v0.85h-0.85zM352.68 393.26h0.85v0.85h-0.85zM366.47 434.86h0.85v0.85h-0.85zM359.66 468.79h0.85v0.85h-0.85zM362.11 402.63h0.85v0.85h-0.85zM352.28 401.58h0.85v0.85h-0.85zM365.53 405.1h0.85v0.85h-0.85zM356.81 394.21h0.85v0.85h-0.85zM365.97 401.36h0.85v0.85h-0.85zM357.6 402h0.85v0.85h-0.85zM354.77 392.61h0.85v0.85h-0.85zM368.13 453.16h0.85v0.85h-0.85zM361.68 445.29h0.85v0.85h-0.85zM362.72 398.53h0.85v0.85h-0.85zM356.47 419.53h0.85v0.85h-0.85zM366.99 432.6h0.85v0.85h-0.85zM357.84 430.84h0.85v0.85h-0.85zM367.34 465.84h0.85v0.85h-0.85zM357.24 428.16h0.85v0.85h-0.85zM367.2 389.76h0.85v0.85h-0.85zM353.55 396.08h0.85v0.85h-0.85zM366.35 395.99h0.85v0.85h-0.85zM367.49 446.59h0.85v0.85h-0.85zM364.38 455.06h0.85v0.85h-0.85zM365.71 424.48h0.85v0.85h-0.85zM368.63 420.25h0.85v0.85h-0.85zM352.83 397.63h0.85v0.85h-0.85zM361.1 440h0.85v0.85h-0.85zM359.96 456.37h0.85v0.85h-0.85zM354.65 423.02h0.85v0.85h-0.85zM355.01 408.12h0.85v0.85h-0.85zM353.87 355.69h0.85v0.85h-0.85zM367.15 434.18h0.85v0.85h-0.85zM365.98 371.17h0.85v0.85h-0.85zM359.89 417.85h0.85v0.85h-0.85zM368.98 364.87h0.85v0.85h-0.85zM354.59 428.78h0.85v0.85h-0.85zM357.91 413.83h0.85v0.85h-0.85zM353.44 401.46h0.85v0.85h-0.85zM359.83 467.92h0.85v0.85h-0.85zM355.78 380h0.85v0.85h-0.85zM369.04 401.48h0.85v0.85h-0.85zM358.96 421.59h0.85v0.85h-0.85zM352.28 451.45h0.85v0.85h-0.85zM352.89 431.1h0.85v0.85h-0.85zM363.24 420.22h0.85v0.85h-0.85zM362.78 435.24h0.85v0.85h-0.85zM368.85 408.05h0.85v0.85h-0.85zM353.17 446.41h0.85v0.85h-0.85zM354.12 353.57h0.85v0.85h-0.85zM354.74 405.91h0.85v0.85h-0.85zM352.99 397.22h0.85v0.85h-0.85zM355.69 397.47h0.85v0.85h-0.85zM367.46 385.08h0.85v0.85h-0.85zM367 435.83h0.85v0.85h-0.85zM354.99 406.1h0.85v0.85h-0.85zM363.22 385.4h0.85v0.85h-0.85zM354.07 392.28h0.85v0.85h-0.85zM358.44 404.93h0.85v0.85h-0.85zM359.24 396.84h0.85v0.85h-0.85zM363.38 440.59h0.85v0.85h-0.85zM358.92 395.6h0.85v0.85h-0.85zM368.59 462.93h0.85v0.85h-0.85zM356.33 401.82h0.85v0.85h-0.85zM359.05 388.41h0.85v0.85h-0.85zM353.83 455.41h0.85v0.85h-0.85zM364.78 418.51h0.85v0.85h-0.85zM363.97 370.02h0.85v0.85h-0.85zM356.75 376.94h0.85v0.85h-0.85zM357.81 409.69h0.85v0.85h-0.85zM354.73 396.33h0.85v0.85h-0.85zM366.93 405.24h0.85v0.85h-0.85zM358.48 450.48h0.85v0.85h-0.85zM363.08 377.25h0.85v0.85h-0.85zM364.98 412.94h0.85v0.85h-0.85zM357.48 413.18h0.85v0.85h-0.85zM359.25 374.22h0.85v0.85h-0.85zM354.9 378.12h0.85v0.85h-0.85zM360.14 396.17h0.85v0.85h-0.85zM359.11 406.6h0.85v0.85h-0.85zM354.62 371.7h0.85v0.85h-0.85zM355.82 376.27h0.85v0.85h-0.85zM359.92 401.96h0.85v0.85h-0.85zM352.11 435.56h0.85v0.85h-0.85zM369.03 392.43h0.85v0.85h-0.85zM356.04 424.6h0.85v0.85h-0.85zM365.01 454.93h0.85v0.85h-0.85zM369.06 423.96h0.85v0.85h-0.85zM360.73 404.1h0.85v0.85h-0.85zM366.17 392.26h0.85v0.85h-0.85zM362.48 386.89h0.85v0.85h-0.85zM368.98 445.45h0.85v0.85h-0.85zM358.04 420.57h0.85v0.85h-0.85zM358.68 392.75h0.85v0.85h-0.85zM368.33 377.23h0.85v0.85h-0.85zM367.62 382.05h0.85v0.85h-0.85zM353.54 405.04h0.85v0.85h-0.85zM368.58 455.51h0.85v0.85h-0.85zM367.98 377.42h0.85v0.85h-0.85zM361.41 385.53h0.85v0.85h-0.85zM354.62 404.92h0.85v0.85h-0.85zM366.6 390.56h0.85v0.85h-0.85zM360.49 419.97h0.85v0.85h-0.85zM363.92 384.88h0.85v0.85h-0.85zM363.12 412.66h0.85v0.85h-0.85zM368.54 432.06h0.85v0.85h-0.85zM362.79 428.39h0.85v0.85h-0.85zM354.66 398.32h0.85v0.85h-0.85zM357.29 466.83h0.85v0.85h-0.85zM364.91 455.18h0.85v0.85h-0.85zM366.32 377.13h0.85v0.85h-0.85zM358.52 390.11h0.85v0.85h-0.85zM358.74 385.33h0.85v0.85h-0.85zM359.51 438.07h0.85v0.85h-0.85zM365.61 442.61h0.85v0.85h-0.85zM364.58 397.35h0.85v0.85h-0.85zM368.64 410.99h0.85v0.85h-0.85zM353.91 443.41h0.85v0.85h-0.85zM353.25 428.94h0.85v0.85h-0.85zM353.22 434.44h0.85v0.85h-0.85zM367.14 383.84h0.85v0.85h-0.85zM366.95 418.11h0.85v0.85h-0.85zM360.89 352.22h0.85v0.85h-0.85zM365.42 367.92h0.85v0.85h-0.85zM356.78 405.35h0.85v0.85h-0.85zM353.62 407.16h0.85v0.85h-0.85zM364.29 421.59h0.85v0.85h-0.85zM362.64 445.75h0.85v0.85h-0.85zM368.05 401.6h0.85v0.85h-0.85zM364.35 463.6h0.85v0.85h-0.85zM356.04 453.27h0.85v0.85h-0.85zM362.92 443.7h0.85v0.85h-0.85zM359.06 368.97h0.85v0.85h-0.85zM368.93 428.89h0.85v0.85h-0.85zM369.07 458.71h0.85v0.85h-0.85zM355.85 471.54h0.85v0.85h-0.85zM360.95 456.94h0.85v0.85h-0.85zM361.52 439.7h0.85v0.85h-0.85zM355.58 412.72h0.85v0.85h-0.85zM366.81 461.62h0.85v0.85h-0.85zM359.66 404.24h0.85v0.85h-0.85zM359.36 450.55h0.85v0.85h-0.85zM355.1 391.81h0.85v0.85h-0.85zM364.51 388.38h0.85v0.85h-0.85zM366.03 426.24h0.85v0.85h-0.85zM364.83 413.84h0.85v0.85h-0.85zM366.02 408.23h0.85v0.85h-0.85zM363.98 430.35h0.85v0.85h-0.85zM358.47 455.1h0.85v0.85h-0.85zM361.93 467.46h0.85v0.85h-0.85zM367.85 373.31h0.85v0.85h-0.85zM364.82 358.87h0.85v0.85h-0.85zM360.39 449.18h0.85v0.85h-0.85zM352.3 366.33h0.85v0.85h-0.85zM363.01 421.2h0.85v0.85h-0.85zM368.01 456.99h0.85v0.85h-0.85zM366.72 410.31h0.85v0.85h-0.85zM358.4 411.5h0.85v0.85h-0.85zM354.45 412.65h0.85v0.85h-0.85zM362.95 411.74h0.85v0.85h-0.85zM353.31 382.44h0.85v0.85h-0.85zM368.99 423.62h0.85v0.85h-0.85zM369.06 459.7h0.85v0.85h-0.85zM365.46 431.7h0.85v0.85h-0.85zM362.07 441.03h0.85v0.85h-0.85zM360.07 418h0.85v0.85h-0.85zM357.17 439.88h0.85v0.85h-0.85zM366.93 449.71h0.85v0.85h-0.85zM358.45 440.07h0.85v0.85h-0.85zM357.57 421.12h0.85v0.85h-0.85zM353.29 414.02h0.85v0.85h-0.85zM356.65 349.1h0.85v0.85h-0.85zM369.07 388.93h0.85v0.85h-0.85zM360.7 409.22h0.85v0.85h-0.85zM361.6 454.98h0.85v0.85h-0.85zM355.89 379.21h0.85v0.85h-0.85zM357.48 376.96h0.85v0.85h-0.85zM357.01 388.12h0.85v0.85h-0.85zM365.69 394.94h0.85v0.85h-0.85zM364.82 444.28h0.85v0.85h-0.85zM354.01 395.21h0.85v0.85h-0.85zM355.8 411.72h0.85v0.85h-0.85zM364.14 466.04h0.85v0.85h-0.85zM367.65 410.55h0.85v0.85h-0.85zM352.51 381.6h0.85v0.85h-0.85zM368.76 416.68h0.85v0.85h-0.85zM360.5 399.69h0.85v0.85h-0.85zM359.37 387.76h0.85v0.85h-0.85zM352.17 423.1h0.85v0.85h-0.85zM367.99 362.08h0.85v0.85h-0.85zM356.48 456.51h0.85v0.85h-0.85zM360.45 451.28h0.85v0.85h-0.85zM353.42 370.14h0.85v0.85h-0.85zM362.17 383.01h0.85v0.85h-0.85zM361.36 377.34h0.85v0.85h-0.85zM360.49 419.38h0.85v0.85h-0.85zM355.07 390.52h0.85v0.85h-0.85zM360.79 399.51h0.85v0.85h-0.85zM366.92 401.63h0.85v0.85h-0.85zM356 470.04h0.85v0.85h-0.85zM363.21 457.6h0.85v0.85h-0.85zM358.21 417.53h0.85v0.85h-0.85zM364.72 476.06h0.85v0.85h-0.85zM360.63 440.51h0.85v0.85h-0.85zM357.53 414.89h0.85v0.85h-0.85zM363.7 404.6h0.85v0.85h-0.85zM354.16 440.99h0.85v0.85h-0.85zM354.2 385.72h0.85v0.85h-0.85zM365.12 442.45h0.85v0.85h-0.85zM354.82 409.19h0.85v0.85h-0.85zM361.28 460.14h0.85v0.85h-0.85zM357.63 454.85h0.85v0.85h-0.85zM364.32 410.9h0.85v0.85h-0.85zM353.11 408.37h0.85v0.85h-0.85zM352.79 424.96h0.85v0.85h-0.85zM360.6 432.27h0.85v0.85h-0.85zM355.5 431.09h0.85v0.85h-0.85zM358.5 389.76h0.85v0.85h-0.85zM363.9 473.4h0.85v0.85h-0.85zM356.78 386.19h0.85v0.85h-0.85zM368.44 420.52h0.85v0.85h-0.85zM356.84 424.45h0.85v0.85h-0.85zM355.19 468.41h0.85v0.85h-0.85zM356.26 387.79h0.85v0.85h-0.85zM365.93 437.92h0.85v0.85h-0.85zM368.13 407.02h0.85v0.85h-0.85zM366.28 367.57h0.85v0.85h-0.85zM354.78 464.22h0.85v0.85h-0.85zM354.87 393.87h0.85v0.85h-0.85zM354.47 400.6h0.85v0.85h-0.85zM353.08 389.45h0.85v0.85h-0.85zM366.27 442.16h0.85v0.85h-0.85zM364.35 421.78h0.85v0.85h-0.85zM361.6 421.59h0.85v0.85h-0.85zM368.11 453.35h0.85v0.85h-0.85zM361.21 396.82h0.85v0.85h-0.85zM366.01 429.23h0.85v0.85h-0.85zM355.41 468.09h0.85v0.85h-0.85zM366.08 400.21h0.85v0.85h-0.85zM369.05 414.06h0.85v0.85h-0.85zM358.35 395.25h0.85v0.85h-0.85zM359.93 389.17h0.85v0.85h-0.85zM358.21 422.94h0.85v0.85h-0.85zM368.43 483.36h0.85v0.85h-0.85zM357 395.09h0.85v0.85h-0.85zM356.91 371.52h0.85v0.85h-0.85zM356.43 450.39h0.85v0.85h-0.85zM358.88 434.38h0.85v0.85h-0.85zM366.56 433.79h0.85v0.85h-0.85zM368.71 395.72h0.85v0.85h-0.85zM354.07 383.39h0.85v0.85h-0.85zM367.2 380.52h0.85v0.85h-0.85zM368.9 465.63h0.85v0.85h-0.85zM361.68 454.4h0.85v0.85h-0.85zM357.62 446.15h0.85v0.85h-0.85zM365.41 412.43h0.85v0.85h-0.85zM359.71 445.3h0.85v0.85h-0.85zM362.69 424.78h0.85v0.85h-0.85zM358.19 403.82h0.85v0.85h-0.85zM353.52 409.36h0.85v0.85h-0.85zM368.88 375.94h0.85v0.85h-0.85zM361.89 386.46h0.85v0.85h-0.85zM355.01 389.29h0.85v0.85h-0.85zM365.22 432.66h0.85v0.85h-0.85zM357.08 435.53h0.85v0.85h-0.85zM365.76 374.6h0.85v0.85h-0.85zM368.95 408.11h0.85v0.85h-0.85zM361.93 466.81h0.85v0.85h-0.85zM368.63 384.49h0.85v0.85h-0.85zM355.53 454.61h0.85v0.85h-0.85zM357.15 385.03h0.85v0.85h-0.85zM356.95 448.59h0.85v0.85h-0.85zM354.42 462.98h0.85v0.85h-0.85zM360.02 444.26h0.85v0.85h-0.85zM357.81 404.95h0.85v0.85h-0.85zM364.04 450.7h0.85v0.85h-0.85zM361.65 350.88h0.85v0.85h-0.85zM356.47 456.63h0.85v0.85h-0.85zM366.79 370.34h0.85v0.85h-0.85zM365.07 470.47h0.85v0.85h-0.85zM353.45 445.12h0.85v0.85h-0.85zM365.2 409.7h0.85v0.85h-0.85zM367.4 416.1h0.85v0.85h-0.85zM362.58 386.9h0.85v0.85h-0.85zM357.01 433.8h0.85v0.85h-0.85zM359.01 462.14h0.85v0.85h-0.85zM358.81 440.85h0.85v0.85h-0.85zM366.51 369.42h0.85v0.85h-0.85zM364.09 374.06h0.85v0.85h-0.85zM357.27 468.6h0.85v0.85h-0.85zM363.63 450.44h0.85v0.85h-0.85zM353.21 453.61h0.85v0.85h-0.85zM354.45 406.4h0.85v0.85h-0.85zM356.27 399.3h0.85v0.85h-0.85zM366.69 415.71h0.85v0.85h-0.85zM356.03 410.68h0.85v0.85h-0.85zM366.48 477.41h0.85v0.85h-0.85zM366.77 416.44h0.85v0.85h-0.85zM358.94 422.55h0.85v0.85h-0.85zM354.01 416.6h0.85v0.85h-0.85zM357.83 484.61h0.85v0.85h-0.85zM362.28 438.9h0.85v0.85h-0.85zM363.14 466.97h0.85v0.85h-0.85zM352.69 373.87h0.85v0.85h-0.85zM354.89 406.39h0.85v0.85h-0.85zM366.25 396.6h0.85v0.85h-0.85zM356.8 426.35h0.85v0.85h-0.85zM357.32 426.42h0.85v0.85h-0.85zM356.62 438.35h0.85v0.85h-0.85zM365.27 447.45h0.85v0.85h-0.85zM352.6 404.78h0.85v0.85h-0.85zM359.52 422.22h0.85v0.85h-0.85zM355.64 433.85h0.85v0.85h-0.85zM364.78 414.53h0.85v0.85h-0.85zM363.82 421.79h0.85v0.85h-0.85zM368.64 389.65h0.85v0.85h-0.85zM365.93 395.93h0.85v0.85h-0.85zM356.95 392.14h0.85v0.85h-0.85zM361.36 472.29h0.85v0.85h-0.85zM355.7 395.75h0.85v0.85h-0.85zM354.39 362.76h0.85v0.85h-0.85zM357.41 394.61h0.85v0.85h-0.85zM369 425.59h0.85v0.85h-0.85zM357.17 347.78h0.85v0.85h-0.85zM352.82 453.88h0.85v0.85h-0.85zM353.01 464.7h0.85v0.85h-0.85zM359.83 385.62h0.85v0.85h-0.85zM364.9 393.35h0.85v0.85h-0.85zM353.14 437.76h0.85v0.85h-0.85zM367.29 475.42h0.85v0.85h-0.85zM364.49 394.15h0.85v0.85h-0.85zM356.89 405.02h0.85v0.85h-0.85zM368.39 446.2h0.85v0.85h-0.85zM362.14 403.95h0.85v0.85h-0.85zM366.06 451.37h0.85v0.85h-0.85zM363.1 391h0.85v0.85h-0.85zM354.97 398.08h0.85v0.85h-0.85zM357.96 408.63h0.85v0.85h-0.85zM354.46 421.51h0.85v0.85h-0.85zM357.65 477.08h0.85v0.85h-0.85zM354.28 444.92h0.85v0.85h-0.85zM364.33 414.5h0.85v0.85h-0.85zM364.6 407.39h0.85v0.85h-0.85zM356.48 404.18h0.85v0.85h-0.85zM360.31 411.62h0.85v0.85h-0.85zM354.93 456.29h0.85v0.85h-0.85zM368.81 431.52h0.85v0.85h-0.85zM360.37 425.43h0.85v0.85h-0.85zM357.24 418.09h0.85v0.85h-0.85zM357.18 396.16h0.85v0.85h-0.85zM367.33 366.13h0.85v0.85h-0.85zM366.27 472.94h0.85v0.85h-0.85zM365.53 471.1h0.85v0.85h-0.85zM360 392.02h0.85v0.85h-0.85zM362.27 419.56h0.85v0.85h-0.85zM356.85 420.79h0.85v0.85h-0.85zM363.92 407.73h0.85v0.85h-0.85zM356.17 417.71h0.85v0.85h-0.85zM352.69 485.06h0.85v0.85h-0.85zM352.95 454.16h0.85v0.85h-0.85zM355.72 389.45h0.85v0.85h-0.85zM361.93 420.25h0.85v0.85h-0.85zM367.99 451.33h0.85v0.85h-0.85zM360.62 412.1h0.85v0.85h-0.85zM354.34 385.97h0.85v0.85h-0.85zM368.79 400.57h0.85v0.85h-0.85zM353.88 410h0.85v0.85h-0.85zM355.69 429.79h0.85v0.85h-0.85zM360.69 423.03h0.85v0.85h-0.85zM355.63 440.03h0.85v0.85h-0.85zM364.99 421.75h0.85v0.85h-0.85zM355.51 426.94h0.85v0.85h-0.85zM354.96 394.62h0.85v0.85h-0.85zM361.95 354.85h0.85v0.85h-0.85zM357.74 404.34h0.85v0.85h-0.85zM364.84 413.34h0.85v0.85h-0.85zM366.51 375.78h0.85v0.85h-0.85zM357.46 452.9h0.85v0.85h-0.85zM359 420.76h0.85v0.85h-0.85zM354.77 423.21h0.85v0.85h-0.85zM367.76 392.39h0.85v0.85h-0.85zM354.09 376.56h0.85v0.85h-0.85zM358.86 375.04h0.85v0.85h-0.85zM355.63 444.75h0.85v0.85h-0.85zM360.73 392.85h0.85v0.85h-0.85zM358.65 421.74h0.85v0.85h-0.85zM355.86 458.45h0.85v0.85h-0.85zM363.05 451.27h0.85v0.85h-0.85zM358.19 424.24h0.85v0.85h-0.85zM367.25 480.38h0.85v0.85h-0.85zM363.27 389.67h0.85v0.85h-0.85zM362.31 398.31h0.85v0.85h-0.85zM355.51 415.64h0.85v0.85h-0.85zM356.59 407.08h0.85v0.85h-0.85zM363.71 472.03h0.85v0.85h-0.85zM358.99 404.73h0.85v0.85h-0.85zM363.6 394.26h0.85v0.85h-0.85zM358.72 386.93h0.85v0.85h-0.85zM360.48 407.49h0.85v0.85h-0.85zM352.96 442.25h0.85v0.85h-0.85zM358.76 398.43h0.85v0.85h-0.85zM362.16 408.45h0.85v0.85h-0.85zM367.49 374.61h0.85v0.85h-0.85zM364.83 400.23h0.85v0.85h-0.85zM360.42 414.2h0.85v0.85h-0.85zM357.07 376.31h0.85v0.85h-0.85zM367.9 442.73h0.85v0.85h-0.85zM359.16 464.15h0.85v0.85h-0.85zM358.22 382.21h0.85v0.85h-0.85zM354.23 381.5h0.85v0.85h-0.85zM363.86 461.34h0.85v0.85h-0.85zM367.12 366.15h0.85v0.85h-0.85zM355.1 405.27h0.85v0.85h-0.85zM358.15 430.01h0.85v0.85h-0.85zM366.28 382.46h0.85v0.85h-0.85zM355.37 386h0.85v0.85h-0.85zM360.97 410.07h0.85v0.85h-0.85zM367.82 406.02h0.85v0.85h-0.85zM367.77 367.35h0.85v0.85h-0.85zM358.76 408.3h0.85v0.85h-0.85zM354.38 413.98h0.85v0.85h-0.85zM358.12 406.95h0.85v0.85h-0.85zM358.61 413.05h0.85v0.85h-0.85zM362.43 367.18h0.85v0.85h-0.85zM357.07 399.9h0.85v0.85h-0.85zM353.38 361.29h0.85v0.85h-0.85zM358.36 393.55h0.85v0.85h-0.85zM357.58 391.47h0.85v0.85h-0.85zM361.64 403.18h0.85v0.85h-0.85zM364.1 409.79h0.85v0.85h-0.85zM367.61 444.95h0.85v0.85h-0.85zM368.25 445.56h0.85v0.85h-0.85zM355.13 401.41h0.85v0.85h-0.85zM359.88 439.97h0.85v0.85h-0.85zM359.23 453h0.85v0.85h-0.85zM363.09 436.15h0.85v0.85h-0.85zM357.14 435.98h0.85v0.85h-0.85zM366.34 361.01h0.85v0.85h-0.85zM359.35 401.49h0.85v0.85h-0.85zM365.6 363.04h0.85v0.85h-0.85zM352.46 405.27h0.85v0.85h-0.85zM361.92 386.45h0.85v0.85h-0.85zM368.33 381.79h0.85v0.85h-0.85zM365.08 409.03h0.85v0.85h-0.85zM354.81 430.97h0.85v0.85h-0.85zM354.74 390.92h0.85v0.85h-0.85zM361.1 455.22h0.85v0.85h-0.85zM365.18 413.53h0.85v0.85h-0.85zM364.2 370.5h0.85v0.85h-0.85zM361.72 373.07h0.85v0.85h-0.85zM352.21 456.83h0.85v0.85h-0.85zM358.46 393.46h0.85v0.85h-0.85zM359.96 394.74h0.85v0.85h-0.85zM353.48 432.2h0.85v0.85h-0.85zM353.1 394.83h0.85v0.85h-0.85zM367.49 388.37h0.85v0.85h-0.85zM365.24 363.99h0.85v0.85h-0.85zM361.65 431.26h0.85v0.85h-0.85zM367.43 403.91h0.85v0.85h-0.85zM360.56 414.45h0.85v0.85h-0.85zM363.89 458.32h0.85v0.85h-0.85zM366.4 429.02h0.85v0.85h-0.85zM358.05 440.93h0.85v0.85h-0.85zM360.81 449.27h0.85v0.85h-0.85zM365.6 404.73h0.85v0.85h-0.85zM368.28 426.55h0.85v0.85h-0.85zM368.5 456.74h0.85v0.85h-0.85zM360.06 361.26h0.85v0.85h-0.85zM361.44 404.62h0.85v0.85h-0.85zM358.46 429.7h0.85v0.85h-0.85zM364.57 438.96h0.85v0.85h-0.85zM360.86 441.55h0.85v0.85h-0.85zM354.17 401.01h0.85v0.85h-0.85zM364.34 416.44h0.85v0.85h-0.85zM355.05 388.67h0.85v0.85h-0.85zM360.33 372.92h0.85v0.85h-0.85zM365.62 422.69h0.85v0.85h-0.85zM366.84 417.35h0.85v0.85h-0.85zM356.64 362.81h0.85v0.85h-0.85zM355.46 443.5h0.85v0.85h-0.85zM356.38 400.77h0.85v0.85h-0.85zM367.1 480.89h0.85v0.85h-0.85zM359 380.93h0.85v0.85h-0.85zM356 394.72h0.85v0.85h-0.85zM353.68 434.57h0.85v0.85h-0.85zM356.26 456.64h0.85v0.85h-0.85zM356.19 383.87h0.85v0.85h-0.85zM365.2 389.75h0.85v0.85h-0.85zM362.86 454.81h0.85v0.85h-0.85zM358.48 404.02h0.85v0.85h-0.85zM365.05 398.02h0.85v0.85h-0.85zM368.15 435.84h0.85v0.85h-0.85zM362.86 377.7h0.85v0.85h-0.85zM352.36 402.42h0.85v0.85h-0.85zM363.79 422.12h0.85v0.85h-0.85zM365.32 448.01h0.85v0.85h-0.85zM357.31 381.17h0.85v0.85h-0.85zM356.86 387.7h0.85v0.85h-0.85zM366.75 359.81h0.85v0.85h-0.85zM360.16 430.1h0.85v0.85h-0.85zM364.13 388.98h0.85v0.85h-0.85zM368.24 435.34h0.85v0.85h-0.85zM366.14 438.14h0.85v0.85h-0.85zM359.72 409.83h0.85v0.85h-0.85zM368.38 376.49h0.85v0.85h-0.85zM363.67 402.49h0.85v0.85h-0.85zM361.17 433.97h0.85v0.85h-0.85zM365.81 375.35h0.85v0.85h-0.85zM361.66 402.49h0.85v0.85h-0.85zM363.3 472.42h0.85v0.85h-0.85zM363.79 460.79h0.85v0.85h-0.85zM357.52 440.28h0.85v0.85h-0.85zM355.74 421.33h0.85v0.85h-0.85zM354.73 385.15h0.85v0.85h-0.85zM366.45 369.14h0.85v0.85h-0.85zM367.2 437.4h0.85v0.85h-0.85zM355.51 405.83h0.85v0.85h-0.85zM358.33 412.51h0.85v0.85h-0.85zM353.45 423.53h0.85v0.85h-0.85zM367.04 381.07h0.85v0.85h-0.85zM360.96 445.67h0.85v0.85h-0.85zM361.85 424.11h0.85v0.85h-0.85zM354.68 408.61h0.85v0.85h-0.85zM356.07 363.57h0.85v0.85h-0.85zM352.59 362.74h0.85v0.85h-0.85zM355.18 417.22h0.85v0.85h-0.85zM361.59 461.63h0.85v0.85h-0.85zM356.27 428.41h0.85v0.85h-0.85zM359.97 465.99h0.85v0.85h-0.85zM360.7 413.06h0.85v0.85h-0.85zM359.23 401.97h0.85v0.85h-0.85zM358.76 443.61h0.85v0.85h-0.85zM368.84 393.07h0.85v0.85h-0.85zM362.29 474.59h0.85v0.85h-0.85zM362.55 357.91h0.85v0.85h-0.85zM352.92 404.93h0.85v0.85h-0.85zM364.87 427.98h0.85v0.85h-0.85zM354.85 420.72h0.85v0.85h-0.85zM359.22 362.93h0.85v0.85h-0.85zM365.44 409.98h0.85v0.85h-0.85zM361.69 374.23h0.85v0.85h-0.85zM354.04 373.84h0.85v0.85h-0.85zM366.2 377.39h0.85v0.85h-0.85zM353.49 452.65h0.85v0.85h-0.85zM365.47 471.73h0.85v0.85h-0.85zM364.24 398.12h0.85v0.85h-0.85zM352.44 407.88h0.85v0.85h-0.85zM358.95 380.56h0.85v0.85h-0.85zM354.38 376.51h0.85v0.85h-0.85zM366.19 472.85h0.85v0.85h-0.85zM354.22 396.42h0.85v0.85h-0.85zM367.13 385.5h0.85v0.85h-0.85zM357.32 443.86h0.85v0.85h-0.85zM359.52 370.65h0.85v0.85h-0.85zM360.29 428.45h0.85v0.85h-0.85zM359.37 402.24h0.85v0.85h-0.85zM356.95 382.7h0.85v0.85h-0.85zM359.91 437.5h0.85v0.85h-0.85zM358.85 474.63h0.85v0.85h-0.85zM359.27 421.4h0.85v0.85h-0.85zM362.27 383.03h0.85v0.85h-0.85zM366.51 377.39h0.85v0.85h-0.85zM361.47 400.34h0.85v0.85h-0.85zM364.52 420.2h0.85v0.85h-0.85zM363.65 404.04h0.85v0.85h-0.85zM364.81 391.6h0.85v0.85h-0.85zM363.02 412.5h0.85v0.85h-0.85zM363.49 389.59h0.85v0.85h-0.85zM352.83 376.96h0.85v0.85h-0.85zM368.09 394.91h0.85v0.85h-0.85zM358.98 450.18h0.85v0.85h-0.85zM366.01 427.45h0.85v0.85h-0.85zM355.15 445.26h0.85v0.85h-0.85zM362.68 438h0.85v0.85h-0.85zM352.63 430.41h0.85v0.85h-0.85zM366.92 448.13h0.85v0.85h-0.85zM360.28 451.42h0.85v0.85h-0.85zM352.25 380.83h0.85v0.85h-0.85zM364.64 394.39h0.85v0.85h-0.85zM364.97 357.87h0.85v0.85h-0.85zM358.84 443.33h0.85v0.85h-0.85zM363.41 379.83h0.85v0.85h-0.85zM368.36 385.67h0.85v0.85h-0.85zM366.38 395.36h0.85v0.85h-0.85zM355.62 454.81h0.85v0.85h-0.85zM367.97 389.2h0.85v0.85h-0.85zM368.77 471.34h0.85v0.85h-0.85zM359.36 407.93h0.85v0.85h-0.85zM360.77 399.86h0.85v0.85h-0.85zM354.07 417.67h0.85v0.85h-0.85zM367.64 473.81h0.85v0.85h-0.85zM355.76 391.24h0.85v0.85h-0.85zM359.71 456.32h0.85v0.85h-0.85zM369.03 458.62h0.85v0.85h-0.85zM366.13 405.21h0.85v0.85h-0.85zM356.69 416.4h0.85v0.85h-0.85zM365.62 419.99h0.85v0.85h-0.85zM368.77 435.95h0.85v0.85h-0.85zM358.52 396.52h0.85v0.85h-0.85zM360.4 427.55h0.85v0.85h-0.85zM352.81 367.86h0.85v0.85h-0.85zM357.28 430.11h0.85v0.85h-0.85zM368.15 388.81h0.85v0.85h-0.85zM353.55 361.27h0.85v0.85h-0.85zM353.65 369.07h0.85v0.85h-0.85zM358.18 466.74h0.85v0.85h-0.85zM359.86 394.1h0.85v0.85h-0.85zM366.4 425.42h0.85v0.85h-0.85zM362.59 372.72h0.85v0.85h-0.85zM358.15 415.99h0.85v0.85h-0.85zM362.27 442.65h0.85v0.85h-0.85zM363.47 399.88h0.85v0.85h-0.85zM361.47 426.41h0.85v0.85h-0.85zM355.95 416.37h0.85v0.85h-0.85zM360.46 401.11h0.85v0.85h-0.85zM352.96 454.76h0.85v0.85h-0.85zM355.4 399.67h0.85v0.85h-0.85zM352.43 358.66h0.85v0.85h-0.85zM361.27 378.69h0.85v0.85h-0.85zM354.72 413.32h0.85v0.85h-0.85zM358.5 407.31h0.85v0.85h-0.85zM352.34 383.38h0.85v0.85h-0.85zM358.77 399.1h0.85v0.85h-0.85zM360.87 410.13h0.85v0.85h-0.85zM360.33 395.32h0.85v0.85h-0.85zM365.5 424.05h0.85v0.85h-0.85zM363.34 446.23h0.85v0.85h-0.85zM364.57 373.76h0.85v0.85h-0.85zM363.91 470.64h0.85v0.85h-0.85zM357.61 412.36h0.85v0.85h-0.85zM366.24 381.77h0.85v0.85h-0.85zM358.63 468.64h0.85v0.85h-0.85zM368.81 398.5h0.85v0.85h-0.85zM365.45 438.43h0.85v0.85h-0.85zM363.86 435.84h0.85v0.85h-0.85zM353.41 368.71h0.85v0.85h-0.85zM368.97 435.9h0.85v0.85h-0.85zM366.21 423.34h0.85v0.85h-0.85zM360.13 355.34h0.85v0.85h-0.85zM367.78 388.09h0.85v0.85h-0.85zM358.03 455.64h0.85v0.85h-0.85zM357.92 400.29h0.85v0.85h-0.85zM356.77 438.8h0.85v0.85h-0.85zM364.27 368.42h0.85v0.85h-0.85zM357.23 399.45h0.85v0.85h-0.85zM359.27 442.56h0.85v0.85h-0.85zM363.54 441.1h0.85v0.85h-0.85zM359.51 403.6h0.85v0.85h-0.85zM352.26 397.89h0.85v0.85h-0.85zM358.81 473.31h0.85v0.85h-0.85zM356.18 384.75h0.85v0.85h-0.85zM362.79 400.32h0.85v0.85h-0.85zM352.69 387.1h0.85v0.85h-0.85zM353.6 477.54h0.85v0.85h-0.85zM362.14 401.49h0.85v0.85h-0.85zM353.64 374.78h0.85v0.85h-0.85zM359.08 385.13h0.85v0.85h-0.85zM362.49 406.98h0.85v0.85h-0.85zM354.75 440.84h0.85v0.85h-0.85zM365.51 439.34h0.85v0.85h-0.85zM355.53 436.76h0.85v0.85h-0.85zM368.54 421.02h0.85v0.85h-0.85zM359.51 409.25h0.85v0.85h-0.85zM357.64 374.68h0.85v0.85h-0.85zM356.88 449.08h0.85v0.85h-0.85zM358.1 375.02h0.85v0.85h-0.85zM359.33 436.96h0.85v0.85h-0.85zM358.64 384.68h0.85v0.85h-0.85zM355.07 482.71h0.85v0.85h-0.85zM367.48 363.05h0.85v0.85h-0.85z" fill="#000" fill-opacity="0.85"/>
<line x1="360.6" y1="345.9" x2="360.6" y2="393.8" stroke="#555" stroke-width="0.8" />
<line x1="360.6" y1="439.4" x2="360.6" y2="486.5" stroke="#555" stroke-width="0.8" />
<rect x="344.7" y="393.8" width="31.8" height="45.6" fill="none" stroke="#3a3a3a" stroke-width="0.6" />
<line x1="344.7" y1="413.7" x2="376.5" y2="413.7" stroke="#222" stroke-width="1.3" />
<rect x="387" y="404.3" width="32.2" height="52" fill="#00BFC4" stroke="none" stroke-width="1" fill-opacity="0.5"/>
<path d="M402.77 412.15h0.85v0.85h-0.85zM402.19 416.05h0.85v0.85h-0.85zM405.78 415.53h0.85v0.85h-0.85zM405.39 404.92h0.85v0.85h-0.85zM399.73 354.26h0.85v0.85h-0.85zM397.01 410.29h0.85v0.85h-0.85zM399.87 455.39h0.85v0.85h-0.85zM410.86 458.61h0.85v0.85h-0.85zM409.79 404.55h0.85v0.85h-0.85zM405.95 459.69h0.85v0.85h-0.85zM402.37 363.62h0.85v0.85h-0.85zM399.64 439.34h0.85v0.85h-0.85zM399.87 400.69h0.85v0.85h-0.85zM407.99 404.88h0.85v0.85h-0.85zM401.79 411.18h0.85v0.85h-0.85zM410.72 441.58h0.85v0.85h-0.85zM395.35 407.33h0.85v0.85h-0.85zM408.75 473.52h0.85v0.85h-0.85zM403.5 458.67h0.85v0.85h-0.85zM397.23 402.16h0.85v0.85h-0.85zM402.43 408.12h0.85v0.85h-0.85zM406.49 377.47h0.85v0.85h-0.85zM394.82 453.26h0.85v0.85h-0.85zM402.96 461.73h0.85v0.85h-0.85zM402.68 466.22h0.85v0.85h-0.85zM402.32 458.99h0.85v0.85h-0.85zM403.09 437.45h0.85v0.85h-0.85zM397.05 361.95h0.85v0.85h-0.85zM401.51 401.81h0.85v0.85h-0.85zM403.77 412.7h0.85v0.85h-0.85zM401.4 443.83h0.85v0.85h-0.85zM403.29 409.18h0.85v0.85h-0.85zM407.91 470.33h0.85v0.85h-0.85zM408.49 443.28h0.85v0.85h-0.85zM396.32 401.18h0.85v0.85h-0.85zM396.67 382.26h0.85v0.85h-0.85zM405.23 353.27h0.85v0.85h-0.85zM396.53 466.22h0.85v0.85h-0.85zM410.59 447.6h0.85v0.85h-0.85zM397.2 457.2h0.85v0.85h-0.85zM398.94 440.94h0.85v0.85h-0.85zM394.79 394.21h0.85v0.85h-0.85zM410.22 425.4h0.85v0.85h-0.85zM397.1 383.8h0.85v0.85h-0.85zM395.26 414.04h0.85v0.85h-0.85zM407.01 419.4h0.85v0.85h-0.85zM395.26 419.14h0.85v0.85h-0.85zM397.97 364.69h0.85v0.85h-0.85zM410.32 444.9h0.85v0.85h-0.85zM396.36 422.29h0.85v0.85h-0.85zM401.67 399.51h0.85v0.85h-0.85zM396.57 384.39h0.85v0.85h-0.85zM408.89 417.25h0.85v0.85h-0.85zM409.61 402.55h0.85v0.85h-0.85zM401.96 463.71h0.85v0.85h-0.85zM397.74 400.77h0.85v0.85h-0.85zM408.64 444.94h0.85v0.85h-0.85zM398.15 462.8h0.85v0.85h-0.85zM394.97 416.73h0.85v0.85h-0.85zM399.61 408.15h0.85v0.85h-0.85zM395.9 386.57h0.85v0.85h-0.85zM399.78 478.66h0.85v0.85h-0.85zM403.68 421.83h0.85v0.85h-0.85zM404.62 419.94h0.85v0.85h-0.85zM402.94 422.24h0.85v0.85h-0.85zM405.35 380.36h0.85v0.85h-0.85zM406.91 445.12h0.85v0.85h-0.85zM402.46 408.75h0.85v0.85h-0.85zM406.97 459.61h0.85v0.85h-0.85zM400.29 372.68h0.85v0.85h-0.85zM406.69 393.27h0.85v0.85h-0.85zM401.25 415.03h0.85v0.85h-0.85zM402.32 400.5h0.85v0.85h-0.85zM405.33 451.95h0.85v0.85h-0.85zM401.32 400.32h0.85v0.85h-0.85zM395.54 438.84h0.85v0.85h-0.85zM394.99 465.26h0.85v0.85h-0.85zM397.1 439.11h0.85v0.85h-0.85zM406.36 470.86h0.85v0.85h-0.85zM403.16 400.45h0.85v0.85h-0.85zM409.12 461.91h0.85v0.85h-0.85zM405.45 444.3h0.85v0.85h-0.85zM410.16 455.25h0.85v0.85h-0.85zM405.06 423.79h0.85v0.85h-0.85zM403.28 459.14h0.85v0.85h-0.85zM404.47 399.9h0.85v0.85h-0.85zM406.74 411.29h0.85v0.85h-0.85zM410.01 456.03h0.85v0.85h-0.85zM394.98 384.46h0.85v0.85h-0.85zM407.02 467.08h0.85v0.85h-0.85zM408.44 480.42h0.85v0.85h-0.85zM397.24 470.42h0.85v0.85h-0.85zM405.02 395.29h0.85v0.85h-0.85zM396.6 456.77h0.85v0.85h-0.85zM398.51 469.63h0.85v0.85h-0.85zM402.02 397.78h0.85v0.85h-0.85zM396.13 394.76h0.85v0.85h-0.85zM395.16 380.25h0.85v0.85h-0.85zM406.15 390.34h0.85v0.85h-0.85zM407.74 458.06h0.85v0.85h-0.85zM407.4 416.09h0.85v0.85h-0.85zM409.3 385.36h0.85v0.85h-0.85zM396.69 415.56h0.85v0.85h-0.85zM397.89 413.68h0.85v0.85h-0.85zM400.96 455.33h0.85v0.85h-0.85zM397.87 359.86h0.85v0.85h-0.85zM410.78 380.44h0.85v0.85h-0.85zM407.92 415.64h0.85v0.85h-0.85zM401.61 434.77h0.85v0.85h-0.85zM404 453.84h0.85v0.85h-0.85zM411.5 369.45h0.85v0.85h-0.85zM405.68 411.26h0.85v0.85h-0.85zM410.96 416.05h0.85v0.85h-0.85zM395.56 392.64h0.85v0.85h-0.85zM401.4 369.1h0.85v0.85h-0.85zM402.21 462.08h0.85v0.85h-0.85zM397.03 467.08h0.85v0.85h-0.85zM397.45 472.34h0.85v0.85h-0.85zM397.92 464.19h0.85v0.85h-0.85zM405.04 433.24h0.85v0.85h-0.85zM401.6 473.11h0.85v0.85h-0.85zM395.47 461.73h0.85v0.85h-0.85zM403.41 465.07h0.85v0.85h-0.85zM411.07 427.02h0.85v0.85h-0.85zM405.04 408.8h0.85v0.85h-0.85zM399.74 433.82h0.85v0.85h-0.85zM401.9 389.78h0.85v0.85h-0.85zM404.97 406.62h0.85v0.85h-0.85zM396 415.46h0.85v0.85h-0.85zM410.3 447.99h0.85v0.85h-0.85zM399.66 437.98h0.85v0.85h-0.85zM410.88 408.04h0.85v0.85h-0.85zM406.92 417.97h0.85v0.85h-0.85zM408.44 379.66h0.85v0.85h-0.85zM399.03 464.74h0.85v0.85h-0.85zM405.65 408.31h0.85v0.85h-0.85zM407.96 470.35h0.85v0.85h-0.85zM396.55 361.61h0.85v0.85h-0.85zM401.43 464.45h0.85v0.85h-0.85zM402.25 470.33h0.85v0.85h-0.85zM398.31 461.31h0.85v0.85h-0.85zM402.67 472.11h0.85v0.85h-0.85zM397.96 348.22h0.85v0.85h-0.85zM401.72 380.76h0.85v0.85h-0.85zM411.11 471.01h0.85v0.85h-0.85zM401.55 466.75h0.85v0.85h-0.85zM407.23 457.43h0.85v0.85h-0.85zM411.07 461.1h0.85v0.85h-0.85zM407.6 461.17h0.85v0.85h-0.85zM397.49 409.04h0.85v0.85h-0.85zM399.54 416.13h0.85v0.85h-0.85zM397.27 456.45h0.85v0.85h-0.85zM407.03 397.65h0.85v0.85h-0.85zM396.02 367.99h0.85v0.85h-0.85zM394.93 344.59h0.85v0.85h-0.85zM407.18 383.02h0.85v0.85h-0.85zM396.41 405.63h0.85v0.85h-0.85zM400.68 421.74h0.85v0.85h-0.85zM395.72 347.69h0.85v0.85h-0.85zM401.73 404.57h0.85v0.85h-0.85zM401.73 385.77h0.85v0.85h-0.85zM410.38 420.76h0.85v0.85h-0.85zM399.78 436.89h0.85v0.85h-0.85zM397.7 400.46h0.85v0.85h-0.85zM410.82 413.96h0.85v0.85h-0.85zM397.12 472.7h0.85v0.85h-0.85zM407.58 441.84h0.85v0.85h-0.85zM407.49 466.62h0.85v0.85h-0.85zM396.14 440.24h0.85v0.85h-0.85zM410.57 405.29h0.85v0.85h-0.85zM409.65 465.74h0.85v0.85h-0.85zM407.89 410.42h0.85v0.85h-0.85zM401.33 458.54h0.85v0.85h-0.85zM402.42 410.29h0.85v0.85h-0.85zM394.92 427.15h0.85v0.85h-0.85zM411.59 361.5h0.85v0.85h-0.85zM401.57 415.34h0.85v0.85h-0.85zM403.59 434.22h0.85v0.85h-0.85zM403.65 449.11h0.85v0.85h-0.85zM395.33 360.68h0.85v0.85h-0.85zM400.74 405.22h0.85v0.85h-0.85zM403.05 475.52h0.85v0.85h-0.85zM408.81 387.55h0.85v0.85h-0.85zM401.76 408.86h0.85v0.85h-0.85zM406.83 440.11h0.85v0.85h-0.85zM401.64 403.43h0.85v0.85h-0.85zM410.49 354h0.85v0.85h-0.85zM408.53 463.71h0.85v0.85h-0.85zM405.26 397.95h0.85v0.85h-0.85zM397.18 417.09h0.85v0.85h-0.85zM409.42 399.11h0.85v0.85h-0.85zM404.75 436.74h0.85v0.85h-0.85zM404.58 388.32h0.85v0.85h-0.85zM398.02 464.74h0.85v0.85h-0.85zM410.48 402.18h0.85v0.85h-0.85zM402.42 405.98h0.85v0.85h-0.85zM407.1 466.16h0.85v0.85h-0.85zM400.28 408.71h0.85v0.85h-0.85zM395.29 403.86h0.85v0.85h-0.85zM397.09 425.19h0.85v0.85h-0.85zM408.67 404.8h0.85v0.85h-0.85zM395.97 386.1h0.85v0.85h-0.85zM405.34 372.39h0.85v0.85h-0.85zM399.17 403.62h0.85v0.85h-0.85zM407.04 424.77h0.85v0.85h-0.85zM395.62 472.94h0.85v0.85h-0.85zM394.86 411.18h0.85v0.85h-0.85zM405.92 411.54h0.85v0.85h-0.85zM401.89 410.48h0.85v0.85h-0.85zM411.27 408.24h0.85v0.85h-0.85zM409.71 459.82h0.85v0.85h-0.85zM409.8 437.52h0.85v0.85h-0.85zM396.17 441.71h0.85v0.85h-0.85zM410.76 387.74h0.85v0.85h-0.85zM407.14 429.15h0.85v0.85h-0.85zM409.81 430.06h0.85v0.85h-0.85zM397.31 397.26h0.85v0.85h-0.85zM407.06 399.8h0.85v0.85h-0.85zM403.62 435.25h0.85v0.85h-0.85zM401.81 397.86h0.85v0.85h-0.85zM396.24 407.01h0.85v0.85h-0.85zM408.19 470.55h0.85v0.85h-0.85zM400.96 458.82h0.85v0.85h-0.85zM408.38 461.47h0.85v0.85h-0.85zM410.84 401.99h0.85v0.85h-0.85zM395.55 459.68h0.85v0.85h-0.85zM396.07 383.88h0.85v0.85h-0.85zM397.26 445.38h0.85v0.85h-0.85zM395.17 389.96h0.85v0.85h-0.85zM399.8 417.47h0.85v0.85h-0.85zM397.65 430.47h0.85v0.85h-0.85zM405.24 449.35h0.85v0.85h-0.85zM411.01 414.54h0.85v0.85h-0.85zM403.83 434.59h0.85v0.85h-0.85zM399.73 402.51h0.85v0.85h-0.85zM400.5 451.75h0.85v0.85h-0.85zM401.72 384.36h0.85v0.85h-0.85zM397.02 421.23h0.85v0.85h-0.85zM410.34 403.44h0.85v0.85h-0.85zM402.03 459.86h0.85v0.85h-0.85zM405.55 456.79h0.85v0.85h-0.85zM403.93 396.68h0.85v0.85h-0.85zM404.87 377.46h0.85v0.85h-0.85zM396.35 426.9h0.85v0.85h-0.85zM398.74 424.14h0.85v0.85h-0.85zM411.4 443.87h0.85v0.85h-0.85zM395.73 459.61h0.85v0.85h-0.85zM403.97 435.04h0.85v0.85h-0.85zM399.42 466.13h0.85v0.85h-0.85zM400.88 382.6h0.85v0.85h-0.85zM408.93 410.61h0.85v0.85h-0.85zM404.76 464.26h0.85v0.85h-0.85zM402.01 456.93h0.85v0.85h-0.85zM401.99 405.92h0.85v0.85h-0.85zM400.09 446.73h0.85v0.85h-0.85zM402.35 460.92h0.85v0.85h-0.85zM403.26 403.23h0.85v0.85h-0.85zM400.74 463.18h0.85v0.85h-0.85zM403.3 408.94h0.85v0.85h-0.85zM408.12 470.04h0.85v0.85h-0.85zM398.85 452.16h0.85v0.85h-0.85zM406.05 437.39h0.85v0.85h-0.85zM403.54 407.76h0.85v0.85h-0.85zM410.15 391.51h0.85v0.85h-0.85zM405.63 445.15h0.85v0.85h-0.85zM407.56 460.26h0.85v0.85h-0.85zM404.98 410.87h0.85v0.85h-0.85zM406.23 386.85h0.85v0.85h-0.85zM403.57 412.91h0.85v0.85h-0.85zM399.62 461.01h0.85v0.85h-0.85zM408.18 395.67h0.85v0.85h-0.85zM409.93 407.13h0.85v0.85h-0.85zM397.3 467.15h0.85v0.85h-0.85zM410.62 430.29h0.85v0.85h-0.85zM405.48 442.66h0.85v0.85h-0.85zM402 388.7h0.85v0.85h-0.85zM394.62 459.69h0.85v0.85h-0.85zM399.84 450.96h0.85v0.85h-0.85zM408.78 406.71h0.85v0.85h-0.85zM403.09 412.68h0.85v0.85h-0.85zM399.75 480.37h0.85v0.85h-0.85zM399.97 471.7h0.85v0.85h-0.85zM395.52 434.19h0.85v0.85h-0.85zM402.51 474.12h0.85v0.85h-0.85zM410.96 421.59h0.85v0.85h-0.85zM395 416.1h0.85v0.85h-0.85zM394.99 410.46h0.85v0.85h-0.85zM409.44 367.46h0.85v0.85h-0.85zM406.84 458.37h0.85v0.85h-0.85zM401.06 441.32h0.85v0.85h-0.85zM399.71 431.56h0.85v0.85h-0.85zM407.87 439.51h0.85v0.85h-0.85zM399.17 413.5h0.85v0.85h-0.85zM398.31 410.09h0.85v0.85h-0.85zM408.77 466.38h0.85v0.85h-0.85zM396.36 408.38h0.85v0.85h-0.85zM407.45 422.15h0.85v0.85h-0.85zM407.51 407.1h0.85v0.85h-0.85zM397.96 413.07h0.85v0.85h-0.85zM406.81 459.73h0.85v0.85h-0.85zM406.57 414.01h0.85v0.85h-0.85zM407.57 408.54h0.85v0.85h-0.85zM404.2 443.4h0.85v0.85h-0.85zM405.35 408.2h0.85v0.85h-0.85zM411.11 403.32h0.85v0.85h-0.85zM407.45 430.35h0.85v0.85h-0.85zM396.59 374.84h0.85v0.85h-0.85zM397.85 410.15h0.85v0.85h-0.85zM404.9 413.45h0.85v0.85h-0.85zM396.51 457.56h0.85v0.85h-0.85zM396.72 444.89h0.85v0.85h-0.85zM409.21 456.64h0.85v0.85h-0.85zM400.53 449.93h0.85v0.85h-0.85zM406.92 411.26h0.85v0.85h-0.85zM396.56 462.37h0.85v0.85h-0.85zM409.46 405.24h0.85v0.85h-0.85zM398.3 457.85h0.85v0.85h-0.85zM395.41 390.99h0.85v0.85h-0.85zM409.02 406.73h0.85v0.85h-0.85zM397.51 431.39h0.85v0.85h-0.85zM396.33 391.23h0.85v0.85h-0.85zM396.89 413.95h0.85v0.85h-0.85zM404.02 384.1h0.85v0.85h-0.85zM394.79 390.98h0.85v0.85h-0.85zM407.85 367.17h0.85v0.85h-0.85zM394.75 444.77h0.85v0.85h-0.85zM409.22 470.64h0.85v0.85h-0.85zM409.67 354.16h0.85v0.85h-0.85zM398.29 345.2h0.85v0.85h-0.85zM403.95 386.53h0.85v0.85h-0.85zM398.31 443.89h0.85v0.85h-0.85zM407.97 434.2h0.85v0.85h-0.85zM397.48 376.82h0.85v0.85h-0.85zM394.68 458.01h0.85v0.85h-0.85zM399.21 407.63h0.85v0.85h-0.85zM394.83 434.23h0.85v0.85h-0.85zM404.87 346.36h0.85v0.85h-0.85zM395.51 452.03h0.85v0.85h-0.85zM398.18 437.62h0.85v0.85h-0.85zM405.83 460.06h0.85v0.85h-0.85zM398.69 439.43h0.85v0.85h-0.85zM411.23 419.09h0.85v0.85h-0.85zM405.94 423.27h0.85v0.85h-0.85zM399.4 457.14h0.85v0.85h-0.85zM411.16 408.27h0.85v0.85h-0.85zM397.59 449.99h0.85v0.85h-0.85zM400.03 426.17h0.85v0.85h-0.85zM406.08 445.55h0.85v0.85h-0.85zM404.16 462.49h0.85v0.85h-0.85zM403.44 388h0.85v0.85h-0.85zM402.5 384.47h0.85v0.85h-0.85zM400.79 416.14h0.85v0.85h-0.85zM397.4 404.01h0.85v0.85h-0.85zM405.77 405.49h0.85v0.85h-0.85zM402.76 392.79h0.85v0.85h-0.85zM411.03 471.08h0.85v0.85h-0.85zM403.36 456.53h0.85v0.85h-0.85zM402.79 432.95h0.85v0.85h-0.85zM402.09 464.1h0.85v0.85h-0.85zM409.67 372.76h0.85v0.85h-0.85zM410.11 400.36h0.85v0.85h-0.85zM399.4 464.54h0.85v0.85h-0.85zM409.31 404.59h0.85v0.85h-0.85zM402.96 464.67h0.85v0.85h-0.85zM403.17 383.38h0.85v0.85h-0.85zM400.79 466.84h0.85v0.85h-0.85zM409.81 442.1h0.85v0.85h-0.85zM400.46 427.11h0.85v0.85h-0.85zM399.42 434.03h0.85v0.85h-0.85zM398.27 460.91h0.85v0.85h-0.85zM403.55 457.24h0.85v0.85h-0.85zM409.94 400.84h0.85v0.85h-0.85zM397.11 469.08h0.85v0.85h-0.85zM409.78 410.58h0.85v0.85h-0.85zM407.13 387.99h0.85v0.85h-0.85zM402.55 407.71h0.85v0.85h-0.85zM395.36 408.32h0.85v0.85h-0.85zM410.18 421.74h0.85v0.85h-0.85zM406.6 398.41h0.85v0.85h-0.85zM409.77 384.9h0.85v0.85h-0.85zM398.64 361.02h0.85v0.85h-0.85zM405.35 403.85h0.85v0.85h-0.85zM406.02 424.11h0.85v0.85h-0.85zM409.22 431.77h0.85v0.85h-0.85zM398.3 396.28h0.85v0.85h-0.85zM407.83 430.51h0.85v0.85h-0.85zM410.02 417.63h0.85v0.85h-0.85zM409.6 404.06h0.85v0.85h-0.85zM406.95 422.88h0.85v0.85h-0.85zM409.84 474.35h0.85v0.85h-0.85zM406.24 459.02h0.85v0.85h-0.85zM406.96 411.31h0.85v0.85h-0.85zM404.34 436.98h0.85v0.85h-0.85zM409.65 386.74h0.85v0.85h-0.85zM410.63 459.75h0.85v0.85h-0.85zM400.44 419.75h0.85v0.85h-0.85zM409.92 434.1h0.85v0.85h-0.85zM400.68 413.1h0.85v0.85h-0.85zM411.56 443.16h0.85v0.85h-0.85zM408.2 438.62h0.85v0.85h-0.85zM395.83 418.33h0.85v0.85h-0.85zM402.78 464.5h0.85v0.85h-0.85zM399.51 443.57h0.85v0.85h-0.85zM397.21 460.45h0.85v0.85h-0.85zM410.09 427.83h0.85v0.85h-0.85zM395.7 455.27h0.85v0.85h-0.85zM411.03 462.53h0.85v0.85h-0.85zM398.71 468.28h0.85v0.85h-0.85zM403.88 348.36h0.85v0.85h-0.85zM396.98 442.5h0.85v0.85h-0.85zM395.5 420.93h0.85v0.85h-0.85zM410.2 382.9h0.85v0.85h-0.85zM399.33 437.59h0.85v0.85h-0.85zM397.03 432.22h0.85v0.85h-0.85zM406.5 411.95h0.85v0.85h-0.85zM396.15 408.38h0.85v0.85h-0.85zM396.26 469.54h0.85v0.85h-0.85zM401.72 437.18h0.85v0.85h-0.85zM407.13 427.13h0.85v0.85h-0.85zM402.09 405.29h0.85v0.85h-0.85zM402.02 409.57h0.85v0.85h-0.85zM401.8 439.81h0.85v0.85h-0.85zM406 458.26h0.85v0.85h-0.85zM401.24 447.3h0.85v0.85h-0.85zM404.26 407.34h0.85v0.85h-0.85zM402.94 441.01h0.85v0.85h-0.85zM397.8 478.25h0.85v0.85h-0.85zM411.18 426.1h0.85v0.85h-0.85zM407.17 405.87h0.85v0.85h-0.85zM410.08 450.65h0.85v0.85h-0.85zM399.79 413.84h0.85v0.85h-0.85zM407.31 454.42h0.85v0.85h-0.85zM403.43 437.31h0.85v0.85h-0.85zM402.71 381.04h0.85v0.85h-0.85zM407.31 411.13h0.85v0.85h-0.85zM403.15 474.58h0.85v0.85h-0.85zM401.06 460.65h0.85v0.85h-0.85zM405.77 416.19h0.85v0.85h-0.85zM402.51 394.96h0.85v0.85h-0.85zM400.57 373.39h0.85v0.85h-0.85zM411.37 463.85h0.85v0.85h-0.85zM404.26 404.03h0.85v0.85h-0.85zM395.11 424.47h0.85v0.85h-0.85zM405.92 391.29h0.85v0.85h-0.85zM409.51 386.77h0.85v0.85h-0.85zM399.23 466.11h0.85v0.85h-0.85zM395.9 362.58h0.85v0.85h-0.85zM409.78 381.07h0.85v0.85h-0.85zM411.32 440.12h0.85v0.85h-0.85zM407.84 441.96h0.85v0.85h-0.85zM405.64 417.6h0.85v0.85h-0.85zM397.14 468.19h0.85v0.85h-0.85zM395.16 380.49h0.85v0.85h-0.85zM399.62 413.4h0.85v0.85h-0.85zM401.66 407.77h0.85v0.85h-0.85zM402.51 425.17h0.85v0.85h-0.85zM409.52 408.25h0.85v0.85h-0.85zM407.86 394.6h0.85v0.85h-0.85zM395.11 449.79h0.85v0.85h-0.85zM410.16 414.19h0.85v0.85h-0.85zM396.03 422.34h0.85v0.85h-0.85zM397.37 458.23h0.85v0.85h-0.85zM407.32 425.99h0.85v0.85h-0.85zM411.33 347.41h0.85v0.85h-0.85zM394.86 379.81h0.85v0.85h-0.85zM395.03 405.47h0.85v0.85h-0.85zM401.95 442.71h0.85v0.85h-0.85zM404.46 423.82h0.85v0.85h-0.85zM400.66 381.92h0.85v0.85h-0.85zM409.63 469.88h0.85v0.85h-0.85zM403.02 428.92h0.85v0.85h-0.85zM410.12 460.39h0.85v0.85h-0.85zM401.72 365.48h0.85v0.85h-0.85zM407.41 481.12h0.85v0.85h-0.85zM406.24 442.96h0.85v0.85h-0.85zM406.66 374.45h0.85v0.85h-0.85zM395.68 425.58h0.85v0.85h-0.85zM398.1 388.04h0.85v0.85h-0.85zM398.38 411.69h0.85v0.85h-0.85zM406.59 442.35h0.85v0.85h-0.85zM404.72 459.9h0.85v0.85h-0.85zM403.16 435.39h0.85v0.85h-0.85zM406.86 448.58h0.85v0.85h-0.85zM408.2 379.77h0.85v0.85h-0.85zM411.36 479.08h0.85v0.85h-0.85zM398.4 407.63h0.85v0.85h-0.85zM408.52 468.58h0.85v0.85h-0.85zM403.55 381.43h0.85v0.85h-0.85zM395.93 437.8h0.85v0.85h-0.85zM398.21 471.87h0.85v0.85h-0.85zM397.99 463.71h0.85v0.85h-0.85zM398.31 363.31h0.85v0.85h-0.85zM406.69 374.76h0.85v0.85h-0.85zM398.66 433.17h0.85v0.85h-0.85zM399.1 459.07h0.85v0.85h-0.85zM398.77 412.93h0.85v0.85h-0.85zM410.42 428.16h0.85v0.85h-0.85zM408.78 458.82h0.85v0.85h-0.85zM406.19 462.71h0.85v0.85h-0.85zM403.78 404.35h0.85v0.85h-0.85zM403.8 416.64h0.85v0.85h-0.85zM397.69 412.26h0.85v0.85h-0.85zM405.95 463.18h0.85v0.85h-0.85zM403.03 432.72h0.85v0.85h-0.85zM402.94 387.38h0.85v0.85h-0.85zM401.98 367.93h0.85v0.85h-0.85zM403.11 411.82h0.85v0.85h-0.85zM397.24 440.37h0.85v0.85h-0.85zM396.93 384.88h0.85v0.85h-0.85zM405.93 406.36h0.85v0.85h-0.85zM401.98 391.56h0.85v0.85h-0.85zM408.95 368.6h0.85v0.85h-0.85zM409.67 464.34h0.85v0.85h-0.85zM396.24 461.33h0.85v0.85h-0.85zM399.4 418.02h0.85v0.85h-0.85zM404.18 412.5h0.85v0.85h-0.85zM408.59 464.17h0.85v0.85h-0.85zM405.89 388.14h0.85v0.85h-0.85zM404.53 466.39h0.85v0.85h-0.85zM407.15 402.47h0.85v0.85h-0.85zM397.87 378.43h0.85v0.85h-0.85zM400.41 359.69h0.85v0.85h-0.85zM406.65 418.25h0.85v0.85h-0.85zM395.7 403.29h0.85v0.85h-0.85zM396.22 428.81h0.85v0.85h-0.85zM404.27 455.93h0.85v0.85h-0.85zM403.67 414.82h0.85v0.85h-0.85zM404.53 376.65h0.85v0.85h-0.85zM411.01 424.37h0.85v0.85h-0.85zM409.93 472.64h0.85v0.85h-0.85zM398.47 369.13h0.85v0.85h-0.85zM410.1 476.24h0.85v0.85h-0.85zM406.06 472.07h0.85v0.85h-0.85zM400.84 392.54h0.85v0.85h-0.85zM408.46 413.26h0.85v0.85h-0.85zM404.6 395.44h0.85v0.85h-0.85zM410.72 431.86h0.85v0.85h-0.85zM407.65 458.53h0.85v0.85h-0.85zM402.37 456.71h0.85v0.85h-0.85zM403.33 413.54h0.85v0.85h-0.85zM410.52 398.24h0.85v0.85h-0.85zM404.05 363.99h0.85v0.85h-0.85zM410.75 467.26h0.85v0.85h-0.85zM399.46 403.32h0.85v0.85h-0.85zM411.5 401.69h0.85v0.85h-0.85zM401.25 459.5h0.85v0.85h-0.85zM404.07 474.57h0.85v0.85h-0.85zM405.61 407.11h0.85v0.85h-0.85zM409.44 435.05h0.85v0.85h-0.85zM411.2 406.73h0.85v0.85h-0.85zM398.73 457.37h0.85v0.85h-0.85zM396.23 404.9h0.85v0.85h-0.85zM401.75 463.98h0.85v0.85h-0.85zM405.07 463.41h0.85v0.85h-0.85zM396.73 367.77h0.85v0.85h-0.85zM397.45 445.81h0.85v0.85h-0.85zM407.78 381.45h0.85v0.85h-0.85zM401.3 479.92h0.85v0.85h-0.85zM411.51 477.11h0.85v0.85h-0.85zM404.11 422h0.85v0.85h-0.85zM410.96 405.15h0.85v0.85h-0.85zM407.02 466.47h0.85v0.85h-0.85zM399.88 411.61h0.85v0.85h-0.85zM410.47 360.48h0.85v0.85h-0.85zM400.26 435.9h0.85v0.85h-0.85zM405.62 380.54h0.85v0.85h-0.85zM408.49 474.81h0.85v0.85h-0.85zM406.38 385.62h0.85v0.85h-0.85zM411.03 362.08h0.85v0.85h-0.85zM402.08 453.42h0.85v0.85h-0.85zM402.64 437.44h0.85v0.85h-0.85zM404.63 423.11h0.85v0.85h-0.85zM405.87 465.08h0.85v0.85h-0.85zM402.85 474.39h0.85v0.85h-0.85zM405.68 460.35h0.85v0.85h-0.85zM407.95 455.55h0.85v0.85h-0.85zM409.34 419.37h0.85v0.85h-0.85zM395.33 412.8h0.85v0.85h-0.85zM410.91 344.35h0.85v0.85h-0.85zM400.28 412.11h0.85v0.85h-0.85zM395.97 474.67h0.85v0.85h-0.85zM407.64 405.02h0.85v0.85h-0.85zM404.73 420.12h0.85v0.85h-0.85zM407.77 373.13h0.85v0.85h-0.85zM402.84 390.62h0.85v0.85h-0.85zM411.33 421.68h0.85v0.85h-0.85zM398.93 410.02h0.85v0.85h-0.85zM402.4 415.34h0.85v0.85h-0.85zM405.49 448.03h0.85v0.85h-0.85zM401.77 471.21h0.85v0.85h-0.85zM401.57 466.47h0.85v0.85h-0.85zM404.6 396.35h0.85v0.85h-0.85zM398.58 413.8h0.85v0.85h-0.85zM410.74 448.38h0.85v0.85h-0.85zM410.4 410.43h0.85v0.85h-0.85zM399.3 451.33h0.85v0.85h-0.85zM402.09 359.24h0.85v0.85h-0.85zM404.21 465.2h0.85v0.85h-0.85zM408.09 418.09h0.85v0.85h-0.85zM408.64 439.32h0.85v0.85h-0.85zM405.56 424.81h0.85v0.85h-0.85zM410.27 411.81h0.85v0.85h-0.85zM397.98 463.2h0.85v0.85h-0.85zM394.79 414.58h0.85v0.85h-0.85zM409.88 359.68h0.85v0.85h-0.85zM409.06 460.6h0.85v0.85h-0.85zM399.54 409.37h0.85v0.85h-0.85zM403.96 371.91h0.85v0.85h-0.85zM404.21 408.73h0.85v0.85h-0.85zM404.83 425.6h0.85v0.85h-0.85zM399.17 428.23h0.85v0.85h-0.85zM398.02 415.87h0.85v0.85h-0.85zM398.28 452.99h0.85v0.85h-0.85zM410.89 399.17h0.85v0.85h-0.85zM410.81 469.5h0.85v0.85h-0.85zM403.32 417.14h0.85v0.85h-0.85zM406.49 438.43h0.85v0.85h-0.85zM406.05 458.57h0.85v0.85h-0.85zM408.63 395.28h0.85v0.85h-0.85zM399.62 414.61h0.85v0.85h-0.85zM395.16 407.97h0.85v0.85h-0.85zM405.53 458.65h0.85v0.85h-0.85zM405.66 456.08h0.85v0.85h-0.85zM395.87 382.41h0.85v0.85h-0.85zM410.71 452.53h0.85v0.85h-0.85zM406.74 440.55h0.85v0.85h-0.85zM398.91 473.53h0.85v0.85h-0.85zM395.63 384.19h0.85v0.85h-0.85zM396.39 361.55h0.85v0.85h-0.85zM409.78 399.79h0.85v0.85h-0.85zM403.78 463.51h0.85v0.85h-0.85zM402.32 377.02h0.85v0.85h-0.85zM411.54 466.02h0.85v0.85h-0.85zM395.84 369.17h0.85v0.85h-0.85zM403.37 409.11h0.85v0.85h-0.85zM407.61 363.78h0.85v0.85h-0.85zM401.64 411.14h0.85v0.85h-0.85zM408.46 396.59h0.85v0.85h-0.85zM398.77 412.62h0.85v0.85h-0.85zM409.69 411.13h0.85v0.85h-0.85zM403.71 465.32h0.85v0.85h-0.85zM408.07 459.91h0.85v0.85h-0.85zM408.51 408.82h0.85v0.85h-0.85zM402.45 453.95h0.85v0.85h-0.85zM403.77 410.58h0.85v0.85h-0.85zM405.17 432.67h0.85v0.85h-0.85zM409.31 399.45h0.85v0.85h-0.85zM396.55 384.13h0.85v0.85h-0.85zM395.02 474.67h0.85v0.85h-0.85zM403.39 433.12h0.85v0.85h-0.85zM408.1 441.4h0.85v0.85h-0.85zM409.35 450.74h0.85v0.85h-0.85zM400.01 379.55h0.85v0.85h-0.85zM403.01 443.96h0.85v0.85h-0.85zM406.65 381.78h0.85v0.85h-0.85zM394.9 458.63h0.85v0.85h-0.85zM397.77 372.29h0.85v0.85h-0.85zM406.52 466.68h0.85v0.85h-0.85zM408.43 369.39h0.85v0.85h-0.85zM409.38 459.73h0.85v0.85h-0.85zM408.43 418.88h0.85v0.85h-0.85zM401.98 459.63h0.85v0.85h-0.85zM396.44 456.53h0.85v0.85h-0.85zM397.63 462.33h0.85v0.85h-0.85zM408.91 461.17h0.85v0.85h-0.85zM409.35 413.95h0.85v0.85h-0.85zM410.03 465.36h0.85v0.85h-0.85zM409.75 466.01h0.85v0.85h-0.85zM400.02 477.42h0.85v0.85h-0.85zM406.55 389.33h0.85v0.85h-0.85zM401.57 414.09h0.85v0.85h-0.85zM411.53 464.02h0.85v0.85h-0.85zM396.52 402.73h0.85v0.85h-0.85zM408.48 465.63h0.85v0.85h-0.85zM403.75 412.92h0.85v0.85h-0.85zM401.55 466.53h0.85v0.85h-0.85zM403.38 380.71h0.85v0.85h-0.85zM411.15 447.18h0.85v0.85h-0.85zM401.41 401.64h0.85v0.85h-0.85zM398.78 428.07h0.85v0.85h-0.85zM409.49 371.09h0.85v0.85h-0.85zM410.75 442.95h0.85v0.85h-0.85zM410.6 397.36h0.85v0.85h-0.85zM404.16 463.08h0.85v0.85h-0.85zM398.14 414.86h0.85v0.85h-0.85zM397.63 405.71h0.85v0.85h-0.85zM402.45 465.77h0.85v0.85h-0.85zM397.69 458.16h0.85v0.85h-0.85zM396.11 413.52h0.85v0.85h-0.85zM397.61 468.88h0.85v0.85h-0.85zM411.56 458.22h0.85v0.85h-0.85zM396.39 470.54h0.85v0.85h-0.85zM400.36 401.37h0.85v0.85h-0.85zM406.06 361.34h0.85v0.85h-0.85zM404.9 405.41h0.85v0.85h-0.85zM397.62 463.91h0.85v0.85h-0.85zM398.76 407.84h0.85v0.85h-0.85zM401.2 405.91h0.85v0.85h-0.85zM407 448.96h0.85v0.85h-0.85zM410.27 455.15h0.85v0.85h-0.85zM402.46 369.96h0.85v0.85h-0.85zM405.23 397.07h0.85v0.85h-0.85zM396.94 457.61h0.85v0.85h-0.85zM405.43 445.52h0.85v0.85h-0.85zM409.56 436.15h0.85v0.85h-0.85zM399.46 352.88h0.85v0.85h-0.85zM397.2 413.83h0.85v0.85h-0.85zM410.61 444.62h0.85v0.85h-0.85zM409.08 395.02h0.85v0.85h-0.85zM411.44 465.42h0.85v0.85h-0.85zM400.12 466.63h0.85v0.85h-0.85zM406.49 366.86h0.85v0.85h-0.85zM405.47 462.61h0.85v0.85h-0.85zM400.31 408.77h0.85v0.85h-0.85zM395.33 427.12h0.85v0.85h-0.85zM405.67 479.54h0.85v0.85h-0.85zM410.42 464.97h0.85v0.85h-0.85zM402.56 457.96h0.85v0.85h-0.85zM408.67 459.99h0.85v0.85h-0.85zM400.91 433.25h0.85v0.85h-0.85zM396.08 464.18h0.85v0.85h-0.85zM402.96 426.01h0.85v0.85h-0.85zM404.64 454.13h0.85v0.85h-0.85zM402.97 462.66h0.85v0.85h-0.85zM410.34 389.97h0.85v0.85h-0.85zM410.71 440.28h0.85v0.85h-0.85zM394.77 409.54h0.85v0.85h-0.85zM404.55 419.22h0.85v0.85h-0.85zM402.61 461.65h0.85v0.85h-0.85zM408.96 380.51h0.85v0.85h-0.85zM395.58 462.33h0.85v0.85h-0.85zM404.96 470.94h0.85v0.85h-0.85zM411.05 383.59h0.85v0.85h-0.85zM408.76 389.92h0.85v0.85h-0.85zM410.63 435.19h0.85v0.85h-0.85zM409.8 435.93h0.85v0.85h-0.85zM405.4 463.05h0.85v0.85h-0.85zM404.89 465.78h0.85v0.85h-0.85zM406.8 414.53h0.85v0.85h-0.85zM405.4 355.81h0.85v0.85h-0.85zM399.06 414.33h0.85v0.85h-0.85zM406.12 400.15h0.85v0.85h-0.85zM400.8 435.2h0.85v0.85h-0.85zM395.35 366.3h0.85v0.85h-0.85zM399.06 464.95h0.85v0.85h-0.85zM404.44 454.27h0.85v0.85h-0.85zM396.69 424.02h0.85v0.85h-0.85zM395.08 432.07h0.85v0.85h-0.85zM406.29 414.12h0.85v0.85h-0.85zM397.94 420.18h0.85v0.85h-0.85zM408.79 381.1h0.85v0.85h-0.85zM399.96 464.27h0.85v0.85h-0.85zM397.71 437.3h0.85v0.85h-0.85zM397.81 419.75h0.85v0.85h-0.85zM396.37 386.93h0.85v0.85h-0.85zM399.28 419.59h0.85v0.85h-0.85zM398.19 464.11h0.85v0.85h-0.85zM401.76 429.04h0.85v0.85h-0.85zM410.93 397.92h0.85v0.85h-0.85zM399.4 389.78h0.85v0.85h-0.85zM406.55 439.41h0.85v0.85h-0.85zM406.57 417.13h0.85v0.85h-0.85zM398.02 435.59h0.85v0.85h-0.85zM397.5 459.89h0.85v0.85h-0.85zM406.73 462.09h0.85v0.85h-0.85zM407.09 450.18h0.85v0.85h-0.85zM407.75 459.03h0.85v0.85h-0.85zM403.21 465.43h0.85v0.85h-0.85zM394.95 474.02h0.85v0.85h-0.85zM400.83 383.5h0.85v0.85h-0.85zM398.01 400.39h0.85v0.85h-0.85zM404.76 376.98h0.85v0.85h-0.85zM397.46 479.82h0.85v0.85h-0.85zM409.94 381.43h0.85v0.85h-0.85zM409.77 467.47h0.85v0.85h-0.85zM401.46 348.41h0.85v0.85h-0.85zM400.95 453.57h0.85v0.85h-0.85zM408.58 395.97h0.85v0.85h-0.85zM406.29 458.62h0.85v0.85h-0.85zM406.48 400.68h0.85v0.85h-0.85zM397.52 418.7h0.85v0.85h-0.85zM408.74 425.45h0.85v0.85h-0.85zM406.01 398.46h0.85v0.85h-0.85zM399.24 408.93h0.85v0.85h-0.85zM395.89 418.48h0.85v0.85h-0.85zM397.21 410.72h0.85v0.85h-0.85zM407.3 399.31h0.85v0.85h-0.85zM398.19 453.59h0.85v0.85h-0.85zM411.16 458.03h0.85v0.85h-0.85zM405.87 386.08h0.85v0.85h-0.85zM396.57 398.22h0.85v0.85h-0.85zM410.14 374.76h0.85v0.85h-0.85zM401.79 412.63h0.85v0.85h-0.85zM404.41 458.5h0.85v0.85h-0.85zM410.7 409.18h0.85v0.85h-0.85zM406.78 460.58h0.85v0.85h-0.85zM404.07 466.19h0.85v0.85h-0.85zM401.94 420.08h0.85v0.85h-0.85zM397.89 383.09h0.85v0.85h-0.85zM408.78 428.95h0.85v0.85h-0.85zM398.18 457.7h0.85v0.85h-0.85zM402.59 421.33h0.85v0.85h-0.85zM397.1 462.44h0.85v0.85h-0.85zM409.34 380.22h0.85v0.85h-0.85zM400.26 460.84h0.85v0.85h-0.85zM397.89 458.03h0.85v0.85h-0.85zM410.6 371.12h0.85v0.85h-0.85zM405.82 475.16h0.85v0.85h-0.85zM395.96 455.75h0.85v0.85h-0.85zM399.57 374.71h0.85v0.85h-0.85zM405.17 438.59h0.85v0.85h-0.85zM404.57 407.68h0.85v0.85h-0.85zM399.67 440.02h0.85v0.85h-0.85zM404.22 460.89h0.85v0.85h-0.85zM395.54 441.09h0.85v0.85h-0.85zM394.85 443.66h0.85v0.85h-0.85zM398.08 368.58h0.85v0.85h-0.85zM402.17 462.81h0.85v0.85h-0.85zM405.92 460.35h0.85v0.85h-0.85zM397.38 365.74h0.85v0.85h-0.85zM404.75 463.26h0.85v0.85h-0.85zM398.04 369.83h0.85v0.85h-0.85zM406.81 417.78h0.85v0.85h-0.85zM408.68 417.97h0.85v0.85h-0.85zM400.95 359.73h0.85v0.85h-0.85zM404.08 383.52h0.85v0.85h-0.85zM401.98 463.26h0.85v0.85h-0.85zM397.4 414.95h0.85v0.85h-0.85zM406.38 393.17h0.85v0.85h-0.85zM407.96 447.92h0.85v0.85h-0.85zM399.53 477.87h0.85v0.85h-0.85zM411.17 380.65h0.85v0.85h-0.85zM409.03 396.61h0.85v0.85h-0.85zM410.67 394.39h0.85v0.85h-0.85zM406 358.59h0.85v0.85h-0.85zM404.33 464.21h0.85v0.85h-0.85zM411.34 412.27h0.85v0.85h-0.85zM403.86 456.57h0.85v0.85h-0.85zM411.44 426.11h0.85v0.85h-0.85zM399.78 404.16h0.85v0.85h-0.85zM405.87 425.58h0.85v0.85h-0.85zM411.51 433.68h0.85v0.85h-0.85zM403.79 417.49h0.85v0.85h-0.85zM398.42 463.62h0.85v0.85h-0.85zM399.17 449.86h0.85v0.85h-0.85zM399.02 353.24h0.85v0.85h-0.85zM401.13 460.09h0.85v0.85h-0.85zM404.33 457.86h0.85v0.85h-0.85zM396.45 418.29h0.85v0.85h-0.85zM405.42 362.92h0.85v0.85h-0.85zM399.89 404.82h0.85v0.85h-0.85zM408.43 415.48h0.85v0.85h-0.85zM398.88 457.86h0.85v0.85h-0.85zM407.52 465.71h0.85v0.85h-0.85zM396.3 371.88h0.85v0.85h-0.85zM408.16 386.55h0.85v0.85h-0.85zM405.89 423.61h0.85v0.85h-0.85zM400.81 422.44h0.85v0.85h-0.85zM399.67 470.99h0.85v0.85h-0.85zM405.87 465.05h0.85v0.85h-0.85zM411.04 422.35h0.85v0.85h-0.85zM396.13 448.17h0.85v0.85h-0.85zM409.61 419.27h0.85v0.85h-0.85zM410.99 394.88h0.85v0.85h-0.85zM402.73 402.49h0.85v0.85h-0.85zM397.84 384.04h0.85v0.85h-0.85zM408.18 414.76h0.85v0.85h-0.85zM405.98 386.61h0.85v0.85h-0.85zM404.56 444.48h0.85v0.85h-0.85zM401.06 438.68h0.85v0.85h-0.85zM406.85 405.05h0.85v0.85h-0.85zM405.41 474.81h0.85v0.85h-0.85zM400.45 399.93h0.85v0.85h-0.85zM408.84 404.89h0.85v0.85h-0.85zM402.58 445.3h0.85v0.85h-0.85zM401.87 451.1h0.85v0.85h-0.85zM404.2 471.4h0.85v0.85h-0.85zM411 432.51h0.85v0.85h-0.85zM396.29 441.16h0.85v0.85h-0.85zM401.11 405.98h0.85v0.85h-0.85zM409.43 416.7h0.85v0.85h-0.85zM409.88 440.25h0.85v0.85h-0.85zM399.15 404.57h0.85v0.85h-0.85zM404.95 460.58h0.85v0.85h-0.85zM403.07 409.49h0.85v0.85h-0.85zM399.92 406.58h0.85v0.85h-0.85zM410.56 407.72h0.85v0.85h-0.85zM400.29 430.93h0.85v0.85h-0.85zM405 402.29h0.85v0.85h-0.85zM406.44 390.59h0.85v0.85h-0.85zM396.53 377.33h0.85v0.85h-0.85zM407.51 435.67h0.85v0.85h-0.85zM404.8 364.46h0.85v0.85h-0.85zM397.03 431.88h0.85v0.85h-0.85zM404.79 429.74h0.85v0.85h-0.85zM407.51 386.69h0.85v0.85h-0.85zM400.24 381.68h0.85v0.85h-0.85zM397.16 386.38h0.85v0.85h-0.85zM398 406.2h0.85v0.85h-0.85zM410.03 463.14h0.85v0.85h-0.85zM409.38 410.42h0.85v0.85h-0.85zM401.75 385.86h0.85v0.85h-0.85zM397.49 420.09h0.85v0.85h-0.85zM399.49 392.01h0.85v0.85h-0.85zM405.89 412.67h0.85v0.85h-0.85zM410.87 442.12h0.85v0.85h-0.85zM406.26 404.32h0.85v0.85h-0.85zM408.02 381.06h0.85v0.85h-0.85zM403.69 462.69h0.85v0.85h-0.85zM402.61 473h0.85v0.85h-0.85zM394.94 391.14h0.85v0.85h-0.85zM405.04 403.13h0.85v0.85h-0.85zM403.06 469.93h0.85v0.85h-0.85zM397.43 429.59h0.85v0.85h-0.85zM408.58 426.98h0.85v0.85h-0.85zM399.67 413.78h0.85v0.85h-0.85zM396.68 387.98h0.85v0.85h-0.85zM410.05 460.96h0.85v0.85h-0.85zM407.74 407.24h0.85v0.85h-0.85zM407.44 437.44h0.85v0.85h-0.85zM406.24 436.72h0.85v0.85h-0.85zM409.84 443.2h0.85v0.85h-0.85zM399.38 456.94h0.85v0.85h-0.85zM409.31 430.36h0.85v0.85h-0.85zM410.82 428.66h0.85v0.85h-0.85zM399.53 462.65h0.85v0.85h-0.85zM395.53 466.85h0.85v0.85h-0.85zM408.64 427.82h0.85v0.85h-0.85zM410.19 413.62h0.85v0.85h-0.85zM395.11 473.72h0.85v0.85h-0.85zM411.45 439.73h0.85v0.85h-0.85zM407.65 417.31h0.85v0.85h-0.85zM403.21 430.42h0.85v0.85h-0.85zM409.19 367.5h0.85v0.85h-0.85zM399.87 408.91h0.85v0.85h-0.85zM404.15 434.59h0.85v0.85h-0.85zM405.22 396.01h0.85v0.85h-0.85zM404.15 407.42h0.85v0.85h-0.85zM403.96 446.9h0.85v0.85h-0.85zM399.04 412.36h0.85v0.85h-0.85zM398.18 417.62h0.85v0.85h-0.85zM411.35 464.03h0.85v0.85h-0.85zM400.31 392.42h0.85v0.85h-0.85zM399.13 475.1h0.85v0.85h-0.85zM406.62 420.95h0.85v0.85h-0.85zM400.41 375.34h0.85v0.85h-0.85zM396 440.91h0.85v0.85h-0.85zM405.56 375.73h0.85v0.85h-0.85zM397.15 471.05h0.85v0.85h-0.85zM401.95 435.06h0.85v0.85h-0.85zM400.85 420.55h0.85v0.85h-0.85zM408.41 460.5h0.85v0.85h-0.85zM402.66 465.14h0.85v0.85h-0.85zM406.21 415.47h0.85v0.85h-0.85zM398.48 416.55h0.85v0.85h-0.85zM401 463.82h0.85v0.85h-0.85zM409.23 424.16h0.85v0.85h-0.85zM402.57 446.22h0.85v0.85h-0.85zM405.72 421.65h0.85v0.85h-0.85zM403.67 426.31h0.85v0.85h-0.85zM402.45 430.26h0.85v0.85h-0.85zM398.84 421.51h0.85v0.85h-0.85zM395.69 474.28h0.85v0.85h-0.85zM407.85 464.65h0.85v0.85h-0.85zM406.91 437.68h0.85v0.85h-0.85zM405.25 457.8h0.85v0.85h-0.85zM399.77 454.28h0.85v0.85h-0.85zM396.02 456.97h0.85v0.85h-0.85zM404.36 400.06h0.85v0.85h-0.85zM395.75 393.49h0.85v0.85h-0.85zM408.93 405.33h0.85v0.85h-0.85zM405 413.29h0.85v0.85h-0.85zM401.31 457.38h0.85v0.85h-0.85zM401.65 388.96h0.85v0.85h-0.85zM408.03 428.99h0.85v0.85h-0.85zM410.17 464.95h0.85v0.85h-0.85zM401.62 470.25h0.85v0.85h-0.85zM397.89 461.86h0.85v0.85h-0.85zM407.24 463.13h0.85v0.85h-0.85zM408.27 380.87h0.85v0.85h-0.85zM403.3 466.45h0.85v0.85h-0.85zM407.03 385.01h0.85v0.85h-0.85zM404.67 387.26h0.85v0.85h-0.85zM401.98 404.07h0.85v0.85h-0.85zM397.65 415.8h0.85v0.85h-0.85zM401.86 410h0.85v0.85h-0.85zM394.62 462.67h0.85v0.85h-0.85zM410.03 398.95h0.85v0.85h-0.85zM404.97 430.26h0.85v0.85h-0.85zM402.67 398.23h0.85v0.85h-0.85zM402.98 451.96h0.85v0.85h-0.85zM400.4 408.62h0.85v0.85h-0.85zM395.32 433.95h0.85v0.85h-0.85zM404.75 459.28h0.85v0.85h-0.85zM401.23 458.87h0.85v0.85h-0.85zM406.4 395.47h0.85v0.85h-0.85zM400.76 468.45h0.85v0.85h-0.85zM406.21 453.82h0.85v0.85h-0.85zM402.92 398.73h0.85v0.85h-0.85zM400.69 362.86h0.85v0.85h-0.85zM411.57 417.69h0.85v0.85h-0.85zM397.88 372.2h0.85v0.85h-0.85zM395.23 404.15h0.85v0.85h-0.85zM396.26 460.56h0.85v0.85h-0.85zM396.03 466.15h0.85v0.85h-0.85zM403.06 456.07h0.85v0.85h-0.85zM400.24 456.06h0.85v0.85h-0.85zM395.77 397.96h0.85v0.85h-0.85zM397.63 407.1h0.85v0.85h-0.85zM401.46 445.44h0.85v0.85h-0.85zM401.16 379.53h0.85v0.85h-0.85zM401.09 424.92h0.85v0.85h-0.85zM397.6 434.77h0.85v0.85h-0.85zM399.08 470.18h0.85v0.85h-0.85zM408.28 385h0.85v0.85h-0.85zM400.32 447.23h0.85v0.85h-0.85zM402.63 386.86h0.85v0.85h-0.85zM397.44 451.43h0.85v0.85h-0.85zM409.58 453.42h0.85v0.85h-0.85zM407.19 433.68h0.85v0.85h-0.85zM401.28 462.07h0.85v0.85h-0.85zM395.25 371.52h0.85v0.85h-0.85zM403.05 401.7h0.85v0.85h-0.85zM404.25 453.49h0.85v0.85h-0.85zM411.46 388.79h0.85v0.85h-0.85zM395.9 410.05h0.85v0.85h-0.85zM409.92 394.27h0.85v0.85h-0.85zM403.4 418.33h0.85v0.85h-0.85zM409.85 435.83h0.85v0.85h-0.85zM403.71 453.77h0.85v0.85h-0.85zM399.88 382.38h0.85v0.85h-0.85zM401.86 446.54h0.85v0.85h-0.85zM410.11 455.14h0.85v0.85h-0.85zM410.73 366.69h0.85v0.85h-0.85zM405.52 475.53h0.85v0.85h-0.85zM401.39 436.96h0.85v0.85h-0.85zM402.24 395.69h0.85v0.85h-0.85zM406.64 461.55h0.85v0.85h-0.85zM411.3 471.07h0.85v0.85h-0.85zM403.29 462.15h0.85v0.85h-0.85zM404.27 414.26h0.85v0.85h-0.85zM397.15 459.44h0.85v0.85h-0.85zM399.43 420.21h0.85v0.85h-0.85zM407.23 463.24h0.85v0.85h-0.85zM406.81 472.12h0.85v0.85h-0.85zM410.91 409.19h0.85v0.85h-0.85zM405.74 385.62h0.85v0.85h-0.85zM409.63 417.99h0.85v0.85h-0.85zM405.49 422.86h0.85v0.85h-0.85zM410.89 401.31h0.85v0.85h-0.85zM403.13 435.07h0.85v0.85h-0.85zM400.34 478.21h0.85v0.85h-0.85zM410.15 462.37h0.85v0.85h-0.85zM397.41 418.5h0.85v0.85h-0.85zM404.78 420.78h0.85v0.85h-0.85zM394.92 411.4h0.85v0.85h-0.85zM405.96 393.37h0.85v0.85h-0.85zM408.61 400.3h0.85v0.85h-0.85zM407.01 475.09h0.85v0.85h-0.85zM401.58 412.11h0.85v0.85h-0.85zM410.95 398.93h0.85v0.85h-0.85zM395.69 427.73h0.85v0.85h-0.85zM400.32 432.5h0.85v0.85h-0.85zM405.83 427.26h0.85v0.85h-0.85zM406.56 427.92h0.85v0.85h-0.85zM406.72 466.24h0.85v0.85h-0.85zM411.28 382.02h0.85v0.85h-0.85zM405.03 457.5h0.85v0.85h-0.85zM399.74 431.85h0.85v0.85h-0.85zM406.36 476.05h0.85v0.85h-0.85zM407.52 478.89h0.85v0.85h-0.85zM401.22 403.28h0.85v0.85h-0.85zM403.84 435.24h0.85v0.85h-0.85zM399.93 420.11h0.85v0.85h-0.85zM403.75 465.27h0.85v0.85h-0.85zM409.52 383.01h0.85v0.85h-0.85zM406.84 359.25h0.85v0.85h-0.85zM395.6 375.09h0.85v0.85h-0.85zM394.64 422.05h0.85v0.85h-0.85zM409.72 380.78h0.85v0.85h-0.85zM401.26 466.37h0.85v0.85h-0.85zM405.64 420.8h0.85v0.85h-0.85zM410.82 467.15h0.85v0.85h-0.85zM396.08 407.6h0.85v0.85h-0.85zM406.84 455.64h0.85v0.85h-0.85zM400.54 410.61h0.85v0.85h-0.85zM400.21 421.51h0.85v0.85h-0.85zM404.21 460.19h0.85v0.85h-0.85zM398.95 407.32h0.85v0.85h-0.85zM404.53 396.8h0.85v0.85h-0.85zM398.22 450.75h0.85v0.85h-0.85zM403.93 398.62h0.85v0.85h-0.85zM401.15 463.28h0.85v0.85h-0.85zM396.94 407.09h0.85v0.85h-0.85zM398.98 389.33h0.85v0.85h-0.85zM407.21 390.39h0.85v0.85h-0.85zM409.68 423.37h0.85v0.85h-0.85zM398.51 413.64h0.85v0.85h-0.85zM407.97 392.26h0.85v0.85h-0.85zM407.57 470.39h0.85v0.85h-0.85zM398.9 474.35h0.85v0.85h-0.85zM409.52 417.28h0.85v0.85h-0.85zM396.73 386.9h0.85v0.85h-0.85zM408.74 392.65h0.85v0.85h-0.85zM410.26 454.67h0.85v0.85h-0.85zM409.51 462.97h0.85v0.85h-0.85zM407.83 428.29h0.85v0.85h-0.85zM409.96 479.57h0.85v0.85h-0.85zM399.77 430.91h0.85v0.85h-0.85zM410.13 459.59h0.85v0.85h-0.85zM399.71 455.39h0.85v0.85h-0.85zM394.66 447.52h0.85v0.85h-0.85zM404.67 397.95h0.85v0.85h-0.85zM397.99 404.32h0.85v0.85h-0.85zM406.78 418.84h0.85v0.85h-0.85zM405.84 385.41h0.85v0.85h-0.85zM406.71 456.47h0.85v0.85h-0.85zM396.12 462.85h0.85v0.85h-0.85zM403.67 390.48h0.85v0.85h-0.85zM399.68 463.12h0.85v0.85h-0.85zM397.84 464.61h0.85v0.85h-0.85zM403.7 452.99h0.85v0.85h-0.85zM408.13 395.78h0.85v0.85h-0.85zM409.38 438.23h0.85v0.85h-0.85zM405.72 389.18h0.85v0.85h-0.85zM396.4 415.27h0.85v0.85h-0.85zM403.94 412.06h0.85v0.85h-0.85zM395.12 415.46h0.85v0.85h-0.85zM410.18 429.71h0.85v0.85h-0.85zM398.49 432.45h0.85v0.85h-0.85zM403.36 453.63h0.85v0.85h-0.85zM411.52 380.7h0.85v0.85h-0.85zM399.78 400.75h0.85v0.85h-0.85zM408.84 464.76h0.85v0.85h-0.85zM395.79 416.15h0.85v0.85h-0.85zM398.99 404.97h0.85v0.85h-0.85zM408.83 453.81h0.85v0.85h-0.85zM395.1 415.83h0.85v0.85h-0.85zM396.91 385.09h0.85v0.85h-0.85zM409.99 403.95h0.85v0.85h-0.85zM407.78 464.62h0.85v0.85h-0.85zM395.2 457.41h0.85v0.85h-0.85zM405.67 417.23h0.85v0.85h-0.85zM399.43 388.86h0.85v0.85h-0.85zM401.08 442.48h0.85v0.85h-0.85zM401.96 387.31h0.85v0.85h-0.85zM401.94 455.96h0.85v0.85h-0.85zM410.45 411.83h0.85v0.85h-0.85zM405.52 413.68h0.85v0.85h-0.85zM401.53 353.33h0.85v0.85h-0.85zM409.26 441.68h0.85v0.85h-0.85zM401.96 403.8h0.85v0.85h-0.85zM399.8 424.45h0.85v0.85h-0.85zM410.32 425.34h0.85v0.85h-0.85zM395.5 379.66h0.85v0.85h-0.85zM403.18 416.34h0.85v0.85h-0.85zM398.64 404.21h0.85v0.85h-0.85zM408.64 456.47h0.85v0.85h-0.85zM399.09 456.63h0.85v0.85h-0.85zM398.27 418.67h0.85v0.85h-0.85zM407.1 351.84h0.85v0.85h-0.85zM408.19 453.17h0.85v0.85h-0.85zM408.88 381.14h0.85v0.85h-0.85zM404.68 427.64h0.85v0.85h-0.85zM397.36 464.43h0.85v0.85h-0.85zM407.67 418.85h0.85v0.85h-0.85zM406.53 394.67h0.85v0.85h-0.85zM409.29 382.6h0.85v0.85h-0.85zM399.91 434.18h0.85v0.85h-0.85zM410.33 419.69h0.85v0.85h-0.85zM410.99 418.55h0.85v0.85h-0.85zM398.65 452.24h0.85v0.85h-0.85zM395.91 380.57h0.85v0.85h-0.85zM407.7 466.29h0.85v0.85h-0.85zM401.66 428.59h0.85v0.85h-0.85zM402.32 444.15h0.85v0.85h-0.85zM400.61 416.9h0.85v0.85h-0.85zM403.78 462.65h0.85v0.85h-0.85zM406.7 432.5h0.85v0.85h-0.85zM408.83 421.77h0.85v0.85h-0.85zM400.96 379.69h0.85v0.85h-0.85zM410.97 467.88h0.85v0.85h-0.85zM399.72 420.28h0.85v0.85h-0.85zM395.78 460.91h0.85v0.85h-0.85zM399.32 426.23h0.85v0.85h-0.85zM408.95 451.97h0.85v0.85h-0.85zM407.43 385.29h0.85v0.85h-0.85zM410.77 384.93h0.85v0.85h-0.85zM404.63 451.13h0.85v0.85h-0.85zM402.21 398.93h0.85v0.85h-0.85zM397.37 452.66h0.85v0.85h-0.85zM401.83 417.98h0.85v0.85h-0.85zM409.77 455.05h0.85v0.85h-0.85zM408.6 414.49h0.85v0.85h-0.85zM407.11 463.06h0.85v0.85h-0.85zM395.09 370.61h0.85v0.85h-0.85zM399.22 388.83h0.85v0.85h-0.85zM402.83 405.48h0.85v0.85h-0.85zM407.12 391.74h0.85v0.85h-0.85zM411.17 425.12h0.85v0.85h-0.85z" fill="#000" fill-opacity="0.85"/>
<line x1="403.1" y1="344.1" x2="403.1" y2="404.3" stroke="#555" stroke-width="0.8" />
<line x1="403.1" y1="456.3" x2="403.1" y2="481.5" stroke="#555" stroke-width="0.8" />
<rect x="387" y="404.3" width="32.2" height="52" fill="none" stroke="#3a3a3a" stroke-width="0.6" />
<line x1="387" y1="421.9" x2="419.2" y2="421.9" stroke="#222" stroke-width="1.3" />
<line x1="335.3" y1="329.9" x2="335.3" y2="493.7" stroke="#000" stroke-width="1.1" />
<line x1="335.3" y1="493.7" x2="428.4" y2="493.7" stroke="#000" stroke-width="1.1" />
<line x1="332.6" y1="359.4" x2="335.3" y2="359.4" stroke="#000" stroke-width="0.8" />
<text x="330.8" y="364.4" font-size="14" text-anchor="end">2</text>
<line x1="332.6" y1="395.6" x2="335.3" y2="395.6" stroke="#000" stroke-width="0.8" />
<text x="330.8" y="400.6" font-size="14" text-anchor="end">1</text>
<line x1="332.6" y1="432.2" x2="335.3" y2="432.2" stroke="#000" stroke-width="0.8" />
<text x="330.8" y="437.2" font-size="14" text-anchor="end">0</text>
<line x1="332.6" y1="468.3" x2="335.3" y2="468.3" stroke="#000" stroke-width="0.8" />
<text x="330.8" y="473.3" font-size="14" text-anchor="end">-1</text>
<line x1="360.6" y1="493.7" x2="360.6" y2="496.4" stroke="#000" stroke-width="0.8" />
<line x1="403.1" y1="493.7" x2="403.1" y2="496.4" stroke="#000" stroke-width="0.8" />
<text x="355.9" y="509.5" font-size="12.7" text-anchor="middle">Veh</text>
<text x="401.1" y="509.5" font-size="12.7" text-anchor="middle">ORY</text>
<path d="M360 340.8V336.9H403.4V340.8" fill="none" stroke="#8c8c8c" stroke-width="0.8"/>
<text x="381.7" y="334.9" font-size="8.2" text-anchor="middle" fill="#222" stroke="#222">7e−15</text>
<text x="315.8" y="408.4" font-size="12.7" text-anchor="middle" transform="rotate(-90 315.8 408.4)">Log<tspan font-size="8.5" dy="2.8">2</tspan><tspan dy="-2.8">(CPM)_scale</tspan></text>
<text x="2" y="540.3" font-size="18" font-weight="bold">g</text>
<rect x="77.25" y="582.2" width="6.3" height="88" fill="#7a92fa" stroke="none" stroke-width="1" />
<line x1="80.4" y1="583.08" x2="80.4" y2="581.32" stroke="#3f5ff2" stroke-width="0.7" />
<line x1="78.6" y1="581.32" x2="82.2" y2="581.32" stroke="#3f5ff2" stroke-width="0.7" />
<circle cx="80.89" cy="584.2" r="0.95" fill="#3f5ff2" />
<circle cx="80.35" cy="581.96" r="0.95" fill="#3f5ff2" />
<circle cx="81.16" cy="581.29" r="0.95" fill="#3f5ff2" />
<rect x="86.55" y="654.36" width="6.3" height="15.84" fill="#fa8778" stroke="none" stroke-width="1" />
<line x1="89.7" y1="657" x2="89.7" y2="651.72" stroke="#f24c3c" stroke-width="0.7" />
<line x1="87.9" y1="651.72" x2="91.5" y2="651.72" stroke="#f24c3c" stroke-width="0.7" />
<circle cx="89.73" cy="658.04" r="0.95" fill="#f24c3c" />
<circle cx="89.01" cy="654.35" r="0.95" fill="#f24c3c" />
<circle cx="89.36" cy="651.01" r="0.95" fill="#f24c3c" />
<rect x="95.75" y="642.04" width="6.3" height="28.16" fill="#7dde78" stroke="none" stroke-width="1" />
<line x1="98.9" y1="643.8" x2="98.9" y2="640.28" stroke="#35c535" stroke-width="0.7" />
<line x1="97.1" y1="640.28" x2="100.7" y2="640.28" stroke="#35c535" stroke-width="0.7" />
<circle cx="97.78" cy="644.71" r="0.95" fill="#35c535" />
<circle cx="98.2" cy="641.52" r="0.95" fill="#35c535" />
<circle cx="97.71" cy="639.69" r="0.95" fill="#35c535" />
<rect x="105.05" y="637.64" width="6.3" height="32.56" fill="#fdc67d" stroke="none" stroke-width="1" />
<line x1="108.2" y1="642.04" x2="108.2" y2="633.24" stroke="#f9a535" stroke-width="0.7" />
<line x1="106.4" y1="633.24" x2="110" y2="633.24" stroke="#f9a535" stroke-width="0.7" />
<circle cx="108.82" cy="643.8" r="0.95" fill="#f9a535" />
<circle cx="108.5" cy="636.98" r="0.95" fill="#f9a535" />
<circle cx="107.76" cy="631.42" r="0.95" fill="#f9a535" />
<line x1="94.3" y1="670.2" x2="94.3" y2="673.5" stroke="#000" stroke-width="0.9" />
<rect x="120.25" y="582.2" width="6.3" height="88" fill="#7a92fa" stroke="none" stroke-width="1" />
<line x1="123.4" y1="583.08" x2="123.4" y2="581.32" stroke="#3f5ff2" stroke-width="0.7" />
<line x1="121.6" y1="581.32" x2="125.2" y2="581.32" stroke="#3f5ff2" stroke-width="0.7" />
<circle cx="122.4" cy="583.61" r="0.95" fill="#3f5ff2" />
<circle cx="123.06" cy="581.4" r="0.95" fill="#3f5ff2" />
<circle cx="124.23" cy="581.4" r="0.95" fill="#3f5ff2" />
<rect x="129.55" y="651.72" width="6.3" height="18.48" fill="#fa8778" stroke="none" stroke-width="1" />
<line x1="132.7" y1="652.6" x2="132.7" y2="650.84" stroke="#f24c3c" stroke-width="0.7" />
<line x1="130.9" y1="650.84" x2="134.5" y2="650.84" stroke="#f24c3c" stroke-width="0.7" />
<circle cx="133.81" cy="653.79" r="0.95" fill="#f24c3c" />
<circle cx="132.84" cy="651.8" r="0.95" fill="#f24c3c" />
<circle cx="132.66" cy="650.59" r="0.95" fill="#f24c3c" />
<rect x="138.75" y="621.8" width="6.3" height="48.4" fill="#7dde78" stroke="none" stroke-width="1" />
<line x1="141.9" y1="624.44" x2="141.9" y2="619.16" stroke="#35c535" stroke-width="0.7" />
<line x1="140.1" y1="619.16" x2="143.7" y2="619.16" stroke="#35c535" stroke-width="0.7" />
<circle cx="140.7" cy="626.58" r="0.95" fill="#35c535" />
<circle cx="141.21" cy="621.16" r="0.95" fill="#35c535" />
<circle cx="141.14" cy="617.08" r="0.95" fill="#35c535" />
<rect x="148.05" y="620.92" width="6.3" height="49.28" fill="#fdc67d" stroke="none" stroke-width="1" />
<line x1="151.2" y1="623.56" x2="151.2" y2="618.28" stroke="#f9a535" stroke-width="0.7" />
<line x1="149.4" y1="618.28" x2="153" y2="618.28" stroke="#f9a535" stroke-width="0.7" />
<circle cx="152.22" cy="624.32" r="0.95" fill="#f9a535" />
<circle cx="151.88" cy="620.47" r="0.95" fill="#f9a535" />
<circle cx="151.8" cy="616.55" r="0.95" fill="#f9a535" />
<line x1="137.3" y1="670.2" x2="137.3" y2="673.5" stroke="#000" stroke-width="0.9" />
<rect x="163.25" y="582.2" width="6.3" height="88" fill="#7a92fa" stroke="none" stroke-width="1" />
<line x1="166.4" y1="583.08" x2="166.4" y2="581.32" stroke="#3f5ff2" stroke-width="0.7" />
<line x1="164.6" y1="581.32" x2="168.2" y2="581.32" stroke="#3f5ff2" stroke-width="0.7" />
<circle cx="166.34" cy="584.27" r="0.95" fill="#3f5ff2" />
<circle cx="165.62" cy="581.62" r="0.95" fill="#3f5ff2" />
<circle cx="167.41" cy="580.05" r="0.95" fill="#3f5ff2" />
<rect x="172.55" y="651.72" width="6.3" height="18.48" fill="#fa8778" stroke="none" stroke-width="1" />
<line x1="175.7" y1="653.48" x2="175.7" y2="649.96" stroke="#f24c3c" stroke-width="0.7" />
<line x1="173.9" y1="649.96" x2="177.5" y2="649.96" stroke="#f24c3c" stroke-width="0.7" />
<circle cx="175.35" cy="654.7" r="0.95" fill="#f24c3c" />
<circle cx="175.4" cy="651.81" r="0.95" fill="#f24c3c" />
<circle cx="175.41" cy="648.03" r="0.95" fill="#f24c3c" />
<rect x="181.75" y="640.28" width="6.3" height="29.92" fill="#7dde78" stroke="none" stroke-width="1" />
<line x1="184.9" y1="640.72" x2="184.9" y2="639.84" stroke="#35c535" stroke-width="0.7" />
<line x1="183.1" y1="639.84" x2="186.7" y2="639.84" stroke="#35c535" stroke-width="0.7" />
<circle cx="183.84" cy="641.82" r="0.95" fill="#35c535" />
<circle cx="186.18" cy="639.9" r="0.95" fill="#35c535" />
<circle cx="184.88" cy="639.58" r="0.95" fill="#35c535" />
<rect x="191.05" y="611.24" width="6.3" height="58.96" fill="#fdc67d" stroke="none" stroke-width="1" />
<line x1="194.2" y1="615.64" x2="194.2" y2="606.84" stroke="#f9a535" stroke-width="0.7" />
<line x1="192.4" y1="606.84" x2="196" y2="606.84" stroke="#f9a535" stroke-width="0.7" />
<circle cx="194.85" cy="618.19" r="0.95" fill="#f9a535" />
<circle cx="194.48" cy="611.73" r="0.95" fill="#f9a535" />
<circle cx="194.52" cy="604.1" r="0.95" fill="#f9a535" />
<line x1="180.3" y1="670.2" x2="180.3" y2="673.5" stroke="#000" stroke-width="0.9" />
<rect x="206.25" y="582.2" width="6.3" height="88" fill="#7a92fa" stroke="none" stroke-width="1" />
<line x1="209.4" y1="582.64" x2="209.4" y2="581.76" stroke="#3f5ff2" stroke-width="0.7" />
<line x1="207.6" y1="581.76" x2="211.2" y2="581.76" stroke="#3f5ff2" stroke-width="0.7" />
<circle cx="208.54" cy="583.47" r="0.95" fill="#3f5ff2" />
<circle cx="210.51" cy="582.47" r="0.95" fill="#3f5ff2" />
<circle cx="209.65" cy="581.77" r="0.95" fill="#3f5ff2" />
<rect x="215.55" y="659.64" width="6.3" height="10.56" fill="#fa8778" stroke="none" stroke-width="1" />
<line x1="218.7" y1="660.96" x2="218.7" y2="658.32" stroke="#f24c3c" stroke-width="0.7" />
<line x1="216.9" y1="658.32" x2="220.5" y2="658.32" stroke="#f24c3c" stroke-width="0.7" />
<circle cx="217.67" cy="662.09" r="0.95" fill="#f24c3c" />
<circle cx="219.52" cy="660.4" r="0.95" fill="#f24c3c" />
<circle cx="218.37" cy="657.04" r="0.95" fill="#f24c3c" />
<rect x="224.75" y="622.68" width="6.3" height="47.52" fill="#7dde78" stroke="none" stroke-width="1" />
<line x1="227.9" y1="625.32" x2="227.9" y2="620.04" stroke="#35c535" stroke-width="0.7" />
<line x1="226.1" y1="620.04" x2="229.7" y2="620.04" stroke="#35c535" stroke-width="0.7" />
<circle cx="228.36" cy="626.58" r="0.95" fill="#35c535" />
<circle cx="229.09" cy="621.98" r="0.95" fill="#35c535" />
<circle cx="229.17" cy="618.62" r="0.95" fill="#35c535" />
<rect x="234.05" y="648.2" width="6.3" height="22" fill="#fdc67d" stroke="none" stroke-width="1" />
<line x1="237.2" y1="648.64" x2="237.2" y2="647.76" stroke="#f9a535" stroke-width="0.7" />
<line x1="235.4" y1="647.76" x2="239" y2="647.76" stroke="#f9a535" stroke-width="0.7" />
<circle cx="237.44" cy="648.09" r="0.95" fill="#f9a535" />
<circle cx="237.18" cy="647.53" r="0.95" fill="#f9a535" />
<circle cx="236.54" cy="647.72" r="0.95" fill="#f9a535" />
<line x1="223.3" y1="670.2" x2="223.3" y2="673.5" stroke="#000" stroke-width="0.9" />
<rect x="249.25" y="583.96" width="6.3" height="86.24" fill="#7a92fa" stroke="none" stroke-width="1" />
<line x1="252.4" y1="586.6" x2="252.4" y2="581.32" stroke="#3f5ff2" stroke-width="0.7" />
<line x1="250.6" y1="581.32" x2="254.2" y2="581.32" stroke="#3f5ff2" stroke-width="0.7" />
<circle cx="251.52" cy="587.52" r="0.95" fill="#3f5ff2" />
<circle cx="253.19" cy="584.72" r="0.95" fill="#3f5ff2" />
<circle cx="252.36" cy="579.25" r="0.95" fill="#3f5ff2" />
<rect x="258.55" y="646.44" width="6.3" height="23.76" fill="#fa8778" stroke="none" stroke-width="1" />
<line x1="261.7" y1="647.32" x2="261.7" y2="645.56" stroke="#f24c3c" stroke-width="0.7" />
<line x1="259.9" y1="645.56" x2="263.5" y2="645.56" stroke="#f24c3c" stroke-width="0.7" />
<circle cx="260.54" cy="647.25" r="0.95" fill="#f24c3c" />
<circle cx="261.15" cy="646.87" r="0.95" fill="#f24c3c" />
<circle cx="260.84" cy="645.17" r="0.95" fill="#f24c3c" />
<rect x="267.75" y="637.64" width="6.3" height="32.56" fill="#7dde78" stroke="none" stroke-width="1" />
<line x1="270.9" y1="638.96" x2="270.9" y2="636.32" stroke="#35c535" stroke-width="0.7" />
<line x1="269.1" y1="636.32" x2="272.7" y2="636.32" stroke="#35c535" stroke-width="0.7" />
<circle cx="270.48" cy="640.51" r="0.95" fill="#35c535" />
<circle cx="272.16" cy="636.94" r="0.95" fill="#35c535" />
<circle cx="270.85" cy="635.1" r="0.95" fill="#35c535" />
<rect x="277.05" y="605.96" width="6.3" height="64.24" fill="#fdc67d" stroke="none" stroke-width="1" />
<line x1="280.2" y1="608.6" x2="280.2" y2="603.32" stroke="#f9a535" stroke-width="0.7" />
<line x1="278.4" y1="603.32" x2="282" y2="603.32" stroke="#f9a535" stroke-width="0.7" />
<circle cx="281.39" cy="610.62" r="0.95" fill="#f9a535" />
<circle cx="280.79" cy="605.91" r="0.95" fill="#f9a535" />
<circle cx="279.45" cy="602.57" r="0.95" fill="#f9a535" />
<line x1="266.3" y1="670.2" x2="266.3" y2="673.5" stroke="#000" stroke-width="0.9" />
<rect x="292.25" y="583.08" width="6.3" height="87.12" fill="#7a92fa" stroke="none" stroke-width="1" />
<line x1="295.4" y1="590.12" x2="295.4" y2="576.04" stroke="#3f5ff2" stroke-width="0.7" />
<line x1="293.6" y1="576.04" x2="297.2" y2="576.04" stroke="#3f5ff2" stroke-width="0.7" />
<circle cx="296.17" cy="593.75" r="0.95" fill="#3f5ff2" />
<circle cx="295.66" cy="582.41" r="0.95" fill="#3f5ff2" />
<circle cx="295.61" cy="571.95" r="0.95" fill="#3f5ff2" />
<rect x="301.55" y="656.12" width="6.3" height="14.08" fill="#fa8778" stroke="none" stroke-width="1" />
<line x1="304.7" y1="657" x2="304.7" y2="655.24" stroke="#f24c3c" stroke-width="0.7" />
<line x1="302.9" y1="655.24" x2="306.5" y2="655.24" stroke="#f24c3c" stroke-width="0.7" />
<circle cx="304.2" cy="656.91" r="0.95" fill="#f24c3c" />
<circle cx="304.12" cy="656.06" r="0.95" fill="#f24c3c" />
<circle cx="303.43" cy="654.24" r="0.95" fill="#f24c3c" />
<rect x="310.75" y="640.28" width="6.3" height="29.92" fill="#7dde78" stroke="none" stroke-width="1" />
<line x1="313.9" y1="642.92" x2="313.9" y2="637.64" stroke="#35c535" stroke-width="0.7" />
<line x1="312.1" y1="637.64" x2="315.7" y2="637.64" stroke="#35c535" stroke-width="0.7" />
<circle cx="315.08" cy="644.18" r="0.95" fill="#35c535" />
<circle cx="314.14" cy="641.12" r="0.95" fill="#35c535" />
<circle cx="314.81" cy="635.8" r="0.95" fill="#35c535" />
<rect x="320.05" y="621.8" width="6.3" height="48.4" fill="#fdc67d" stroke="none" stroke-width="1" />
<line x1="323.2" y1="625.32" x2="323.2" y2="618.28" stroke="#f9a535" stroke-width="0.7" />
<line x1="321.4" y1="618.28" x2="325" y2="618.28" stroke="#f9a535" stroke-width="0.7" />
<circle cx="322.57" cy="627.28" r="0.95" fill="#f9a535" />
<circle cx="324.39" cy="621.97" r="0.95" fill="#f9a535" />
<circle cx="322.25" cy="615.45" r="0.95" fill="#f9a535" />
<line x1="309.3" y1="670.2" x2="309.3" y2="673.5" stroke="#000" stroke-width="0.9" />
<line x1="74.5" y1="537.5" x2="74.5" y2="670.7" stroke="#000" stroke-width="1" />
<line x1="74" y1="670.2" x2="329.9" y2="670.2" stroke="#000" stroke-width="1.1" />
<line x1="69.5" y1="538.2" x2="74.5" y2="538.2" stroke="#000" stroke-width="0.9" />
<text x="67.4" y="542.2" font-size="11.3" text-anchor="end">1.5</text>
<line x1="69.5" y1="582.2" x2="74.5" y2="582.2" stroke="#000" stroke-width="0.9" />
<text x="67.4" y="586.2" font-size="11.3" text-anchor="end">1.0</text>
<line x1="69.5" y1="626.2" x2="74.5" y2="626.2" stroke="#000" stroke-width="0.9" />
<text x="67.4" y="630.2" font-size="11.3" text-anchor="end">0.5</text>
<line x1="69.5" y1="670.2" x2="74.5" y2="670.2" stroke="#000" stroke-width="0.9" />
<text x="67.4" y="674.2" font-size="11.3" text-anchor="end">0.0</text>
<text x="28.3" y="610" font-size="12.8" text-anchor="middle" transform="rotate(-90 28.3 610)">Relative mRNA</text>
<text x="45.3" y="610" font-size="12.8" text-anchor="middle" transform="rotate(-90 45.3 610)">expression</text>
<line x1="77.8" y1="543.3" x2="108" y2="543.3" stroke="#4a4a4a" stroke-width="0.9" />
<text x="92.9" y="543.1" font-size="9.6" text-anchor="middle" fill="#222" stroke="#222" stroke="#222" stroke-width="0.25">***</text>
<line x1="77.8" y1="553.5" x2="96.6" y2="553.5" stroke="#4a4a4a" stroke-width="0.9" />
<text x="87.2" y="553.3" font-size="9.6" text-anchor="middle" fill="#222" stroke="#222" stroke="#222" stroke-width="0.25">****</text>
<line x1="77.8" y1="563.7" x2="92" y2="563.7" stroke="#4a4a4a" stroke-width="0.9" />
<text x="84.9" y="563.5" font-size="9.6" text-anchor="middle" fill="#222" stroke="#222" stroke="#222" stroke-width="0.25">****</text>
<line x1="121.05" y1="543.7" x2="151.25" y2="543.7" stroke="#4a4a4a" stroke-width="0.9" />
<text x="136.15" y="543.5" font-size="9.6" text-anchor="middle" fill="#222" stroke="#222" stroke="#222" stroke-width="0.25">***</text>
<line x1="121.05" y1="553.9" x2="139.9" y2="553.9" stroke="#4a4a4a" stroke-width="0.9" />
<text x="130.48" y="553.7" font-size="9.6" text-anchor="middle" fill="#222" stroke="#222" stroke="#222" stroke-width="0.25">****</text>
<line x1="121.05" y1="564.1" x2="135.3" y2="564.1" stroke="#4a4a4a" stroke-width="0.9" />
<text x="128.18" y="563.9" font-size="9.6" text-anchor="middle" fill="#222" stroke="#222" stroke="#222" stroke-width="0.25">****</text>
<line x1="164.3" y1="544.1" x2="194.5" y2="544.1" stroke="#4a4a4a" stroke-width="0.9" />
<text x="179.4" y="543.9" font-size="9.6" text-anchor="middle" fill="#222" stroke="#222" stroke="#222" stroke-width="0.25">**</text>
<line x1="164.3" y1="554.3" x2="183.2" y2="554.3" stroke="#4a4a4a" stroke-width="0.9" />
<text x="173.75" y="554.1" font-size="9.6" text-anchor="middle" fill="#222" stroke="#222" stroke="#222" stroke-width="0.25">****</text>
<line x1="164.3" y1="564.5" x2="178.6" y2="564.5" stroke="#4a4a4a" stroke-width="0.9" />
<text x="171.45" y="564.3" font-size="9.6" text-anchor="middle" fill="#222" stroke="#222" stroke="#222" stroke-width="0.25">****</text>
<line x1="207.55" y1="544.5" x2="237.75" y2="544.5" stroke="#4a4a4a" stroke-width="0.9" />
<text x="222.65" y="544.3" font-size="9.6" text-anchor="middle" fill="#222" stroke="#222" stroke="#222" stroke-width="0.25">****</text>
<line x1="207.55" y1="554.7" x2="226.5" y2="554.7" stroke="#4a4a4a" stroke-width="0.9" />
<text x="217.03" y="554.5" font-size="9.6" text-anchor="middle" fill="#222" stroke="#222" stroke="#222" stroke-width="0.25">****</text>
<line x1="207.55" y1="564.9" x2="221.9" y2="564.9" stroke="#4a4a4a" stroke-width="0.9" />
<text x="214.73" y="564.7" font-size="9.6" text-anchor="middle" fill="#222" stroke="#222" stroke="#222" stroke-width="0.25">****</text>
<line x1="250.8" y1="544.9" x2="281" y2="544.9" stroke="#4a4a4a" stroke-width="0.9" />
<text x="265.9" y="544.7" font-size="9.6" text-anchor="middle" fill="#222" stroke="#222" stroke="#222" stroke-width="0.25">**</text>
<line x1="250.8" y1="555.1" x2="269.8" y2="555.1" stroke="#4a4a4a" stroke-width="0.9" />
<text x="260.3" y="554.9" font-size="9.6" text-anchor="middle" fill="#222" stroke="#222" stroke="#222" stroke-width="0.25">****</text>
<line x1="250.8" y1="565.3" x2="265.2" y2="565.3" stroke="#4a4a4a" stroke-width="0.9" />
<text x="258" y="565.1" font-size="9.6" text-anchor="middle" fill="#222" stroke="#222" stroke="#222" stroke-width="0.25">****</text>
<line x1="294.05" y1="545.3" x2="324.25" y2="545.3" stroke="#4a4a4a" stroke-width="0.9" />
<text x="309.15" y="545.1" font-size="9.6" text-anchor="middle" fill="#222" stroke="#222" stroke="#222" stroke-width="0.25">**</text>
<line x1="294.05" y1="555.5" x2="313.1" y2="555.5" stroke="#4a4a4a" stroke-width="0.9" />
<text x="303.58" y="555.3" font-size="9.6" text-anchor="middle" fill="#222" stroke="#222" stroke="#222" stroke-width="0.25">***</text>
<line x1="294.05" y1="565.7" x2="308.5" y2="565.7" stroke="#4a4a4a" stroke-width="0.9" />
<text x="301.27" y="565.5" font-size="9.6" text-anchor="middle" fill="#222" stroke="#222" stroke="#222" stroke-width="0.25">***</text>
<text x="97.3" y="679.3" font-size="12.8" text-anchor="end" transform="rotate(-55 97.3 679.3)">CEP55</text>
<text x="140.3" y="679.3" font-size="12.8" text-anchor="end" transform="rotate(-55 140.3 679.3)">INCENP</text>
<text x="183.3" y="679.3" font-size="12.8" text-anchor="end" transform="rotate(-55 183.3 679.3)">CDK1</text>
<text x="226.3" y="679.3" font-size="12.8" text-anchor="end" transform="rotate(-55 226.3 679.3)">CCEB1</text>
<text x="269.3" y="679.3" font-size="12.8" text-anchor="end" transform="rotate(-55 269.3 679.3)">NDC80</text>
<text x="312.3" y="679.3" font-size="12.8" text-anchor="end" transform="rotate(-55 312.3 679.3)">ERCC6L</text>
<rect x="329.5" y="564.7" width="12.8" height="8.5" fill="#7a92fa" stroke="#3f5ff2" stroke-width="0.5" stroke-opacity="0.6"/>
<text x="348" y="572.4" font-size="10.2">siNC</text>
<rect x="329.5" y="579.7" width="12.8" height="8.5" fill="#fa8778" stroke="#f24c3c" stroke-width="0.5" stroke-opacity="0.6"/>
<text x="348" y="587.4" font-size="10.2">siFOXA2</text>
<rect x="329.5" y="594.3" width="12.8" height="8.5" fill="#7dde78" stroke="#35c535" stroke-width="0.5" stroke-opacity="0.6"/>
<text x="348" y="602" font-size="10.2">siJUN</text>
<rect x="329.5" y="610.8" width="12.8" height="8.5" fill="#fdc67d" stroke="#f9a535" stroke-width="0.5" stroke-opacity="0.6"/>
<text x="348" y="618.7" font-size="10.2">siFOSL1</text>
<text x="384.5" y="543.8" font-size="18" font-weight="bold">h</text>
<text x="464.6" y="548.8" font-size="12.7">FOXA2/JUN co-targets (40-gene)</text>
<line x1="459.2" y1="549.4" x2="459.2" y2="671.6" stroke="#8c8c8c" stroke-width="1" />
<line x1="459.2" y1="671.4" x2="639.1" y2="671.4" stroke="#8c8c8c" stroke-width="1" />
<line x1="646.7" y1="671.4" x2="662.6" y2="671.4" stroke="#8c8c8c" stroke-width="1" />
<line x1="456.4" y1="555.5" x2="459.2" y2="555.5" stroke="#8c8c8c" stroke-width="0.9" />
<text x="455.8" y="559.9" font-size="12.6" text-anchor="end">1.00</text>
<line x1="456.4" y1="583.45" x2="459.2" y2="583.45" stroke="#8c8c8c" stroke-width="0.9" />
<text x="455.8" y="587.85" font-size="12.6" text-anchor="end">0.75</text>
<line x1="456.4" y1="611.4" x2="459.2" y2="611.4" stroke="#8c8c8c" stroke-width="0.9" />
<text x="455.8" y="615.8" font-size="12.6" text-anchor="end">0.50</text>
<line x1="456.4" y1="639.35" x2="459.2" y2="639.35" stroke="#8c8c8c" stroke-width="0.9" />
<text x="455.8" y="643.75" font-size="12.6" text-anchor="end">0.25</text>
<line x1="456.4" y1="667.3" x2="459.2" y2="667.3" stroke="#8c8c8c" stroke-width="0.9" />
<text x="455.8" y="671.7" font-size="12.6" text-anchor="end">0.00</text>
<line x1="468.3" y1="671.4" x2="468.3" y2="674.2" stroke="#8c8c8c" stroke-width="0.9" />
<text x="468.3" y="685" font-size="12.6" text-anchor="middle">0</text>
<line x1="499.2" y1="671.4" x2="499.2" y2="674.2" stroke="#8c8c8c" stroke-width="0.9" />
<text x="499.2" y="685" font-size="12.6" text-anchor="middle">10</text>
<line x1="530.1" y1="671.4" x2="530.1" y2="674.2" stroke="#8c8c8c" stroke-width="0.9" />
<text x="530.1" y="685" font-size="12.6" text-anchor="middle">20</text>
<line x1="561" y1="671.4" x2="561" y2="674.2" stroke="#8c8c8c" stroke-width="0.9" />
<text x="561" y="685" font-size="12.6" text-anchor="middle">30</text>
<line x1="591.9" y1="671.4" x2="591.9" y2="674.2" stroke="#8c8c8c" stroke-width="0.9" />
<text x="591.9" y="685" font-size="12.6" text-anchor="middle">40</text>
<line x1="622.8" y1="671.4" x2="622.8" y2="674.2" stroke="#8c8c8c" stroke-width="0.9" />
<text x="622.8" y="685" font-size="12.6" text-anchor="middle">50</text>
<line x1="653.7" y1="671.4" x2="653.7" y2="674.2" stroke="#8c8c8c" stroke-width="0.9" />
<text x="653.7" y="685" font-size="12.6" text-anchor="middle">60</text>
<text x="413.3" y="685" font-size="12.45">(Month)</text>
<text x="424.3" y="611" font-size="12.6" text-anchor="middle" transform="rotate(-90 424.3 611)">Survival Probability</text>
<path d="M468.64 554.12H476.82V555.55H479.27V556.77H481.31V558H485.4V559.23H489.49V560.25H493.57V560.86H497.66V561.88H501.75V563.11H505.84V564.74H507.88V566.38H510.95V567.6H514.01V568.83H518.1V570.26H521.16V571.9H523.21V574.55H525.25V578.23H526.27V582.73H529.34V584.57H531.38V586.41H534.45V589.47H537.51V592.33H540.58V594.58H542.04V599.49H546.13V600.3H548.17V601.94H554.89V602.76H555.33V603.17H556.93V606.03H558.39V606.64H559.42V611.75H562.48V616.86H565.55V622.38H568.61V625.65H570.25V632.19H572.7V636.68H589.05V642H595.18V646.9H604.38V651.6H607.44V656.71H615.62V661.21H645.25V665.91" fill="none" stroke="#2E9FDF" stroke-width="1.1"/>
<path d="M468.3 555.5H476.8V561H479.3V566H481.3V571H494V576H497.3V582.1H499.7V586.8H502.8V592.3H505.4V595H507.9V600.5H508.3V608.7H509.5V613.4H511.6V617.9H514V626.5H522.2V633.2H538.9V644H557.3V655.1H562.9V655.1" fill="none" stroke="#E7B800" stroke-width="1.1"/>
<line x1="473" y1="553.3" x2="473" y2="557.7" stroke="#E7B800" stroke-width="0.9" />
<line x1="476" y1="553.3" x2="476" y2="557.7" stroke="#E7B800" stroke-width="0.9" />
<line x1="528.3" y1="631" x2="528.3" y2="635.4" stroke="#E7B800" stroke-width="0.9" />
<line x1="536.5" y1="631" x2="536.5" y2="635.4" stroke="#E7B800" stroke-width="0.9" />
<line x1="504" y1="590.1" x2="504" y2="594.5" stroke="#E7B800" stroke-width="0.9" />
<line x1="562.9" y1="652.9" x2="562.9" y2="657.3" stroke="#E7B800" stroke-width="0.9" />
<line x1="472" y1="551.9" x2="472" y2="556.3" stroke="#2E9FDF" stroke-width="0.9" />
<line x1="474.5" y1="551.9" x2="474.5" y2="556.3" stroke="#2E9FDF" stroke-width="0.9" />
<line x1="478" y1="553.2" x2="478" y2="557.6" stroke="#2E9FDF" stroke-width="0.9" />
<line x1="488" y1="558.8" x2="488" y2="563.2" stroke="#2E9FDF" stroke-width="0.9" />
<line x1="490.5" y1="558.8" x2="490.5" y2="563.2" stroke="#2E9FDF" stroke-width="0.9" />
<line x1="511" y1="566.8" x2="511" y2="571.2" stroke="#2E9FDF" stroke-width="0.9" />
<line x1="514" y1="566.8" x2="514" y2="571.2" stroke="#2E9FDF" stroke-width="0.9" />
<line x1="527" y1="581" x2="527" y2="585.4" stroke="#2E9FDF" stroke-width="0.9" />
<line x1="531" y1="581.8" x2="531" y2="586.2" stroke="#2E9FDF" stroke-width="0.9" />
<line x1="546" y1="595" x2="546" y2="599.4" stroke="#2E9FDF" stroke-width="0.9" />
<line x1="552" y1="597.6" x2="552" y2="602" stroke="#2E9FDF" stroke-width="0.9" />
<line x1="556" y1="600.7" x2="556" y2="605.1" stroke="#2E9FDF" stroke-width="0.9" />
<line x1="565" y1="620.8" x2="565" y2="625.2" stroke="#2E9FDF" stroke-width="0.9" />
<line x1="571" y1="634.5" x2="571" y2="638.9" stroke="#2E9FDF" stroke-width="0.9" />
<line x1="573.5" y1="634.5" x2="573.5" y2="638.9" stroke="#2E9FDF" stroke-width="0.9" />
<line x1="576" y1="634.5" x2="576" y2="638.9" stroke="#2E9FDF" stroke-width="0.9" />
<line x1="579" y1="634.5" x2="579" y2="638.9" stroke="#2E9FDF" stroke-width="0.9" />
<line x1="581.5" y1="634.5" x2="581.5" y2="638.9" stroke="#2E9FDF" stroke-width="0.9" />
<text x="541.6" y="575.4" font-size="8.2">Strata</text>
<line x1="570.2" y1="572.5" x2="581.9" y2="572.5" stroke="#E7B800" stroke-width="1.3" />
<line x1="576" y1="570.2" x2="576" y2="574.8" stroke="#E7B800" stroke-width="1" />
<text x="587.6" y="575.4" font-size="8.2">High</text>
<line x1="611.1" y1="572.5" x2="622.8" y2="572.5" stroke="#2E9FDF" stroke-width="1.3" />
<line x1="617" y1="570.2" x2="617" y2="574.8" stroke="#2E9FDF" stroke-width="1" />
<text x="628.5" y="575.4" font-size="8.2">Low</text>
<text x="470.1" y="644" font-size="12.1"><tspan font-style="italic">P</tspan>&lt;0.0001</text>
<text x="1.5" y="737" font-size="18" font-weight="bold">i</text>
<line x1="60.6" y1="740.7" x2="60.6" y2="872.8" stroke="#555" stroke-width="1" />
<line x1="60.1" y1="872.3" x2="200.1" y2="872.3" stroke="#555" stroke-width="1" />
<line x1="57.8" y1="741.2" x2="60.6" y2="741.2" stroke="#555" stroke-width="0.9" />
<text x="56.4" y="745.4" font-size="11.9" text-anchor="end">1.5</text>
<line x1="57.8" y1="784.9" x2="60.6" y2="784.9" stroke="#555" stroke-width="0.9" />
<text x="56.4" y="789.1" font-size="11.9" text-anchor="end">1.0</text>
<line x1="57.8" y1="828.6" x2="60.6" y2="828.6" stroke="#555" stroke-width="0.9" />
<text x="56.4" y="832.8" font-size="11.9" text-anchor="end">0.5</text>
<line x1="57.8" y1="872.3" x2="60.6" y2="872.3" stroke="#555" stroke-width="0.9" />
<text x="56.4" y="876.5" font-size="11.9" text-anchor="end">0.0</text>
<line x1="75.3" y1="872.3" x2="75.3" y2="875" stroke="#555" stroke-width="0.9" />
<text x="75.3" y="888" font-size="11.9" text-anchor="middle">0</text>
<line x1="97.7" y1="872.3" x2="97.7" y2="875" stroke="#555" stroke-width="0.9" />
<text x="97.7" y="888" font-size="11.9" text-anchor="middle">1</text>
<line x1="119.6" y1="872.3" x2="119.6" y2="875" stroke="#555" stroke-width="0.9" />
<text x="119.6" y="888" font-size="11.9" text-anchor="middle">25</text>
<line x1="141.5" y1="872.3" x2="141.5" y2="875" stroke="#555" stroke-width="0.9" />
<text x="141.5" y="888" font-size="11.9" text-anchor="middle">50</text>
<line x1="163.6" y1="872.3" x2="163.6" y2="875" stroke="#555" stroke-width="0.9" />
<text x="163.6" y="888" font-size="11.9" text-anchor="middle">75</text>
<line x1="185.5" y1="872.3" x2="185.5" y2="875" stroke="#555" stroke-width="0.9" />
<text x="185.5" y="888" font-size="11.9" text-anchor="middle">100</text>
<text x="45.7" y="887.8" font-size="12.3" text-anchor="middle">T5224</text>
<text x="47.7" y="902" font-size="12.3" text-anchor="middle">(μM)</text>
<text x="19.4" y="810" font-size="12.6" text-anchor="middle" transform="rotate(-90 19.4 810)">Relative Cell</text>
<text x="35" y="810" font-size="12.6" text-anchor="middle" transform="rotate(-90 35 810)">Growth</text>
<line x1="60.6" y1="828.6" x2="199" y2="828.6" stroke="#000" stroke-width="0.9" stroke-dasharray="1.1,1.1"/>
<polyline points="75.3,784.9 97.7,789.1 119.6,777.65 141.5,775.9 163.6,777.21 185.5,831.13" fill="none" stroke="#222" stroke-width="0.7" stroke-linejoin="round" />
<polyline points="75.3,784.9 97.7,814.62 119.6,820.73 141.5,824.84 163.6,861.11 185.5,870.99" fill="none" stroke="#f0382a" stroke-width="0.8" stroke-linejoin="round" />
<line x1="75.3" y1="780.53" x2="75.3" y2="789.27" stroke="#444" stroke-width="0.8" />
<line x1="73.1" y1="780.53" x2="77.5" y2="780.53" stroke="#444" stroke-width="0.8" />
<line x1="73.1" y1="789.27" x2="77.5" y2="789.27" stroke="#444" stroke-width="0.8" />
<circle cx="75.3" cy="784.9" r="2.6" fill="#000" />
<line x1="97.7" y1="784.73" x2="97.7" y2="793.47" stroke="#444" stroke-width="0.8" />
<line x1="95.5" y1="784.73" x2="99.9" y2="784.73" stroke="#444" stroke-width="0.8" />
<line x1="95.5" y1="793.47" x2="99.9" y2="793.47" stroke="#444" stroke-width="0.8" />
<circle cx="97.7" cy="789.1" r="2.6" fill="#000" />
<line x1="119.6" y1="773.71" x2="119.6" y2="781.58" stroke="#444" stroke-width="0.8" />
<line x1="117.4" y1="773.71" x2="121.8" y2="773.71" stroke="#444" stroke-width="0.8" />
<line x1="117.4" y1="781.58" x2="121.8" y2="781.58" stroke="#444" stroke-width="0.8" />
<circle cx="119.6" cy="777.65" r="2.6" fill="#000" />
<line x1="141.5" y1="771.53" x2="141.5" y2="780.27" stroke="#444" stroke-width="0.8" />
<line x1="139.3" y1="771.53" x2="143.7" y2="771.53" stroke="#444" stroke-width="0.8" />
<line x1="139.3" y1="780.27" x2="143.7" y2="780.27" stroke="#444" stroke-width="0.8" />
<circle cx="141.5" cy="775.9" r="2.6" fill="#000" />
<line x1="163.6" y1="771.53" x2="163.6" y2="782.89" stroke="#444" stroke-width="0.8" />
<line x1="161.4" y1="771.53" x2="165.8" y2="771.53" stroke="#444" stroke-width="0.8" />
<line x1="161.4" y1="782.89" x2="165.8" y2="782.89" stroke="#444" stroke-width="0.8" />
<circle cx="163.6" cy="777.21" r="2.6" fill="#000" />
<line x1="185.5" y1="827.64" x2="185.5" y2="834.63" stroke="#444" stroke-width="0.8" />
<line x1="183.3" y1="827.64" x2="187.7" y2="827.64" stroke="#444" stroke-width="0.8" />
<line x1="183.3" y1="834.63" x2="187.7" y2="834.63" stroke="#444" stroke-width="0.8" />
<circle cx="185.5" cy="831.13" r="2.6" fill="#000" />
<line x1="75.3" y1="777.91" x2="75.3" y2="791.89" stroke="#f0382a" stroke-width="0.8" />
<line x1="73.1" y1="777.91" x2="77.5" y2="777.91" stroke="#f0382a" stroke-width="0.8" />
<line x1="73.1" y1="791.89" x2="77.5" y2="791.89" stroke="#f0382a" stroke-width="0.8" />
<path d="M72.7 787.24L77.9 787.24L75.3 782.56Z" fill="#f0382a"/>
<line x1="97.7" y1="806.92" x2="97.7" y2="822.31" stroke="#f0382a" stroke-width="0.8" />
<line x1="95.5" y1="806.92" x2="99.9" y2="806.92" stroke="#f0382a" stroke-width="0.8" />
<line x1="95.5" y1="822.31" x2="99.9" y2="822.31" stroke="#f0382a" stroke-width="0.8" />
<path d="M95.1 816.96L100.3 816.96L97.7 812.28Z" fill="#f0382a"/>
<line x1="119.6" y1="813.13" x2="119.6" y2="828.34" stroke="#f0382a" stroke-width="0.8" />
<line x1="117.4" y1="813.13" x2="121.8" y2="813.13" stroke="#f0382a" stroke-width="0.8" />
<line x1="117.4" y1="828.34" x2="121.8" y2="828.34" stroke="#f0382a" stroke-width="0.8" />
<path d="M117 823.07L122.2 823.07L119.6 818.39Z" fill="#f0382a"/>
<line x1="141.5" y1="813.48" x2="141.5" y2="836.2" stroke="#f0382a" stroke-width="0.8" />
<line x1="139.3" y1="813.48" x2="143.7" y2="813.48" stroke="#f0382a" stroke-width="0.8" />
<line x1="139.3" y1="836.2" x2="143.7" y2="836.2" stroke="#f0382a" stroke-width="0.8" />
<path d="M138.9 827.18L144.1 827.18L141.5 822.5Z" fill="#f0382a"/>
<path d="M161 863.45L166.2 863.45L163.6 858.77Z" fill="#f0382a"/>
<path d="M182.9 873.33L188.1 873.33L185.5 868.65Z" fill="#f0382a"/>
<path d="M194.7 836.6H197.5V868.4H194.7" fill="none" stroke="#444" stroke-width="0.9"/>
<text x="204.9" y="856.6" font-size="7.4" text-anchor="middle" fill="#111" stroke="#111" stroke="#111" stroke-width="0.3">****</text>
<circle cx="80.1" cy="842.1" r="2.6" fill="#000" />
<text x="85.8" y="845.4" font-size="10">LNCaP</text>
<path d="M77.6 858.45L82.6 858.45L80.1 853.95Z" fill="#f0382a"/>
<text x="85.8" y="859.2" font-size="10">PC-3</text>
<text x="226.5" y="737.5" font-size="18" font-weight="bold">j</text>
<line x1="279.6" y1="735.4" x2="279.6" y2="877.4" stroke="#555" stroke-width="1" />
<line x1="279.1" y1="876.9" x2="432.6" y2="876.9" stroke="#555" stroke-width="1" />
<line x1="276.6" y1="877" x2="279.6" y2="877" stroke="#555" stroke-width="0.9" />
<text x="274.9" y="881.3" font-size="12.3" text-anchor="end">0</text>
<line x1="276.6" y1="841.7" x2="279.6" y2="841.7" stroke="#555" stroke-width="0.9" />
<text x="274.9" y="846" font-size="12.3" text-anchor="end">200</text>
<line x1="276.6" y1="806.4" x2="279.6" y2="806.4" stroke="#555" stroke-width="0.9" />
<text x="274.9" y="810.7" font-size="12.3" text-anchor="end">400</text>
<line x1="276.6" y1="771.1" x2="279.6" y2="771.1" stroke="#555" stroke-width="0.9" />
<text x="274.9" y="775.4" font-size="12.3" text-anchor="end">600</text>
<line x1="276.6" y1="735.8" x2="279.6" y2="735.8" stroke="#555" stroke-width="0.9" />
<text x="274.9" y="740.1" font-size="12.3" text-anchor="end">800</text>
<line x1="291.8" y1="876.9" x2="291.8" y2="879.7" stroke="#555" stroke-width="0.9" />
<text x="291.8" y="893.7" font-size="12.3" text-anchor="middle">0</text>
<line x1="310.21" y1="876.9" x2="310.21" y2="879.7" stroke="#555" stroke-width="0.9" />
<text x="310.21" y="893.7" font-size="12.3" text-anchor="middle">2</text>
<line x1="328.62" y1="876.9" x2="328.62" y2="879.7" stroke="#555" stroke-width="0.9" />
<text x="328.62" y="893.7" font-size="12.3" text-anchor="middle">4</text>
<line x1="347.03" y1="876.9" x2="347.03" y2="879.7" stroke="#555" stroke-width="0.9" />
<text x="347.03" y="893.7" font-size="12.3" text-anchor="middle">7</text>
<line x1="365.44" y1="876.9" x2="365.44" y2="879.7" stroke="#555" stroke-width="0.9" />
<text x="365.44" y="893.7" font-size="12.3" text-anchor="middle">9</text>
<line x1="383.85" y1="876.9" x2="383.85" y2="879.7" stroke="#555" stroke-width="0.9" />
<text x="383.85" y="893.7" font-size="12.3" text-anchor="middle">11</text>
<line x1="402.26" y1="876.9" x2="402.26" y2="879.7" stroke="#555" stroke-width="0.9" />
<text x="402.26" y="893.7" font-size="12.3" text-anchor="middle">14</text>
<line x1="420.67" y1="876.9" x2="420.67" y2="879.7" stroke="#555" stroke-width="0.9" />
<text x="420.67" y="893.7" font-size="12.3" text-anchor="middle">16</text>
<text x="251.3" y="893.2" font-size="12.3">Day</text>
<text x="353.2" y="739.4" font-size="12.6" text-anchor="middle">PC-3</text>
<text x="248" y="811.7" font-size="12.6" text-anchor="middle" transform="rotate(-90 248 811.7)">Tumor Volume (mm<tspan font-size="8" dy="-4.5">3</tspan><tspan dy="4.5">)</tspan></text>
<polyline points="291.8,858.2 310.21,850.3 328.62,841.6 347.03,833.4 365.44,823 383.85,810.6 402.26,785.8 420.67,772.1" fill="none" stroke="#5a6cff" stroke-width="0.9" stroke-linejoin="round" />
<polyline points="291.8,859.5 310.21,858.5 328.62,849.8 347.03,846.6 365.44,839.6 383.85,830.9 402.26,822.3 420.67,809.4" fill="none" stroke="#f26a5c" stroke-width="0.9" stroke-linejoin="round" />
<line x1="291.8" y1="856.7" x2="291.8" y2="859.7" stroke="#5a6cff" stroke-width="0.8" />
<line x1="289.2" y1="856.7" x2="294.4" y2="856.7" stroke="#5a6cff" stroke-width="0.8" />
<line x1="289.2" y1="859.7" x2="294.4" y2="859.7" stroke="#5a6cff" stroke-width="0.8" />
<circle cx="291.8" cy="858.2" r="3.1" fill="#0f2dff" />
<line x1="310.21" y1="848.8" x2="310.21" y2="851.8" stroke="#5a6cff" stroke-width="0.8" />
<line x1="307.61" y1="848.8" x2="312.81" y2="848.8" stroke="#5a6cff" stroke-width="0.8" />
<line x1="307.61" y1="851.8" x2="312.81" y2="851.8" stroke="#5a6cff" stroke-width="0.8" />
<circle cx="310.21" cy="850.3" r="3.1" fill="#0f2dff" />
<line x1="328.62" y1="836.9" x2="328.62" y2="846.3" stroke="#5a6cff" stroke-width="0.8" />
<line x1="326.02" y1="836.9" x2="331.22" y2="836.9" stroke="#5a6cff" stroke-width="0.8" />
<line x1="326.02" y1="846.3" x2="331.22" y2="846.3" stroke="#5a6cff" stroke-width="0.8" />
<circle cx="328.62" cy="841.6" r="3.1" fill="#0f2dff" />
<line x1="347.03" y1="828.4" x2="347.03" y2="838.4" stroke="#5a6cff" stroke-width="0.8" />
<line x1="344.43" y1="828.4" x2="349.63" y2="828.4" stroke="#5a6cff" stroke-width="0.8" />
<line x1="344.43" y1="838.4" x2="349.63" y2="838.4" stroke="#5a6cff" stroke-width="0.8" />
<circle cx="347.03" cy="833.4" r="3.1" fill="#0f2dff" />
<line x1="365.44" y1="818.8" x2="365.44" y2="827.2" stroke="#5a6cff" stroke-width="0.8" />
<line x1="362.84" y1="818.8" x2="368.04" y2="818.8" stroke="#5a6cff" stroke-width="0.8" />
<line x1="362.84" y1="827.2" x2="368.04" y2="827.2" stroke="#5a6cff" stroke-width="0.8" />
<circle cx="365.44" cy="823" r="3.1" fill="#0f2dff" />
<line x1="383.85" y1="804.6" x2="383.85" y2="816.6" stroke="#5a6cff" stroke-width="0.8" />
<line x1="381.25" y1="804.6" x2="386.45" y2="804.6" stroke="#5a6cff" stroke-width="0.8" />
<line x1="381.25" y1="816.6" x2="386.45" y2="816.6" stroke="#5a6cff" stroke-width="0.8" />
<circle cx="383.85" cy="810.6" r="3.1" fill="#0f2dff" />
<line x1="402.26" y1="778.8" x2="402.26" y2="792.8" stroke="#5a6cff" stroke-width="0.8" />
<line x1="399.66" y1="778.8" x2="404.86" y2="778.8" stroke="#5a6cff" stroke-width="0.8" />
<line x1="399.66" y1="792.8" x2="404.86" y2="792.8" stroke="#5a6cff" stroke-width="0.8" />
<circle cx="402.26" cy="785.8" r="3.1" fill="#0f2dff" />
<line x1="420.67" y1="763.1" x2="420.67" y2="781.1" stroke="#5a6cff" stroke-width="0.8" />
<line x1="418.07" y1="763.1" x2="423.27" y2="763.1" stroke="#5a6cff" stroke-width="0.8" />
<line x1="418.07" y1="781.1" x2="423.27" y2="781.1" stroke="#5a6cff" stroke-width="0.8" />
<circle cx="420.67" cy="772.1" r="3.1" fill="#0f2dff" />
<line x1="291.8" y1="855.8" x2="291.8" y2="863.2" stroke="#f26a5c" stroke-width="0.8" />
<line x1="289.2" y1="855.8" x2="294.4" y2="855.8" stroke="#f26a5c" stroke-width="0.8" />
<line x1="289.2" y1="863.2" x2="294.4" y2="863.2" stroke="#f26a5c" stroke-width="0.8" />
<path d="M288.9 857.19L294.7 857.19L291.8 862.41Z" fill="#f5341c"/>
<line x1="310.21" y1="857" x2="310.21" y2="860" stroke="#f26a5c" stroke-width="0.8" />
<line x1="307.61" y1="857" x2="312.81" y2="857" stroke="#f26a5c" stroke-width="0.8" />
<line x1="307.61" y1="860" x2="312.81" y2="860" stroke="#f26a5c" stroke-width="0.8" />
<path d="M307.31 856.19L313.11 856.19L310.21 861.41Z" fill="#f5341c"/>
<line x1="328.62" y1="846.9" x2="328.62" y2="852.7" stroke="#f26a5c" stroke-width="0.8" />
<line x1="326.02" y1="846.9" x2="331.22" y2="846.9" stroke="#f26a5c" stroke-width="0.8" />
<line x1="326.02" y1="852.7" x2="331.22" y2="852.7" stroke="#f26a5c" stroke-width="0.8" />
<path d="M325.72 847.49L331.52 847.49L328.62 852.71Z" fill="#f5341c"/>
<line x1="347.03" y1="843.6" x2="347.03" y2="849.6" stroke="#f26a5c" stroke-width="0.8" />
<line x1="344.43" y1="843.6" x2="349.63" y2="843.6" stroke="#f26a5c" stroke-width="0.8" />
<line x1="344.43" y1="849.6" x2="349.63" y2="849.6" stroke="#f26a5c" stroke-width="0.8" />
<path d="M344.13 844.29L349.93 844.29L347.03 849.51Z" fill="#f5341c"/>
<line x1="365.44" y1="836.1" x2="365.44" y2="843.1" stroke="#f26a5c" stroke-width="0.8" />
<line x1="362.84" y1="836.1" x2="368.04" y2="836.1" stroke="#f26a5c" stroke-width="0.8" />
<line x1="362.84" y1="843.1" x2="368.04" y2="843.1" stroke="#f26a5c" stroke-width="0.8" />
<path d="M362.54 837.29L368.34 837.29L365.44 842.51Z" fill="#f5341c"/>
<line x1="383.85" y1="825.7" x2="383.85" y2="836.1" stroke="#f26a5c" stroke-width="0.8" />
<line x1="381.25" y1="825.7" x2="386.45" y2="825.7" stroke="#f26a5c" stroke-width="0.8" />
<line x1="381.25" y1="836.1" x2="386.45" y2="836.1" stroke="#f26a5c" stroke-width="0.8" />
<path d="M380.95 828.59L386.75 828.59L383.85 833.81Z" fill="#f5341c"/>
<line x1="402.26" y1="820.3" x2="402.26" y2="824.3" stroke="#f26a5c" stroke-width="0.8" />
<line x1="399.66" y1="820.3" x2="404.86" y2="820.3" stroke="#f26a5c" stroke-width="0.8" />
<line x1="399.66" y1="824.3" x2="404.86" y2="824.3" stroke="#f26a5c" stroke-width="0.8" />
<path d="M399.36 819.99L405.16 819.99L402.26 825.21Z" fill="#f5341c"/>
<line x1="420.67" y1="804.7" x2="420.67" y2="814.1" stroke="#f26a5c" stroke-width="0.8" />
<line x1="418.07" y1="804.7" x2="423.27" y2="804.7" stroke="#f26a5c" stroke-width="0.8" />
<line x1="418.07" y1="814.1" x2="423.27" y2="814.1" stroke="#f26a5c" stroke-width="0.8" />
<path d="M417.77 807.09L423.57 807.09L420.67 812.31Z" fill="#f5341c"/>
<path d="M427.6 770.9H432.6V806.4H427.6" fill="none" stroke="#444" stroke-width="0.9"/>
<text x="420.3" y="795.7" font-size="9.8" text-anchor="middle" fill="#111" stroke="#111" stroke="#111" stroke-width="0.3">****</text>
<circle cx="309.7" cy="756" r="3.9" fill="#0f2dff" />
<text x="317.2" y="760" font-size="12.3">Veh</text>
<path d="M306.2 768.25L313.2 768.25L309.7 774.55Z" fill="#f5341c"/>
<line x1="305" y1="771.2" x2="314.4" y2="771.2" stroke="#f26a5c" stroke-width="0.6" />
<text x="317.2" y="775.7" font-size="12.3">T5224</text>
<text x="455.5" y="738.5" font-size="18" font-weight="bold">k</text>
<line x1="515.4" y1="736" x2="515.4" y2="880.2" stroke="#555" stroke-width="1" />
<line x1="514.9" y1="879.7" x2="665.8" y2="879.7" stroke="#555" stroke-width="1" />
<line x1="512.4" y1="880.4" x2="515.4" y2="880.4" stroke="#555" stroke-width="0.9" />
<text x="511.8" y="884.7" font-size="12" text-anchor="end">0</text>
<line x1="512.4" y1="856.35" x2="515.4" y2="856.35" stroke="#555" stroke-width="0.9" />
<text x="511.8" y="860.65" font-size="12" text-anchor="end">200</text>
<line x1="512.4" y1="832.3" x2="515.4" y2="832.3" stroke="#555" stroke-width="0.9" />
<text x="511.8" y="836.6" font-size="12" text-anchor="end">400</text>
<line x1="512.4" y1="808.25" x2="515.4" y2="808.25" stroke="#555" stroke-width="0.9" />
<text x="511.8" y="812.55" font-size="12" text-anchor="end">600</text>
<line x1="512.4" y1="784.2" x2="515.4" y2="784.2" stroke="#555" stroke-width="0.9" />
<text x="511.8" y="788.5" font-size="12" text-anchor="end">800</text>
<line x1="512.4" y1="760.15" x2="515.4" y2="760.15" stroke="#555" stroke-width="0.9" />
<text x="511.8" y="764.45" font-size="12" text-anchor="end">1000</text>
<line x1="512.4" y1="736.1" x2="515.4" y2="736.1" stroke="#555" stroke-width="0.9" />
<text x="511.8" y="740.4" font-size="12" text-anchor="end">1200</text>
<line x1="526.6" y1="879.7" x2="526.6" y2="882.5" stroke="#555" stroke-width="0.9" />
<text x="526.6" y="894.5" font-size="12.3" text-anchor="middle">0</text>
<line x1="542.66" y1="879.7" x2="542.66" y2="882.5" stroke="#555" stroke-width="0.9" />
<text x="542.66" y="894.5" font-size="12.3" text-anchor="middle">2</text>
<line x1="558.72" y1="879.7" x2="558.72" y2="882.5" stroke="#555" stroke-width="0.9" />
<text x="558.72" y="894.5" font-size="12.3" text-anchor="middle">4</text>
<line x1="574.78" y1="879.7" x2="574.78" y2="882.5" stroke="#555" stroke-width="0.9" />
<text x="574.78" y="894.5" font-size="12.3" text-anchor="middle">7</text>
<line x1="590.84" y1="879.7" x2="590.84" y2="882.5" stroke="#555" stroke-width="0.9" />
<text x="590.84" y="894.5" font-size="12.3" text-anchor="middle">9</text>
<line x1="606.9" y1="879.7" x2="606.9" y2="882.5" stroke="#555" stroke-width="0.9" />
<text x="606.9" y="894.5" font-size="12.3" text-anchor="middle">11</text>
<line x1="622.96" y1="879.7" x2="622.96" y2="882.5" stroke="#555" stroke-width="0.9" />
<text x="622.96" y="894.5" font-size="12.3" text-anchor="middle">14</text>
<line x1="639.02" y1="879.7" x2="639.02" y2="882.5" stroke="#555" stroke-width="0.9" />
<text x="639.02" y="894.5" font-size="12.3" text-anchor="middle">16</text>
<line x1="655.08" y1="879.7" x2="655.08" y2="882.5" stroke="#555" stroke-width="0.9" />
<text x="655.08" y="894.5" font-size="12.3" text-anchor="middle">17</text>
<text x="494" y="895" font-size="12.3">Day</text>
<text x="593.8" y="741.7" font-size="12.6" text-anchor="middle">NCI-H660</text>
<text x="479.7" y="806.5" font-size="12.6" text-anchor="middle" transform="rotate(-90 479.7 806.5)">Tumor Volume (mm<tspan font-size="8" dy="-4.5">3</tspan><tspan dy="4.5">)</tspan></text>
<polyline points="526.6,860.5 542.66,852.9 558.72,846.5 574.78,840.1 590.84,836.2 606.9,822.7 622.96,810.7 639.02,796.6 655.08,771.6" fill="none" stroke="#5a6cff" stroke-width="0.9" stroke-linejoin="round" />
<polyline points="526.6,860 542.66,866.1 558.72,866.4 574.78,868.2 590.84,869 606.9,867.4 622.96,866.9 639.02,859.2 655.08,851.6" fill="none" stroke="#f26a5c" stroke-width="0.9" stroke-linejoin="round" />
<line x1="526.6" y1="856.7" x2="526.6" y2="864.3" stroke="#5a6cff" stroke-width="0.8" />
<line x1="524" y1="856.7" x2="529.2" y2="856.7" stroke="#5a6cff" stroke-width="0.8" />
<line x1="524" y1="864.3" x2="529.2" y2="864.3" stroke="#5a6cff" stroke-width="0.8" />
<circle cx="526.6" cy="860.5" r="3.1" fill="#0f2dff" />
<line x1="542.66" y1="849.7" x2="542.66" y2="856.1" stroke="#5a6cff" stroke-width="0.8" />
<line x1="540.06" y1="849.7" x2="545.26" y2="849.7" stroke="#5a6cff" stroke-width="0.8" />
<line x1="540.06" y1="856.1" x2="545.26" y2="856.1" stroke="#5a6cff" stroke-width="0.8" />
<circle cx="542.66" cy="852.9" r="3.1" fill="#0f2dff" />
<line x1="558.72" y1="841.8" x2="558.72" y2="851.2" stroke="#5a6cff" stroke-width="0.8" />
<line x1="556.12" y1="841.8" x2="561.32" y2="841.8" stroke="#5a6cff" stroke-width="0.8" />
<line x1="556.12" y1="851.2" x2="561.32" y2="851.2" stroke="#5a6cff" stroke-width="0.8" />
<circle cx="558.72" cy="846.5" r="3.1" fill="#0f2dff" />
<line x1="574.78" y1="834.7" x2="574.78" y2="845.5" stroke="#5a6cff" stroke-width="0.8" />
<line x1="572.18" y1="834.7" x2="577.38" y2="834.7" stroke="#5a6cff" stroke-width="0.8" />
<line x1="572.18" y1="845.5" x2="577.38" y2="845.5" stroke="#5a6cff" stroke-width="0.8" />
<circle cx="574.78" cy="840.1" r="3.1" fill="#0f2dff" />
<line x1="590.84" y1="832.4" x2="590.84" y2="840" stroke="#5a6cff" stroke-width="0.8" />
<line x1="588.24" y1="832.4" x2="593.44" y2="832.4" stroke="#5a6cff" stroke-width="0.8" />
<line x1="588.24" y1="840" x2="593.44" y2="840" stroke="#5a6cff" stroke-width="0.8" />
<circle cx="590.84" cy="836.2" r="3.1" fill="#0f2dff" />
<line x1="606.9" y1="816.7" x2="606.9" y2="828.7" stroke="#5a6cff" stroke-width="0.8" />
<line x1="604.3" y1="816.7" x2="609.5" y2="816.7" stroke="#5a6cff" stroke-width="0.8" />
<line x1="604.3" y1="828.7" x2="609.5" y2="828.7" stroke="#5a6cff" stroke-width="0.8" />
<circle cx="606.9" cy="822.7" r="3.1" fill="#0f2dff" />
<line x1="622.96" y1="802.4" x2="622.96" y2="819" stroke="#5a6cff" stroke-width="0.8" />
<line x1="620.36" y1="802.4" x2="625.56" y2="802.4" stroke="#5a6cff" stroke-width="0.8" />
<line x1="620.36" y1="819" x2="625.56" y2="819" stroke="#5a6cff" stroke-width="0.8" />
<circle cx="622.96" cy="810.7" r="3.1" fill="#0f2dff" />
<line x1="639.02" y1="784.5" x2="639.02" y2="808.7" stroke="#5a6cff" stroke-width="0.8" />
<line x1="636.42" y1="784.5" x2="641.62" y2="784.5" stroke="#5a6cff" stroke-width="0.8" />
<line x1="636.42" y1="808.7" x2="641.62" y2="808.7" stroke="#5a6cff" stroke-width="0.8" />
<circle cx="639.02" cy="796.6" r="3.1" fill="#0f2dff" />
<line x1="655.08" y1="756.9" x2="655.08" y2="786.3" stroke="#5a6cff" stroke-width="0.8" />
<line x1="652.48" y1="756.9" x2="657.68" y2="756.9" stroke="#5a6cff" stroke-width="0.8" />
<line x1="652.48" y1="786.3" x2="657.68" y2="786.3" stroke="#5a6cff" stroke-width="0.8" />
<circle cx="655.08" cy="771.6" r="3.1" fill="#0f2dff" />
<line x1="526.6" y1="855.1" x2="526.6" y2="864.9" stroke="#f26a5c" stroke-width="0.8" />
<line x1="524" y1="855.1" x2="529.2" y2="855.1" stroke="#f26a5c" stroke-width="0.8" />
<line x1="524" y1="864.9" x2="529.2" y2="864.9" stroke="#f26a5c" stroke-width="0.8" />
<path d="M523.7 857.69L529.5 857.69L526.6 862.91Z" fill="#f5341c"/>
<line x1="542.66" y1="864.6" x2="542.66" y2="867.6" stroke="#f26a5c" stroke-width="0.8" />
<line x1="540.06" y1="864.6" x2="545.26" y2="864.6" stroke="#f26a5c" stroke-width="0.8" />
<line x1="540.06" y1="867.6" x2="545.26" y2="867.6" stroke="#f26a5c" stroke-width="0.8" />
<path d="M539.76 863.79L545.56 863.79L542.66 869.01Z" fill="#f5341c"/>
<line x1="558.72" y1="863.2" x2="558.72" y2="869.6" stroke="#f26a5c" stroke-width="0.8" />
<line x1="556.12" y1="863.2" x2="561.32" y2="863.2" stroke="#f26a5c" stroke-width="0.8" />
<line x1="556.12" y1="869.6" x2="561.32" y2="869.6" stroke="#f26a5c" stroke-width="0.8" />
<path d="M555.82 864.09L561.62 864.09L558.72 869.31Z" fill="#f5341c"/>
<line x1="574.78" y1="865.7" x2="574.78" y2="870.7" stroke="#f26a5c" stroke-width="0.8" />
<line x1="572.18" y1="865.7" x2="577.38" y2="865.7" stroke="#f26a5c" stroke-width="0.8" />
<line x1="572.18" y1="870.7" x2="577.38" y2="870.7" stroke="#f26a5c" stroke-width="0.8" />
<path d="M571.88 865.89L577.68 865.89L574.78 871.11Z" fill="#f5341c"/>
<line x1="590.84" y1="866.5" x2="590.84" y2="871.5" stroke="#f26a5c" stroke-width="0.8" />
<line x1="588.24" y1="866.5" x2="593.44" y2="866.5" stroke="#f26a5c" stroke-width="0.8" />
<line x1="588.24" y1="871.5" x2="593.44" y2="871.5" stroke="#f26a5c" stroke-width="0.8" />
<path d="M587.94 866.69L593.74 866.69L590.84 871.91Z" fill="#f5341c"/>
<line x1="606.9" y1="863.6" x2="606.9" y2="871.2" stroke="#f26a5c" stroke-width="0.8" />
<line x1="604.3" y1="863.6" x2="609.5" y2="863.6" stroke="#f26a5c" stroke-width="0.8" />
<line x1="604.3" y1="871.2" x2="609.5" y2="871.2" stroke="#f26a5c" stroke-width="0.8" />
<path d="M604 865.09L609.8 865.09L606.9 870.31Z" fill="#f5341c"/>
<line x1="622.96" y1="862.7" x2="622.96" y2="871.1" stroke="#f26a5c" stroke-width="0.8" />
<line x1="620.36" y1="862.7" x2="625.56" y2="862.7" stroke="#f26a5c" stroke-width="0.8" />
<line x1="620.36" y1="871.1" x2="625.56" y2="871.1" stroke="#f26a5c" stroke-width="0.8" />
<path d="M620.06 864.59L625.86 864.59L622.96 869.81Z" fill="#f5341c"/>
<line x1="639.02" y1="852.6" x2="639.02" y2="865.8" stroke="#f26a5c" stroke-width="0.8" />
<line x1="636.42" y1="852.6" x2="641.62" y2="852.6" stroke="#f26a5c" stroke-width="0.8" />
<line x1="636.42" y1="865.8" x2="641.62" y2="865.8" stroke="#f26a5c" stroke-width="0.8" />
<path d="M636.12 856.89L641.92 856.89L639.02 862.11Z" fill="#f5341c"/>
<line x1="655.08" y1="844.2" x2="655.08" y2="859" stroke="#f26a5c" stroke-width="0.8" />
<line x1="652.48" y1="844.2" x2="657.68" y2="844.2" stroke="#f26a5c" stroke-width="0.8" />
<line x1="652.48" y1="859" x2="657.68" y2="859" stroke="#f26a5c" stroke-width="0.8" />
<path d="M652.18 849.29L657.98 849.29L655.08 854.51Z" fill="#f5341c"/>
<path d="M663.8 771.9H669.7V850.3H663.8" fill="none" stroke="#444" stroke-width="0.9"/>
<text x="659.5" y="814.5" font-size="9.8" text-anchor="middle" fill="#111" stroke="#111" stroke="#111" stroke-width="0.3">****</text>
<circle cx="544" cy="759.5" r="3.9" fill="#0f2dff" />
<text x="550.9" y="763.4" font-size="12.3">Veh</text>
<path d="M540.5 771.45L547.5 771.45L544 777.75Z" fill="#f5341c"/>
<line x1="539.3" y1="774.4" x2="548.7" y2="774.4" stroke="#f26a5c" stroke-width="0.6" />
<text x="550.9" y="779.3" font-size="12.3">T5224</text>
</svg>
</body></html>
